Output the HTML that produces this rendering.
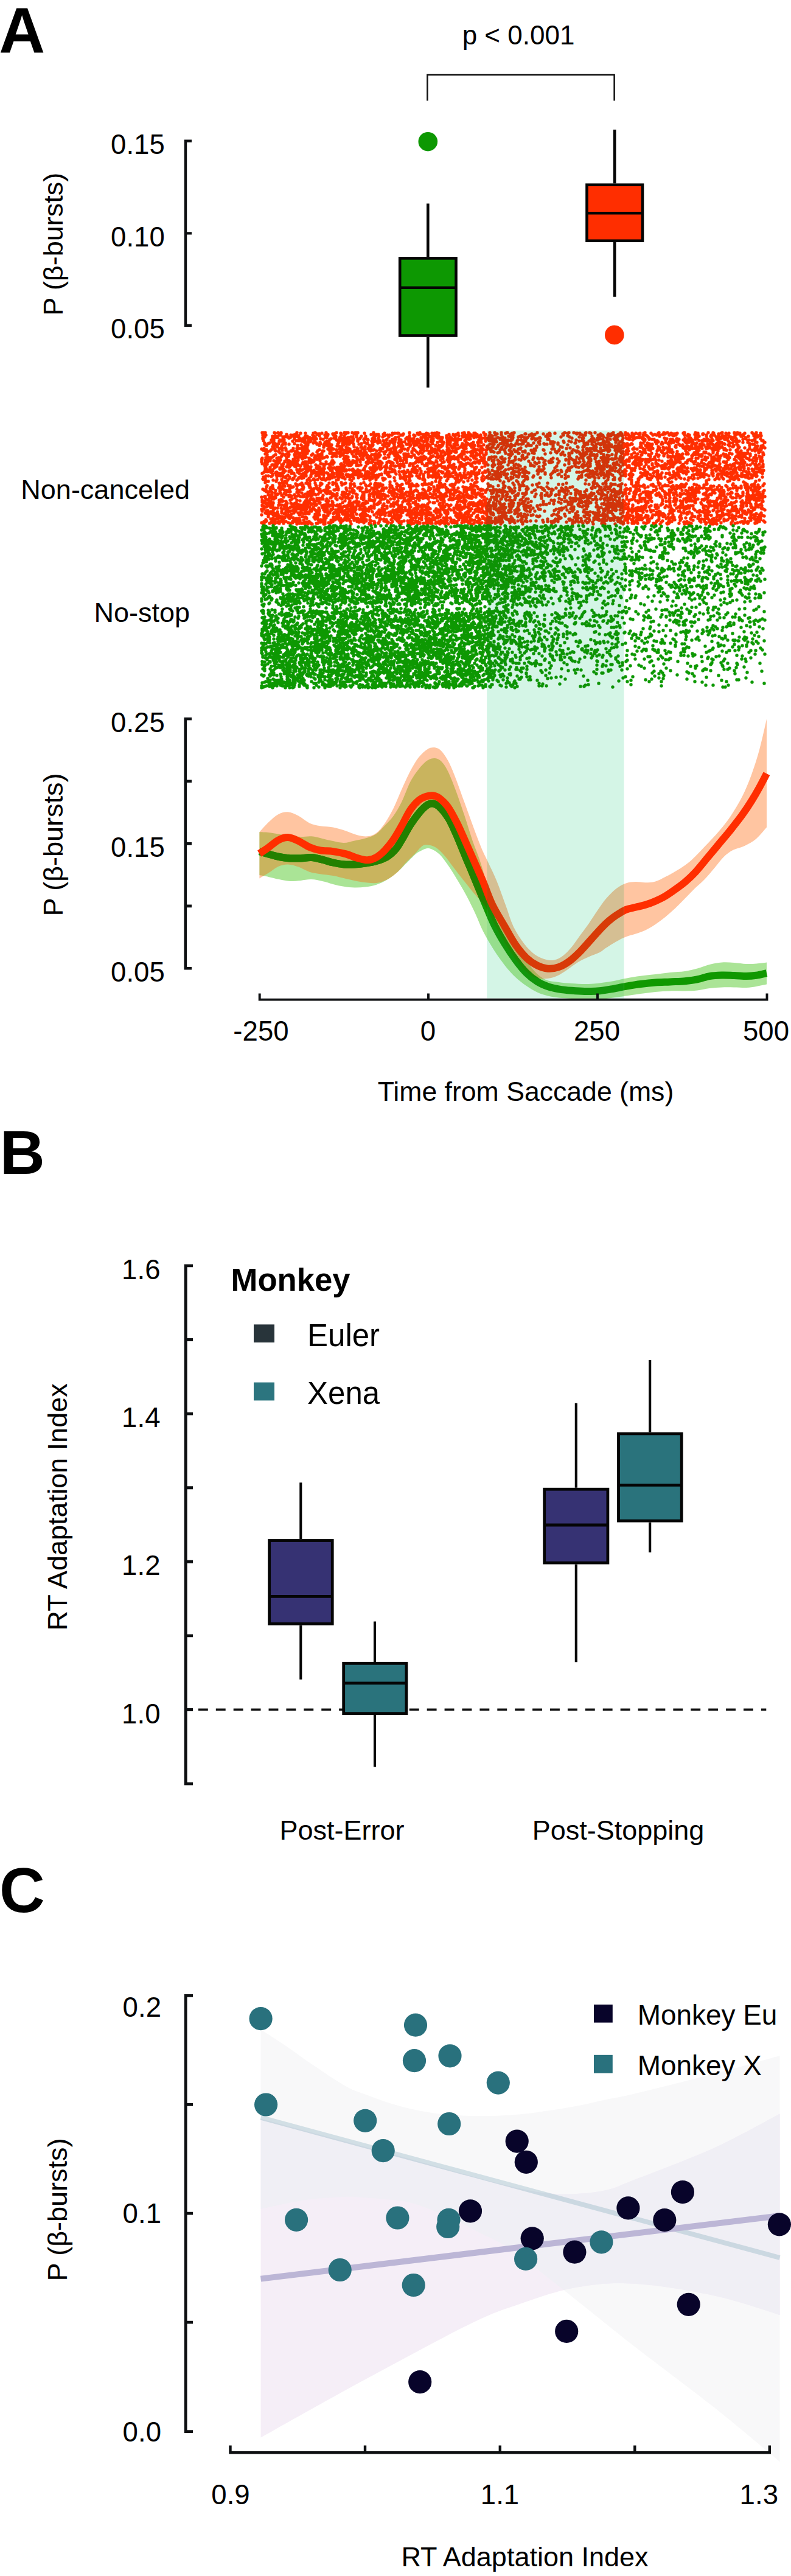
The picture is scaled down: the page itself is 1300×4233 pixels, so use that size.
<!DOCTYPE html>
<html><head><meta charset="utf-8"><title>Figure</title>
<style>html,body{margin:0;padding:0;background:#fff}svg{display:block}text{font-family:"Liberation Sans",sans-serif;fill:#000}.b{font-weight:bold}.ax{stroke:#0d0f11;fill:none}</style></head>
<body>
<svg width="1300" height="4233" viewBox="0 0 1300 4233">
<rect width="1300" height="4233" fill="#fff"/>
<g id="panelA">
<text class="b" x="-1.8" y="86.6" font-size="105">A</text>
<text x="852" y="72.8" font-size="44" text-anchor="middle">p &lt; 0.001</text>
<path d="M702.4 165.6V123H1009.6V165.6" fill="none" stroke="#111" stroke-width="2.5"/>
<path class="ax" stroke-width="4.4" d="M315 231.8H305V534.7H315M305 383.4H315"/>
<text x="270.8" y="253.4" font-size="45.6" text-anchor="end">0.15</text>
<text x="270.8" y="405.0" font-size="45.6" text-anchor="end">0.10</text>
<text x="270.8" y="556.3" font-size="45.6" text-anchor="end">0.05</text>
<text transform="translate(102.6 401.2) rotate(-90)" font-size="45" text-anchor="middle">P (β-bursts)</text>
<path d="M703.3 334.4V422.1M703.3 553.8V636.8" stroke="#050505" stroke-width="4.6" fill="none"/>
<rect x="657.2" y="424.4" width="92.3" height="127.1" fill="#0d9802" stroke="#050505" stroke-width="4.6"/>
<path d="M657.2 472.8H749.5" stroke="#050505" stroke-width="4.6"/>
<path d="M1010.2 212.9V301.4M1010.2 398.0V487.8" stroke="#050505" stroke-width="4.6" fill="none"/>
<rect x="964.5" y="303.7" width="91.5" height="92.0" fill="#ff2e00" stroke="#050505" stroke-width="4.6"/>
<path d="M964.5 350.2H1056.0" stroke="#050505" stroke-width="4.6"/>
<circle cx="703.3" cy="232.7" r="15.8" fill="#0d9802"/>
<circle cx="1009.8" cy="550.4" r="15.8" fill="#ff2e00"/>
<text x="312" y="820" font-size="45" text-anchor="end">Non-canceled</text>
<text x="312" y="1022.2" font-size="45" text-anchor="end">No-stop</text>
<rect x="800.2" y="707.5" width="225.3" height="933.0" fill="#d4f5e6"/>
<path stroke-width="5.4" stroke-linecap="round" fill="none" stroke="#ff2e00" d="M431 711h0m2 0h0m3 0h0m15 0h0m6 0h0m5 0h0m26 0h0m30 0h0m18 0h0m17 0h0m13 0h0m1 0h0m3 0h0m2 0h0m7 0h0m5 0h0m2 0h0m2 0h0m26 0h0m59 0h0m17 0h0m28 0h0m45 0h0m7 0h0m25 0h0M452 712h0m10 0h0m32 0h0m8 0h0m13 0h0m14 0h0m31 0h0m23 0h0m16 0h0m33 0h0m13 0h0m4 0h0m4 0h0m2 0h0m31 0h0m15 0h0m9 0h0m4 0h0m7 0h0m32 0h0m7 0h0m11 0h0m8 0h0m2 0h0M459 713h0m28 0h0m34 0h0m3 0h0m1 0h0m22 0h0m2 0h0m1 0h0m18 0h0m14 0h0m63 0h0m1 0h0m17 0h0m24 0h0m3 0h0m1 0h0m13 0h0m8 0h0m4 0h0m3 0h0m63 0h0M471 714h0m14 0h0m36 0h0m18 0h0m22 0h0m25 0h0m24 0h0m9 0h0m2 0h0m1 0h0m8 0h0m58 0h0m7 0h0m3 0h0m40 0h0m7 0h0m5 0h0m13 0h0m1 0h0m9 0h0m9 0h0m2 0h0m13 0h0m1 0h0M432 715h0m5 0h0m24 0h0m17 0h0m4 0h0m4 0h0m28 0h0m20 0h0m14 0h0m67 0h0m1 0h0m3 0h0m14 0h0m4 0h0m3 0h0m4 0h0m15 0h0m3 0h0m18 0h0m16 0h0m5 0h0m10 0h0m34 0h0m24 0h0m5 0h0m6 0h0m10 0h0m7 0h0M471 716h0m1 0h0m10 0h0m6 0h0m3 0h0m34 0h0m13 0h0m28 0h0m20 0h0m31 0h0m15 0h0m41 0h0m9 0h0m32 0h0m1 0h0m19 0h0m20 0h0m22 0h0m3 0h0m1 0h0m5 0h0m5 0h0M434 717h0m14 0h0m4 0h0m1 0h0m2 0h0m2 0h0m22 0h0m8 0h0m15 0h0m3 0h0m11 0h0m34 0h0m2 0h0m42 0h0m7 0h0m22 0h0m83 0h0m11 0h0m2 0h0m2 0h0m27 0h0m12 0h0m9 0h0m4 0h0m15 0h0M435 718h0m30 0h0m2 0h0m1 0h0m4 0h0m1 0h0m17 0h0m25 0h0m1 0h0m2 0h0m41 0h0m18 0h0m3 0h0m6 0h0m43 0h0m10 0h0m16 0h0m52 0h0m1 0h0m32 0h0m21 0h0m4 0h0m18 0h0m4 0h0m1 0h0M432 719h0m16 0h0m8 0h0m21 0h0m26 0h0m3 0h0m3 0h0m26 0h0m2 0h0m35 0h0m2 0h0m40 0h0m36 0h0m19 0h0m23 0h0m2 0h0m5 0h0m19 0h0m7 0h0m1 0h0m1 0h0m7 0h0m1 0h0m44 0h0m10 0h0M451 720h0m24 0h0m9 0h0m8 0h0m7 0h0m3 0h0m16 0h0m31 0h0m9 0h0m4 0h0m3 0h0m2 0h0m3 0h0m3 0h0m7 0h0m12 0h0m21 0h0m9 0h0m52 0h0m6 0h0m22 0h0m8 0h0m10 0h0m3 0h0m2 0h0m17 0h0m6 0h0m44 0h0m4 0h0m3 0h0M432 721h0m18 0h0m15 0h0m19 0h0m10 0h0m14 0h0m4 0h0m4 0h0m3 0h0m1 0h0m7 0h0m17 0h0m8 0h0m39 0h0m8 0h0m13 0h0m4 0h0m32 0h0m19 0h0m2 0h0m23 0h0m19 0h0m1 0h0m29 0h0m11 0h0m17 0h0m4 0h0M494 722h0m4 0h0m18 0h0m15 0h0m11 0h0m19 0h0m10 0h0m10 0h0m17 0h0m5 0h0m1 0h0m32 0h0m9 0h0m5 0h0m6 0h0m15 0h0m7 0h0m1 0h0m7 0h0m6 0h0m10 0h0m1 0h0m34 0h0m17 0h0m3 0h0m9 0h0m5 0h0m20 0h0m9 0h0M446 723h0m1 0h0m13 0h0m7 0h0m40 0h0m10 0h0m36 0h0m4 0h0m3 0h0m8 0h0m20 0h0m17 0h0m11 0h0m19 0h0m24 0h0m50 0h0m17 0h0m9 0h0m7 0h0m3 0h0m1 0h0m2 0h0m5 0h0m34 0h0M433 724h0m17 0h0m37 0h0m2 0h0m1 0h0m2 0h0m9 0h0m40 0h0m17 0h0m5 0h0m13 0h0m3 0h0m1 0h0m44 0h0m6 0h0m16 0h0m43 0h0m10 0h0m10 0h0m3 0h0m28 0h0m24 0h0m24 0h0M447 725h0m12 0h0m3 0h0m3 0h0m16 0h0m15 0h0m1 0h0m14 0h0m6 0h0m20 0h0m3 0h0m27 0h0m21 0h0m23 0h0m6 0h0m3 0h0m21 0h0m2 0h0m1 0h0m2 0h0m10 0h0m16 0h0m3 0h0m3 0h0m5 0h0m11 0h0m1 0h0m28 0h0m14 0h0m61 0h0M448 726h0m52 0h0m6 0h0m3 0h0m47 0h0m8 0h0m8 0h0m8 0h0m34 0h0m17 0h0m12 0h0m6 0h0m10 0h0m6 0h0m8 0h0m13 0h0m11 0h0m5 0h0m6 0h0m18 0h0m12 0h0m28 0h0m20 0h0M526 727h0m8 0h0m5 0h0m18 0h0m9 0h0m11 0h0m22 0h0m26 0h0m35 0h0m21 0h0m2 0h0m5 0h0m31 0h0m10 0h0m6 0h0m5 0h0m9 0h0m2 0h0m27 0h0m7 0h0m6 0h0M435 728h0m8 0h0m8 0h0m18 0h0m32 0h0m14 0h0m5 0h0m21 0h0m22 0h0m38 0h0m3 0h0m17 0h0m15 0h0m10 0h0m2 0h0m7 0h0m5 0h0m13 0h0m6 0h0m3 0h0m6 0h0m1 0h0m46 0h0M441 729h0m8 0h0m9 0h0m26 0h0m22 0h0m20 0h0m1 0h0m11 0h0m1 0h0m24 0h0m6 0h0m2 0h0m23 0h0m9 0h0m9 0h0m23 0h0m5 0h0m62 0h0m9 0h0m49 0h0m9 0h0m6 0h0m11 0h0M435 730h0m19 0h0m2 0h0m9 0h0m4 0h0m6 0h0m46 0h0m12 0h0m22 0h0m15 0h0m2 0h0m2 0h0m7 0h0m9 0h0m58 0h0m20 0h0m2 0h0m58 0h0m8 0h0m10 0h0m24 0h0M437 731h0m27 0h0m31 0h0m11 0h0m39 0h0m20 0h0m48 0h0m16 0h0m1 0h0m3 0h0m15 0h0m8 0h0m2 0h0m2 0h0m15 0h0m10 0h0m7 0h0m3 0h0m10 0h0m21 0h0m9 0h0m5 0h0m11 0h0m1 0h0m12 0h0m31 0h0M437 732h0m1 0h0m14 0h0m37 0h0m14 0h0m22 0h0m7 0h0m5 0h0m2 0h0m2 0h0m66 0h0m24 0h0m8 0h0m9 0h0m13 0h0m20 0h0m19 0h0m4 0h0m3 0h0m9 0h0m6 0h0m5 0h0m21 0h0m11 0h0m14 0h0m3 0h0m1 0h0m1 0h0m2 0h0M463 733h0m91 0h0m3 0h0m5 0h0m47 0h0m3 0h0m20 0h0m23 0h0m3 0h0m4 0h0m12 0h0m24 0h0m6 0h0m14 0h0m23 0h0m5 0h0m13 0h0m3 0h0m4 0h0m9 0h0m2 0h0m9 0h0m2 0h0m2 0h0M448 734h0m8 0h0m41 0h0m3 0h0m5 0h0m77 0h0m12 0h0m6 0h0m59 0h0m30 0h0m6 0h0m25 0h0m4 0h0m1 0h0m10 0h0m12 0h0m44 0h0M532 735h0m9 0h0m28 0h0m24 0h0m14 0h0m2 0h0m27 0h0m60 0h0m7 0h0m53 0h0m9 0h0m10 0h0m1 0h0m15 0h0m9 0h0M469 736h0m73 0h0m1 0h0m2 0h0m26 0h0m1 0h0m15 0h0m59 0h0m5 0h0m10 0h0m30 0h0m1 0h0m17 0h0m13 0h0m21 0h0m1 0h0m17 0h0M434 737h0m17 0h0m9 0h0m4 0h0m18 0h0m6 0h0m2 0h0m2 0h0m4 0h0m3 0h0m61 0h0m2 0h0m34 0h0m9 0h0m20 0h0m4 0h0m42 0h0m8 0h0m17 0h0m6 0h0m8 0h0m27 0h0m12 0h0m4 0h0m13 0h0m13 0h0M430 738h0m22 0h0m7 0h0m11 0h0m33 0h0m2 0h0m34 0h0m9 0h0m10 0h0m12 0h0m3 0h0m2 0h0m13 0h0m22 0h0m32 0h0m8 0h0m15 0h0m14 0h0m1 0h0m13 0h0m16 0h0m6 0h0m5 0h0m16 0h0m15 0h0m12 0h0m17 0h0m14 0h0M438 739h0m8 0h0m51 0h0m28 0h0m28 0h0m47 0h0m9 0h0m6 0h0m9 0h0m13 0h0m1 0h0m4 0h0m17 0h0m1 0h0m10 0h0m25 0h0m17 0h0m1 0h0m1 0h0m5 0h0m16 0h0m3 0h0m11 0h0m31 0h0m4 0h0m1 0h0m3 0h0m5 0h0m1 0h0m6 0h0M433 740h0m1 0h0m3 0h0m15 0h0m12 0h0m6 0h0m11 0h0m18 0h0m1 0h0m66 0h0m17 0h0m2 0h0m14 0h0m8 0h0m6 0h0m35 0h0m22 0h0m12 0h0m20 0h0m7 0h0m26 0h0m57 0h0m7 0h0M444 741h0m9 0h0m25 0h0m2 0h0m8 0h0m12 0h0m7 0h0m15 0h0m8 0h0m2 0h0m10 0h0m2 0h0m17 0h0m6 0h0m16 0h0m5 0h0m5 0h0m16 0h0m10 0h0m7 0h0m31 0h0m3 0h0m31 0h0m6 0h0m19 0h0m1 0h0m6 0h0m5 0h0m12 0h0m5 0h0m31 0h0m1 0h0m4 0h0m8 0h0m2 0h0M437 742h0m3 0h0m18 0h0m27 0h0m20 0h0m39 0h0m10 0h0m14 0h0m1 0h0m4 0h0m4 0h0m4 0h0m12 0h0m7 0h0m34 0h0m16 0h0m1 0h0m26 0h0m29 0h0m7 0h0m14 0h0m9 0h0m4 0h0m20 0h0m3 0h0m14 0h0m12 0h0M474 743h0m23 0h0m24 0h0m38 0h0m12 0h0m6 0h0m54 0h0m13 0h0m4 0h0m10 0h0m27 0h0m30 0h0m12 0h0m21 0h0m2 0h0m18 0h0m5 0h0m4 0h0m1 0h0M460 744h0m30 0h0m7 0h0m5 0h0m55 0h0m3 0h0m6 0h0m5 0h0m8 0h0m14 0h0m5 0h0m4 0h0m39 0h0m11 0h0m25 0h0m13 0h0m19 0h0m6 0h0m3 0h0m13 0h0m6 0h0m4 0h0m19 0h0m17 0h0m15 0h0m7 0h0M487 745h0m6 0h0m12 0h0m24 0h0m13 0h0m1 0h0m5 0h0m2 0h0m2 0h0m4 0h0m31 0h0m14 0h0m22 0h0m30 0h0m35 0h0m6 0h0m11 0h0m1 0h0m33 0h0m36 0h0m8 0h0M436 746h0m28 0h0m1 0h0m6 0h0m1 0h0m14 0h0m5 0h0m23 0h0m14 0h0m1 0h0m34 0h0m16 0h0m6 0h0m5 0h0m27 0h0m15 0h0m9 0h0m6 0h0m3 0h0m2 0h0m12 0h0m3 0h0m4 0h0m17 0h0m31 0h0m6 0h0m11 0h0m22 0h0m5 0h0m36 0h0M439 747h0m14 0h0m12 0h0m10 0h0m9 0h0m7 0h0m7 0h0m4 0h0m23 0h0m22 0h0m48 0h0m1 0h0m15 0h0m4 0h0m6 0h0m32 0h0m11 0h0m55 0h0m12 0h0m56 0h0m1 0h0M468 748h0m44 0h0m11 0h0m6 0h0m31 0h0m1 0h0m3 0h0m32 0h0m2 0h0m1 0h0m5 0h0m15 0h0m6 0h0m13 0h0m16 0h0m26 0h0m1 0h0m57 0h0m18 0h0m28 0h0m11 0h0m2 0h0M450 749h0m13 0h0m30 0h0m25 0h0m2 0h0m7 0h0m23 0h0m42 0h0m57 0h0m3 0h0m2 0h0m58 0h0m42 0h0m1 0h0m4 0h0m15 0h0m5 0h0m2 0h0M474 750h0m11 0h0m12 0h0m4 0h0m36 0h0m16 0h0m6 0h0m10 0h0m12 0h0m16 0h0m12 0h0m14 0h0m47 0h0m2 0h0m3 0h0m22 0h0m11 0h0m3 0h0m9 0h0m3 0h0m5 0h0m9 0h0m9 0h0m9 0h0M440 751h0m8 0h0m14 0h0m26 0h0m3 0h0m2 0h0m5 0h0m5 0h0m35 0h0m8 0h0m26 0h0m13 0h0m1 0h0m30 0h0m7 0h0m16 0h0m18 0h0m11 0h0m8 0h0m16 0h0m2 0h0m15 0h0m8 0h0m4 0h0m4 0h0m17 0h0m24 0h0m12 0h0m12 0h0M437 752h0m5 0h0m2 0h0m14 0h0m13 0h0m15 0h0m11 0h0m2 0h0m2 0h0m16 0h0m16 0h0m35 0h0m35 0h0m7 0h0m6 0h0m3 0h0m1 0h0m13 0h0m20 0h0m11 0h0m2 0h0m1 0h0m16 0h0m8 0h0m1 0h0m8 0h0m8 0h0m12 0h0m6 0h0m11 0h0m1 0h0m13 0h0M431 753h0m7 0h0m7 0h0m10 0h0m1 0h0m29 0h0m23 0h0m11 0h0m5 0h0m6 0h0m36 0h0m3 0h0m18 0h0m9 0h0m10 0h0m4 0h0m21 0h0m2 0h0m1 0h0m18 0h0m1 0h0m4 0h0m1 0h0m29 0h0m49 0h0m23 0h0m10 0h0m10 0h0m15 0h0m2 0h0M444 754h0m13 0h0m40 0h0m12 0h0m17 0h0m39 0h0m29 0h0m96 0h0m8 0h0m7 0h0m23 0h0m10 0h0m4 0h0m5 0h0m4 0h0m2 0h0m15 0h0m15 0h0M430 755h0m52 0h0m39 0h0m76 0h0m9 0h0m5 0h0m5 0h0m33 0h0m17 0h0m2 0h0m26 0h0m1 0h0m58 0h0m9 0h0m31 0h0m1 0h0M436 756h0m5 0h0m3 0h0m17 0h0m10 0h0m1 0h0m11 0h0m7 0h0m22 0h0m56 0h0m3 0h0m2 0h0m14 0h0m4 0h0m21 0h0m39 0h0m1 0h0m52 0h0m2 0h0m18 0h0m11 0h0m5 0h0m24 0h0m9 0h0m18 0h0M444 757h0m6 0h0m6 0h0m3 0h0m16 0h0m10 0h0m23 0h0m7 0h0m1 0h0m10 0h0m20 0h0m1 0h0m20 0h0m2 0h0m11 0h0m25 0h0m8 0h0m8 0h0m37 0h0m4 0h0m23 0h0m32 0h0m71 0h0m5 0h0m3 0h0M430 758h0m22 0h0m16 0h0m21 0h0m24 0h0m3 0h0m66 0h0m42 0h0m15 0h0m48 0h0m1 0h0m5 0h0m14 0h0M430 759h0m10 0h0m15 0h0m13 0h0m10 0h0m4 0h0m6 0h0m13 0h0m2 0h0m12 0h0m21 0h0m9 0h0m21 0h0m9 0h0m6 0h0m11 0h0m20 0h0m14 0h0m16 0h0m26 0h0m20 0h0m4 0h0m25 0h0m1 0h0m12 0h0m7 0h0m17 0h0m26 0h0m5 0h0m3 0h0M436 760h0m18 0h0m5 0h0m39 0h0m1 0h0m3 0h0m6 0h0m41 0h0m20 0h0m3 0h0m9 0h0m5 0h0m16 0h0m5 0h0m4 0h0m10 0h0m15 0h0m5 0h0m3 0h0m9 0h0m15 0h0m15 0h0m22 0h0m1 0h0m4 0h0m17 0h0m12 0h0m18 0h0m42 0h0M473 761h0m3 0h0m10 0h0m2 0h0m23 0h0m33 0h0m29 0h0m4 0h0m40 0h0m11 0h0m18 0h0m36 0h0m22 0h0m2 0h0m3 0h0m4 0h0m45 0h0m11 0h0m8 0h0m4 0h0m6 0h0m1 0h0m7 0h0M431 762h0m8 0h0m17 0h0m10 0h0m7 0h0m5 0h0m2 0h0m4 0h0m13 0h0m30 0h0m1 0h0m8 0h0m25 0h0m25 0h0m18 0h0m18 0h0m1 0h0m40 0h0m11 0h0m1 0h0m4 0h0m15 0h0m7 0h0m58 0h0m7 0h0m6 0h0m27 0h0M439 763h0m36 0h0m1 0h0m7 0h0m6 0h0m42 0h0m10 0h0m1 0h0m5 0h0m13 0h0m11 0h0m6 0h0m1 0h0m80 0h0m88 0h0m15 0h0M447 764h0m1 0h0m2 0h0m1 0h0m12 0h0m10 0h0m6 0h0m9 0h0m13 0h0m4 0h0m14 0h0m46 0h0m23 0h0m5 0h0m42 0h0m65 0h0m20 0h0m4 0h0m21 0h0m20 0h0M435 765h0m42 0h0m15 0h0m9 0h0m32 0h0m28 0h0m1 0h0m11 0h0m3 0h0m10 0h0m3 0h0m25 0h0m2 0h0m1 0h0m7 0h0m2 0h0m17 0h0m12 0h0m1 0h0m4 0h0m4 0h0m9 0h0m25 0h0m4 0h0m11 0h0m8 0h0m3 0h0m14 0h0m4 0h0m14 0h0m7 0h0m11 0h0M455 766h0m10 0h0m19 0h0m3 0h0m7 0h0m7 0h0m3 0h0m2 0h0m17 0h0m44 0h0m34 0h0m22 0h0m11 0h0m1 0h0m7 0h0m6 0h0m2 0h0m29 0h0m7 0h0m30 0h0m4 0h0m17 0h0m4 0h0m1 0h0m17 0h0m2 0h0m15 0h0m21 0h0M454 767h0m17 0h0m5 0h0m10 0h0m18 0h0m7 0h0m32 0h0m89 0h0m1 0h0m31 0h0m64 0h0m3 0h0m6 0h0m1 0h0m1 0h0m4 0h0m3 0h0M437 768h0m7 0h0m31 0h0m51 0h0m6 0h0m22 0h0m2 0h0m4 0h0m63 0h0m11 0h0m2 0h0m45 0h0m46 0h0m22 0h0m6 0h0m28 0h0m9 0h0M436 769h0m15 0h0m9 0h0m1 0h0m49 0h0m10 0h0m20 0h0m7 0h0m2 0h0m1 0h0m15 0h0m34 0h0m9 0h0m1 0h0m2 0h0m3 0h0m3 0h0m2 0h0m8 0h0m30 0h0m25 0h0m27 0h0m2 0h0m6 0h0m19 0h0m7 0h0m2 0h0m10 0h0m25 0h0M461 770h0m40 0h0m3 0h0m2 0h0m4 0h0m11 0h0m12 0h0m19 0h0m74 0h0m15 0h0m49 0h0m15 0h0m10 0h0m16 0h0m15 0h0m18 0h0m17 0h0M460 771h0m4 0h0m2 0h0m27 0h0m10 0h0m1 0h0m24 0h0m14 0h0m20 0h0m2 0h0m16 0h0m19 0h0m10 0h0m10 0h0m6 0h0m19 0h0m34 0h0m25 0h0m29 0h0m13 0h0m9 0h0m26 0h0m1 0h0M436 772h0m4 0h0m4 0h0m4 0h0m40 0h0m1 0h0m8 0h0m12 0h0m16 0h0m4 0h0m24 0h0m5 0h0m11 0h0m5 0h0m4 0h0m10 0h0m9 0h0m13 0h0m4 0h0m20 0h0m14 0h0m31 0h0m5 0h0m28 0h0M478 773h0m15 0h0m2 0h0m16 0h0m5 0h0m27 0h0m14 0h0m5 0h0m108 0h0m7 0h0m3 0h0m5 0h0m30 0h0m32 0h0m17 0h0m24 0h0M448 774h0m21 0h0m6 0h0m4 0h0m27 0h0m40 0h0m20 0h0m3 0h0m11 0h0m3 0h0m4 0h0m4 0h0m1 0h0m24 0h0m29 0h0m4 0h0m15 0h0m22 0h0m6 0h0m15 0h0m3 0h0m11 0h0m15 0h0m61 0h0M435 775h0m4 0h0m1 0h0m35 0h0m1 0h0m52 0h0m1 0h0m3 0h0m14 0h0m58 0h0m10 0h0m19 0h0m1 0h0m10 0h0m12 0h0m5 0h0m10 0h0m6 0h0m38 0h0m10 0h0m13 0h0m37 0h0m4 0h0m20 0h0M434 776h0m11 0h0m9 0h0m1 0h0m10 0h0m24 0h0m13 0h0m2 0h0m10 0h0m2 0h0m3 0h0m3 0h0m1 0h0m6 0h0m25 0h0m5 0h0m2 0h0m29 0h0m11 0h0m4 0h0m1 0h0m33 0h0m1 0h0m9 0h0m27 0h0m5 0h0m4 0h0m14 0h0m5 0h0m1 0h0m7 0h0m16 0h0m7 0h0m62 0h0m1 0h0M453 777h0m1 0h0m12 0h0m15 0h0m31 0h0m4 0h0m8 0h0m8 0h0m5 0h0m19 0h0m34 0h0m17 0h0m5 0h0m21 0h0m34 0h0m17 0h0m1 0h0m7 0h0m25 0h0m10 0h0m1 0h0m16 0h0m5 0h0m14 0h0m6 0h0m1 0h0m14 0h0m9 0h0M431 778h0m26 0h0m2 0h0m3 0h0m17 0h0m4 0h0m9 0h0m7 0h0m14 0h0m9 0h0m17 0h0m10 0h0m6 0h0m26 0h0m4 0h0m3 0h0m3 0h0m46 0h0m76 0h0m21 0h0m1 0h0m21 0h0m19 0h0m3 0h0m5 0h0m4 0h0M448 779h0m49 0h0m23 0h0m1 0h0m2 0h0m2 0h0m3 0h0m20 0h0m15 0h0m31 0h0m13 0h0m5 0h0m15 0h0m11 0h0m13 0h0m13 0h0m9 0h0m47 0h0m13 0h0m7 0h0m10 0h0m6 0h0m13 0h0m3 0h0M454 780h0m78 0h0m12 0h0m1 0h0m9 0h0m5 0h0m2 0h0m8 0h0m1 0h0m2 0h0m7 0h0m2 0h0m4 0h0m6 0h0m1 0h0m2 0h0m6 0h0m3 0h0m11 0h0m9 0h0m1 0h0m3 0h0m10 0h0m20 0h0m18 0h0m15 0h0m6 0h0m8 0h0m17 0h0m12 0h0m3 0h0m13 0h0m24 0h0m8 0h0m3 0h0M448 781h0m16 0h0m9 0h0m26 0h0m4 0h0m8 0h0m29 0h0m3 0h0m3 0h0m26 0h0m1 0h0m2 0h0m4 0h0m40 0h0m4 0h0m73 0h0m19 0h0m17 0h0m1 0h0m1 0h0m6 0h0m14 0h0m3 0h0m6 0h0m2 0h0M437 782h0m4 0h0m15 0h0m5 0h0m24 0h0m18 0h0m16 0h0m5 0h0m31 0h0m34 0h0m5 0h0m5 0h0m19 0h0m2 0h0m20 0h0m25 0h0m12 0h0m8 0h0m23 0h0m2 0h0m24 0h0m26 0h0m14 0h0m8 0h0m12 0h0M446 783h0m9 0h0m10 0h0m5 0h0m25 0h0m16 0h0m30 0h0m14 0h0m16 0h0m9 0h0m14 0h0m7 0h0m1 0h0m1 0h0m2 0h0m2 0h0m32 0h0m2 0h0m17 0h0m6 0h0m4 0h0m4 0h0m17 0h0m20 0h0m6 0h0m1 0h0m15 0h0m6 0h0m2 0h0m5 0h0M433 784h0m34 0h0m9 0h0m17 0h0m32 0h0m17 0h0m1 0h0m7 0h0m8 0h0m6 0h0m1 0h0m10 0h0m1 0h0m31 0h0m2 0h0m1 0h0m1 0h0m5 0h0m5 0h0m75 0h0m8 0h0m7 0h0m5 0h0m3 0h0m2 0h0m1 0h0m30 0h0m30 0h0M470 785h0m21 0h0m2 0h0m6 0h0m33 0h0m14 0h0m17 0h0m26 0h0m17 0h0m42 0h0m12 0h0m13 0h0m15 0h0m37 0h0m26 0h0m7 0h0m1 0h0m5 0h0m2 0h0m5 0h0m11 0h0m10 0h0m6 0h0M436 786h0m40 0h0m6 0h0m1 0h0m13 0h0m12 0h0m30 0h0m2 0h0m41 0h0m21 0h0m10 0h0m17 0h0m1 0h0m28 0h0m5 0h0m27 0h0m27 0h0m31 0h0m1 0h0m35 0h0M432 787h0m58 0h0m26 0h0m12 0h0m2 0h0m9 0h0m3 0h0m25 0h0m31 0h0m35 0h0m64 0h0m39 0h0m46 0h0M433 788h0m3 0h0m19 0h0m8 0h0m18 0h0m34 0h0m7 0h0m8 0h0m26 0h0m19 0h0m43 0h0m49 0h0m6 0h0m22 0h0m57 0h0m6 0h0m34 0h0m3 0h0M449 789h0m24 0h0m15 0h0m17 0h0m12 0h0m18 0h0m18 0h0m55 0h0m22 0h0m36 0h0m32 0h0m25 0h0m29 0h0m5 0h0m19 0h0M510 790h0m68 0h0m71 0h0m25 0h0m60 0h0m35 0h0m24 0h0M440 791h0m1 0h0m13 0h0m14 0h0m204 0h0m44 0h0m34 0h0M641 792h0m110 0h0m3 0h0m8 0h0m22 0h0M436 793h0m28 0h0m83 0h0m14 0h0m37 0h0m100 0h0m12 0h0m12 0h0m59 0h0M459 794h0m12 0h0m25 0h0m7 0h0m3 0h0m12 0h0m9 0h0m14 0h0m10 0h0m17 0h0m49 0h0m51 0h0m1 0h0m55 0h0m56 0h0M486 795h0m20 0h0m3 0h0m20 0h0m24 0h0m13 0h0m10 0h0m6 0h0m11 0h0m16 0h0m11 0h0m2 0h0m3 0h0m27 0h0m25 0h0m28 0h0m43 0h0M460 796h0m6 0h0m27 0h0m35 0h0m19 0h0m30 0h0m5 0h0m34 0h0m25 0h0m20 0h0m12 0h0m12 0h0m9 0h0m5 0h0m3 0h0m7 0h0m22 0h0m12 0h0m31 0h0M487 797h0m2 0h0m9 0h0m11 0h0m10 0h0m43 0h0m39 0h0m15 0h0m13 0h0m25 0h0m5 0h0m14 0h0m22 0h0m32 0h0m13 0h0m2 0h0m5 0h0M439 798h0m9 0h0m17 0h0m9 0h0m3 0h0m20 0h0m11 0h0m18 0h0m12 0h0m15 0h0m1 0h0m22 0h0m31 0h0m12 0h0m8 0h0m27 0h0m23 0h0m3 0h0m7 0h0m32 0h0m4 0h0m55 0h0M448 799h0m20 0h0m20 0h0m32 0h0m19 0h0m44 0h0m19 0h0m17 0h0m2 0h0m20 0h0m3 0h0m40 0h0m59 0h0m32 0h0m4 0h0m4 0h0M438 800h0m21 0h0m23 0h0m55 0h0m18 0h0m61 0h0m7 0h0m29 0h0m6 0h0m15 0h0m40 0h0m13 0h0m2 0h0m33 0h0m15 0h0M445 801h0m3 0h0m12 0h0m2 0h0m17 0h0m19 0h0m1 0h0m10 0h0m1 0h0m10 0h0m17 0h0m4 0h0m13 0h0m37 0h0m29 0h0m21 0h0m3 0h0m31 0h0m30 0h0m28 0h0m32 0h0m8 0h0m1 0h0m11 0h0M458 802h0m97 0h0m14 0h0m6 0h0m13 0h0m7 0h0m16 0h0m18 0h0m3 0h0m3 0h0m70 0h0m17 0h0m11 0h0m13 0h0m7 0h0m15 0h0m5 0h0m3 0h0M444 803h0m5 0h0m15 0h0m12 0h0m40 0h0m5 0h0m1 0h0m1 0h0m1 0h0m32 0h0m13 0h0m10 0h0m35 0h0m17 0h0m15 0h0m15 0h0m2 0h0m42 0h0m3 0h0m10 0h0m46 0h0m22 0h0M432 804h0m5 0h0m39 0h0m12 0h0m8 0h0m2 0h0m15 0h0m13 0h0m27 0h0m49 0h0m17 0h0m9 0h0m24 0h0m43 0h0m23 0h0m18 0h0m10 0h0m25 0h0m3 0h0m17 0h0M461 805h0m6 0h0m56 0h0m3 0h0m9 0h0m14 0h0m2 0h0m5 0h0m92 0h0m8 0h0m4 0h0m15 0h0m9 0h0m13 0h0m9 0h0m8 0h0m20 0h0m8 0h0m21 0h0m13 0h0m4 0h0m9 0h0m5 0h0M435 806h0m18 0h0m18 0h0m21 0h0m40 0h0m7 0h0m31 0h0m11 0h0m11 0h0m16 0h0m22 0h0m10 0h0m15 0h0m5 0h0m44 0h0m12 0h0m21 0h0m13 0h0m17 0h0m11 0h0m13 0h0m8 0h0M445 807h0m15 0h0m9 0h0m41 0h0m5 0h0m12 0h0m7 0h0m5 0h0m40 0h0m2 0h0m1 0h0m20 0h0m4 0h0m8 0h0m7 0h0m5 0h0m18 0h0m2 0h0m10 0h0m19 0h0m6 0h0m5 0h0m35 0h0m55 0h0M438 808h0m2 0h0m2 0h0m30 0h0m4 0h0m1 0h0m14 0h0m34 0h0m18 0h0m32 0h0m6 0h0m22 0h0m36 0h0m22 0h0m38 0h0m14 0h0m7 0h0m16 0h0m11 0h0m7 0h0m9 0h0m15 0h0m2 0h0M447 809h0m41 0h0m18 0h0m8 0h0m13 0h0m8 0h0m28 0h0m2 0h0m31 0h0m3 0h0m17 0h0m6 0h0m18 0h0m1 0h0m4 0h0m23 0h0m3 0h0m2 0h0m1 0h0m5 0h0m61 0h0m9 0h0m49 0h0M452 810h0m9 0h0m35 0h0m42 0h0m42 0h0m18 0h0m19 0h0m1 0h0m26 0h0m5 0h0m25 0h0m20 0h0m29 0h0m10 0h0m24 0h0m19 0h0m1 0h0m9 0h0M467 811h0m43 0h0m27 0h0m5 0h0m4 0h0m8 0h0m14 0h0m44 0h0m4 0h0m32 0h0m11 0h0m1 0h0m6 0h0m8 0h0m4 0h0m11 0h0m11 0h0m7 0h0m17 0h0m9 0h0m7 0h0m27 0h0m20 0h0m1 0h0M456 812h0m1 0h0m45 0h0m2 0h0m8 0h0m5 0h0m6 0h0m25 0h0m19 0h0m6 0h0m1 0h0m11 0h0m23 0h0m7 0h0m3 0h0m8 0h0m4 0h0m17 0h0m6 0h0m12 0h0m8 0h0m23 0h0m20 0h0m16 0h0m12 0h0m2 0h0m15 0h0m7 0h0m12 0h0m3 0h0m7 0h0m3 0h0M441 813h0m4 0h0m2 0h0m6 0h0m2 0h0m15 0h0m14 0h0m7 0h0m28 0h0m29 0h0m5 0h0m9 0h0m10 0h0m15 0h0m11 0h0m9 0h0m15 0h0m10 0h0m12 0h0m3 0h0m45 0h0m19 0h0m5 0h0m12 0h0m54 0h0m1 0h0M463 814h0m12 0h0m1 0h0m23 0h0m6 0h0m2 0h0m2 0h0m3 0h0m1 0h0m18 0h0m15 0h0m4 0h0m4 0h0m42 0h0m18 0h0m12 0h0m19 0h0m13 0h0m21 0h0m7 0h0m1 0h0m3 0h0m9 0h0m3 0h0m24 0h0m4 0h0m16 0h0m8 0h0m12 0h0m23 0h0m2 0h0M479 815h0m6 0h0m4 0h0m58 0h0m17 0h0m1 0h0m1 0h0m32 0h0m9 0h0m1 0h0m16 0h0m3 0h0m1 0h0m5 0h0m2 0h0m3 0h0m25 0h0m6 0h0m3 0h0m50 0h0m3 0h0m9 0h0m18 0h0m10 0h0m7 0h0m3 0h0m3 0h0M435 816h0m1 0h0m39 0h0m4 0h0m15 0h0m3 0h0m2 0h0m80 0h0m16 0h0m1 0h0m18 0h0m12 0h0m26 0h0m22 0h0m14 0h0m32 0h0m20 0h0m12 0h0m5 0h0m11 0h0m2 0h0m4 0h0m18 0h0M430 817h0m17 0h0m4 0h0m15 0h0m38 0h0m1 0h0m25 0h0m36 0h0m2 0h0m4 0h0m14 0h0m9 0h0m1 0h0m1 0h0m23 0h0m29 0h0m25 0h0m2 0h0m19 0h0m2 0h0m5 0h0m3 0h0m4 0h0m1 0h0m19 0h0m1 0h0m31 0h0m7 0h0m8 0h0m1 0h0m5 0h0m10 0h0m4 0h0M436 818h0m7 0h0m1 0h0m9 0h0m32 0h0m19 0h0m7 0h0m32 0h0m1 0h0m8 0h0m7 0h0m10 0h0m9 0h0m9 0h0m11 0h0m26 0h0m31 0h0m4 0h0m26 0h0m1 0h0m4 0h0m8 0h0m4 0h0m11 0h0m4 0h0m6 0h0m1 0h0m33 0h0m14 0h0m2 0h0M521 819h0m2 0h0m2 0h0m27 0h0m21 0h0m21 0h0m13 0h0m26 0h0m14 0h0m17 0h0m1 0h0m15 0h0m6 0h0m9 0h0m34 0h0m12 0h0m3 0h0m5 0h0m14 0h0m12 0h0M437 820h0m10 0h0m3 0h0m30 0h0m35 0h0m13 0h0m3 0h0m6 0h0m25 0h0m36 0h0m30 0h0m3 0h0m11 0h0m6 0h0m26 0h0m2 0h0m28 0h0m20 0h0m22 0h0m7 0h0m2 0h0m45 0h0M441 821h0m21 0h0m48 0h0m44 0h0m43 0h0m10 0h0m9 0h0m10 0h0m45 0h0m1 0h0m1 0h0m1 0h0m51 0h0m13 0h0m4 0h0m2 0h0M431 822h0m28 0h0m18 0h0m11 0h0m27 0h0m1 0h0m8 0h0m84 0h0m2 0h0m1 0h0m53 0h0m8 0h0m3 0h0m14 0h0m106 0h0M436 823h0m29 0h0m28 0h0m9 0h0m4 0h0m15 0h0m1 0h0m14 0h0m4 0h0m27 0h0m8 0h0m11 0h0m27 0h0m24 0h0m17 0h0m13 0h0m52 0h0m11 0h0m25 0h0m6 0h0m3 0h0m2 0h0m23 0h0M443 824h0m2 0h0m15 0h0m4 0h0m6 0h0m76 0h0m56 0h0m13 0h0m68 0h0m45 0h0m30 0h0m1 0h0m6 0h0m25 0h0M431 825h0m12 0h0m64 0h0m10 0h0m65 0h0m2 0h0m6 0h0m33 0h0m14 0h0m1 0h0m1 0h0m13 0h0m10 0h0m10 0h0m11 0h0m23 0h0m22 0h0m2 0h0m22 0h0m11 0h0m26 0h0m2 0h0m7 0h0M433 826h0m8 0h0m8 0h0m10 0h0m12 0h0m16 0h0m13 0h0m2 0h0m7 0h0m17 0h0m21 0h0m16 0h0m11 0h0m15 0h0m11 0h0m4 0h0m21 0h0m22 0h0m5 0h0m1 0h0m26 0h0m2 0h0m31 0h0m2 0h0m48 0h0m10 0h0m3 0h0m3 0h0m8 0h0M439 827h0m7 0h0m3 0h0m22 0h0m1 0h0m6 0h0m7 0h0m23 0h0m2 0h0m6 0h0m9 0h0m14 0h0m40 0h0m10 0h0m8 0h0m4 0h0m82 0h0m40 0h0m69 0h0M437 828h0m3 0h0m5 0h0m35 0h0m3 0h0m3 0h0m19 0h0m9 0h0m2 0h0m21 0h0m58 0h0m3 0h0m2 0h0m20 0h0m2 0h0m9 0h0m18 0h0m3 0h0m18 0h0m33 0h0m67 0h0m10 0h0m2 0h0m13 0h0m5 0h0M471 829h0m12 0h0m5 0h0m2 0h0m16 0h0m6 0h0m8 0h0m39 0h0m18 0h0m10 0h0m28 0h0m5 0h0m23 0h0m1 0h0m30 0h0m9 0h0m2 0h0m2 0h0m35 0h0m6 0h0m6 0h0m17 0h0m13 0h0m13 0h0m9 0h0m4 0h0M431 830h0m10 0h0m6 0h0m1 0h0m10 0h0m1 0h0m4 0h0m5 0h0m2 0h0m19 0h0m4 0h0m4 0h0m5 0h0m16 0h0m2 0h0m13 0h0m7 0h0m4 0h0m4 0h0m6 0h0m1 0h0m17 0h0m8 0h0m74 0h0m6 0h0m13 0h0m14 0h0m7 0h0m3 0h0m39 0h0m5 0h0m15 0h0m16 0h0m8 0h0m2 0h0m16 0h0M431 831h0m11 0h0m6 0h0m19 0h0m21 0h0m3 0h0m38 0h0m1 0h0m23 0h0m18 0h0m4 0h0m15 0h0m3 0h0m4 0h0m32 0h0m2 0h0m28 0h0m34 0h0m6 0h0m29 0h0m22 0h0m1 0h0m20 0h0m7 0h0m4 0h0m3 0h0m9 0h0M433 832h0m6 0h0m7 0h0m44 0h0m1 0h0m2 0h0m6 0h0m2 0h0m2 0h0m31 0h0m7 0h0m6 0h0m19 0h0m1 0h0m43 0h0m5 0h0m21 0h0m6 0h0m5 0h0m38 0h0m2 0h0m2 0h0m9 0h0m26 0h0m5 0h0m1 0h0m8 0h0m16 0h0m2 0h0m37 0h0M438 833h0m32 0h0m1 0h0m7 0h0m4 0h0m5 0h0m15 0h0m5 0h0m1 0h0m1 0h0m21 0h0m7 0h0m24 0h0m3 0h0m13 0h0m8 0h0m13 0h0m11 0h0m49 0h0m3 0h0m12 0h0m2 0h0m11 0h0m17 0h0m1 0h0m23 0h0m1 0h0m3 0h0m26 0h0m5 0h0m2 0h0m4 0h0M445 834h0m2 0h0m30 0h0m38 0h0m15 0h0m27 0h0m3 0h0m21 0h0m11 0h0m8 0h0m7 0h0m29 0h0m21 0h0m3 0h0m6 0h0m27 0h0m7 0h0m25 0h0m34 0h0m10 0h0m17 0h0m13 0h0M449 835h0m3 0h0m4 0h0m6 0h0m10 0h0m11 0h0m7 0h0m6 0h0m28 0h0m10 0h0m37 0h0m28 0h0m11 0h0m5 0h0m13 0h0m8 0h0m19 0h0m2 0h0m26 0h0m3 0h0m8 0h0m52 0h0m4 0h0m13 0h0M434 836h0m17 0h0m12 0h0m3 0h0m5 0h0m15 0h0m5 0h0m10 0h0m3 0h0m12 0h0m31 0h0m15 0h0m8 0h0m29 0h0m11 0h0m56 0h0m15 0h0m4 0h0m2 0h0m20 0h0m10 0h0m9 0h0m12 0h0m33 0h0m3 0h0m1 0h0m13 0h0m4 0h0M430 837h0m43 0h0m14 0h0m26 0h0m25 0h0m6 0h0m1 0h0m30 0h0m3 0h0m5 0h0m2 0h0m6 0h0m4 0h0m2 0h0m7 0h0m27 0h0m23 0h0m5 0h0m1 0h0m20 0h0m13 0h0m24 0h0m11 0h0m24 0h0m2 0h0m5 0h0m24 0h0m5 0h0M486 838h0m13 0h0m11 0h0m8 0h0m7 0h0m7 0h0m2 0h0m1 0h0m10 0h0m7 0h0m2 0h0m2 0h0m4 0h0m24 0h0m22 0h0m17 0h0m4 0h0m4 0h0m1 0h0m14 0h0m5 0h0m14 0h0m6 0h0m3 0h0m11 0h0m14 0h0m3 0h0m19 0h0m8 0h0m12 0h0m30 0h0m10 0h0m7 0h0m12 0h0M439 839h0m1 0h0m9 0h0m32 0h0m14 0h0m7 0h0m18 0h0m5 0h0m13 0h0m16 0h0m5 0h0m3 0h0m5 0h0m30 0h0m2 0h0m5 0h0m46 0h0m8 0h0m9 0h0m28 0h0m8 0h0m17 0h0m12 0h0m3 0h0m11 0h0m27 0h0m9 0h0m4 0h0M431 840h0m6 0h0m26 0h0m7 0h0m7 0h0m8 0h0m1 0h0m17 0h0m9 0h0m13 0h0m13 0h0m16 0h0m10 0h0m9 0h0m33 0h0m19 0h0m4 0h0m48 0h0m14 0h0m11 0h0m12 0h0m9 0h0m60 0h0m11 0h0m6 0h0M441 841h0m4 0h0m11 0h0m18 0h0m29 0h0m5 0h0m13 0h0m13 0h0m8 0h0m18 0h0m2 0h0m18 0h0m3 0h0m14 0h0m3 0h0m12 0h0m9 0h0m21 0h0m3 0h0m12 0h0m19 0h0m16 0h0m11 0h0m14 0h0m39 0h0m12 0h0m3 0h0m16 0h0m12 0h0M456 842h0m82 0h0m12 0h0m4 0h0m2 0h0m1 0h0m12 0h0m8 0h0m3 0h0m59 0h0m1 0h0m13 0h0m9 0h0m9 0h0m11 0h0m21 0h0m2 0h0m14 0h0m3 0h0m9 0h0m5 0h0m11 0h0m44 0h0M436 843h0m14 0h0m13 0h0m20 0h0m7 0h0m2 0h0m4 0h0m5 0h0m1 0h0m40 0h0m7 0h0m50 0h0m20 0h0m12 0h0m3 0h0m26 0h0m14 0h0m9 0h0m4 0h0m9 0h0m9 0h0m3 0h0m9 0h0m6 0h0m9 0h0m18 0h0m15 0h0m13 0h0m1 0h0m17 0h0M439 844h0m8 0h0m6 0h0m1 0h0m13 0h0m32 0h0m3 0h0m5 0h0m1 0h0m12 0h0m2 0h0m2 0h0m24 0h0m15 0h0m5 0h0m27 0h0m30 0h0m5 0h0m1 0h0m17 0h0m30 0h0m4 0h0m17 0h0m5 0h0m32 0h0m22 0h0m8 0h0m2 0h0m2 0h0m30 0h0M442 845h0m15 0h0m13 0h0m9 0h0m39 0h0m2 0h0m2 0h0m32 0h0m1 0h0m9 0h0m8 0h0m7 0h0m7 0h0m8 0h0m4 0h0m3 0h0m20 0h0m7 0h0m3 0h0m11 0h0m36 0h0m3 0h0m6 0h0m2 0h0m2 0h0m43 0h0m19 0h0m4 0h0M430 846h0m19 0h0m6 0h0m18 0h0m1 0h0m18 0h0m1 0h0m30 0h0m2 0h0m54 0h0m1 0h0m12 0h0m6 0h0m1 0h0m1 0h0m15 0h0m10 0h0m1 0h0m27 0h0m16 0h0m3 0h0m4 0h0m7 0h0m8 0h0m3 0h0m9 0h0m4 0h0m1 0h0m17 0h0m38 0h0m37 0h0M452 847h0m80 0h0m7 0h0m18 0h0m18 0h0m29 0h0m29 0h0m6 0h0m2 0h0m8 0h0m4 0h0m1 0h0m3 0h0m43 0h0m11 0h0m1 0h0m11 0h0m26 0h0m14 0h0m12 0h0m10 0h0M454 848h0m5 0h0m11 0h0m49 0h0m17 0h0m18 0h0m14 0h0m9 0h0m16 0h0m8 0h0m58 0h0m26 0h0m15 0h0m1 0h0m18 0h0m33 0h0m17 0h0m15 0h0M441 849h0m14 0h0m7 0h0m2 0h0m14 0h0m19 0h0m20 0h0m3 0h0m12 0h0m1 0h0m20 0h0m15 0h0m4 0h0m9 0h0m16 0h0m11 0h0m38 0h0m1 0h0m1 0h0m26 0h0m9 0h0m1 0h0m28 0h0m11 0h0m11 0h0m20 0h0m2 0h0m1 0h0m3 0h0m4 0h0m9 0h0m20 0h0m1 0h0M461 850h0m2 0h0m3 0h0m8 0h0m27 0h0m2 0h0m13 0h0m32 0h0m9 0h0m21 0h0m17 0h0m24 0h0m26 0h0m13 0h0m35 0h0m58 0h0m1 0h0m3 0h0m12 0h0m5 0h0m11 0h0M449 851h0m10 0h0m4 0h0m1 0h0m4 0h0m9 0h0m5 0h0m40 0h0m12 0h0m2 0h0m19 0h0m1 0h0m11 0h0m13 0h0m44 0h0m23 0h0m31 0h0m5 0h0m10 0h0m23 0h0m1 0h0m3 0h0m9 0h0m4 0h0m2 0h0m5 0h0m15 0h0m4 0h0m41 0h0M449 852h0m14 0h0m3 0h0m10 0h0m11 0h0m3 0h0m2 0h0m12 0h0m54 0h0m2 0h0m11 0h0m1 0h0m11 0h0m2 0h0m3 0h0m6 0h0m58 0h0m1 0h0m3 0h0m33 0h0m4 0h0m7 0h0m5 0h0m26 0h0m34 0h0m2 0h0m20 0h0m7 0h0m1 0h0M445 853h0m9 0h0m3 0h0m61 0h0m14 0h0m16 0h0m8 0h0m13 0h0m5 0h0m8 0h0m17 0h0m26 0h0m1 0h0m5 0h0m19 0h0m26 0h0m33 0h0m32 0h0m21 0h0M437 854h0m14 0h0m32 0h0m40 0h0m4 0h0m7 0h0m17 0h0m8 0h0m6 0h0m1 0h0m24 0h0m4 0h0m8 0h0m6 0h0m27 0h0m8 0h0m35 0h0m15 0h0m21 0h0m17 0h0m23 0h0m11 0h0m8 0h0m2 0h0m14 0h0m9 0h0M447 855h0m40 0h0m6 0h0m6 0h0m27 0h0m18 0h0m4 0h0m10 0h0m12 0h0m12 0h0m26 0h0m16 0h0m29 0h0m1 0h0m21 0h0m26 0h0m5 0h0m4 0h0m15 0h0m10 0h0m11 0h0m28 0h0m2 0h0m4 0h0M438 856h0m14 0h0m10 0h0m20 0h0m47 0h0m5 0h0m26 0h0m3 0h0m12 0h0m15 0h0m11 0h0m1 0h0m8 0h0m21 0h0m22 0h0m2 0h0m9 0h0m6 0h0m3 0h0m2 0h0m8 0h0m19 0h0m4 0h0m20 0h0m21 0h0m13 0h0m11 0h0m15 0h0M434 857h0m2 0h0m1 0h0m11 0h0m13 0h0m4 0h0m2 0h0m3 0h0m11 0h0m5 0h0m3 0h0m19 0h0m21 0h0m3 0h0m15 0h0m13 0h0m16 0h0m11 0h0m1 0h0m6 0h0m4 0h0m17 0h0m19 0h0m2 0h0m9 0h0m15 0h0m27 0h0m16 0h0m3 0h0m15 0h0m8 0h0m3 0h0m9 0h0m10 0h0m17 0h0m16 0h0m1 0h0M446 858h0m3 0h0m2 0h0m6 0h0m8 0h0m27 0h0m11 0h0m2 0h0m22 0h0m5 0h0m58 0h0m33 0h0m15 0h0m21 0h0m12 0h0m13 0h0m2 0h0m31 0h0m3 0h0m12 0h0m2 0h0m26 0h0m3 0h0m21 0h0m2 0h0m1 0h0M430 859h0m17 0h0m10 0h0m17 0h0m7 0h0m13 0h0m8 0h0m1 0h0m1 0h0m6 0h0m13 0h0m11 0h0m6 0h0m2 0h0m2 0h0m16 0h0m38 0h0m18 0h0m40 0h0m22 0h0m12 0h0m10 0h0m6 0h0m3 0h0m11 0h0m6 0h0m7 0h0m10 0h0m4 0h0m12 0h0m11 0h0m17 0h0m5 0h0m6 0h0M433 860h0m10 0h0m9 0h0m7 0h0m7 0h0m12 0h0m14 0h0m4 0h0m4 0h0m20 0h0m2 0h0m12 0h0m73 0h0m15 0h0m15 0h0m6 0h0m28 0h0m6 0h0m2 0h0m1 0h0m7 0h0m1 0h0m2 0h0m6 0h0m12 0h0m2 0h0m6 0h0m35 0h0m21 0h0m7 0h0m11 0h0M434 861h0m16 0h0m38 0h0m13 0h0m5 0h0m6 0h0m1 0h0m19 0h0m2 0h0m43 0h0m30 0h0m2 0h0m6 0h0m44 0h0m13 0h0m1 0h0m3 0h0m26 0h0m21 0h0m8 0h0m6 0h0m38 0h0m2 0h0m12 0h0"/>
<path stroke-width="5.4" stroke-linecap="round" fill="none" stroke="#d1340a" d="M805 711h0m8 0h0m11 0h0m9 0h0m1 0h0m11 0h0m38 0h0m45 0h0m7 0h0m8 0h0m20 0h0m6 0h0m9 0h0m30 0h0m12 0h0M831 712h0m11 0h0m61 0h0m9 0h0m21 0h0m14 0h0m2 0h0m4 0h0m9 0h0m9 0h0M817 713h0m23 0h0m23 0h0m1 0h0m10 0h0m19 0h0m11 0h0m21 0h0m23 0h0m39 0h0m13 0h0m5 0h0m13 0h0m4 0h0M824 714h0m15 0h0m34 0h0m6 0h0m21 0h0m54 0h0m52 0h0m2 0h0m8 0h0m2 0h0M806 715h0m8 0h0m29 0h0m27 0h0m56 0h0m31 0h0m5 0h0m21 0h0m7 0h0m9 0h0m5 0h0m11 0h0m5 0h0M804 716h0m4 0h0m49 0h0m1 0h0m12 0h0m34 0h0m29 0h0m54 0h0m4 0h0m13 0h0m7 0h0m2 0h0m10 0h0M804 717h0m5 0h0m27 0h0m19 0h0m21 0h0m21 0h0m76 0h0m27 0h0m16 0h0M826 718h0m13 0h0m13 0h0m5 0h0m65 0h0m14 0h0m16 0h0m6 0h0m26 0h0m8 0h0m22 0h0M805 719h0m13 0h0m25 0h0m19 0h0m5 0h0m8 0h0m12 0h0m13 0h0M802 720h0m20 0h0m8 0h0m33 0h0m25 0h0m52 0h0m17 0h0m2 0h0m23 0h0m15 0h0m1 0h0m15 0h0m11 0h0M804 721h0m6 0h0m4 0h0m51 0h0m9 0h0m5 0h0m4 0h0m93 0h0m11 0h0m22 0h0m5 0h0M804 722h0m4 0h0m2 0h0m12 0h0m3 0h0m5 0h0m12 0h0m58 0h0m2 0h0m70 0h0m19 0h0m12 0h0M810 723h0m21 0h0m4 0h0m5 0h0m11 0h0m5 0h0m24 0h0m67 0h0m24 0h0m10 0h0m2 0h0m28 0h0m4 0h0m8 0h0M804 724h0m11 0h0m11 0h0m14 0h0m19 0h0m98 0h0m41 0h0M808 725h0m1 0h0m26 0h0m15 0h0m12 0h0m2 0h0m23 0h0m39 0h0m9 0h0m17 0h0m7 0h0m9 0h0m7 0h0m17 0h0M812 726h0m4 0h0m89 0h0m2 0h0m2 0h0m30 0h0m38 0h0m19 0h0m23 0h0m2 0h0M826 727h0m2 0h0m1 0h0m56 0h0m26 0h0m16 0h0m46 0h0m18 0h0m9 0h0m12 0h0M832 728h0m45 0h0m40 0h0m28 0h0m1 0h0m14 0h0m4 0h0m37 0h0m23 0h0M810 729h0m12 0h0m1 0h0m5 0h0m20 0h0m10 0h0m2 0h0m8 0h0m26 0h0m11 0h0m78 0h0m1 0h0m3 0h0m5 0h0m25 0h0m8 0h0M805 730h0m7 0h0m22 0h0m6 0h0m12 0h0m5 0h0m30 0h0m8 0h0m4 0h0m18 0h0m49 0h0m7 0h0m7 0h0m6 0h0m1 0h0m2 0h0m5 0h0M828 731h0m81 0h0m24 0h0m29 0h0m25 0h0m8 0h0m10 0h0m12 0h0M810 732h0m9 0h0m19 0h0m2 0h0m2 0h0m4 0h0m24 0h0m3 0h0m87 0h0m37 0h0m4 0h0m21 0h0M801 733h0m31 0h0m2 0h0m31 0h0m17 0h0m27 0h0m50 0h0m1 0h0m16 0h0m3 0h0m19 0h0m1 0h0m5 0h0m7 0h0m3 0h0M802 734h0m8 0h0m8 0h0m21 0h0m82 0h0m28 0h0m11 0h0m33 0h0m4 0h0m9 0h0M810 735h0m15 0h0m15 0h0m42 0h0m42 0h0m26 0h0m8 0h0m21 0h0m1 0h0m18 0h0m11 0h0m9 0h0m1 0h0M807 736h0m17 0h0m7 0h0m25 0h0m81 0h0m40 0h0m47 0h0M803 737h0m12 0h0m39 0h0m77 0h0m34 0h0m5 0h0m2 0h0m15 0h0m14 0h0M825 738h0m27 0h0m3 0h0m23 0h0m29 0h0m4 0h0m53 0h0m11 0h0m38 0h0m3 0h0m4 0h0M806 739h0m16 0h0m7 0h0m9 0h0m7 0h0m48 0h0m26 0h0m23 0h0m27 0h0m26 0h0m5 0h0m16 0h0M837 740h0m36 0h0m6 0h0m1 0h0m14 0h0m64 0h0m12 0h0m7 0h0m3 0h0m12 0h0m1 0h0m6 0h0m3 0h0m9 0h0m7 0h0M809 741h0m41 0h0m13 0h0m13 0h0m42 0h0m28 0h0m3 0h0m16 0h0m1 0h0m2 0h0m21 0h0m10 0h0m17 0h0m2 0h0m1 0h0M807 742h0m3 0h0m20 0h0m10 0h0m7 0h0m1 0h0m1 0h0m10 0h0m54 0h0m27 0h0m44 0h0m16 0h0m24 0h0M812 743h0m9 0h0m20 0h0m22 0h0m62 0h0m23 0h0m4 0h0m20 0h0M818 744h0m57 0h0m30 0h0m10 0h0m25 0h0m19 0h0m3 0h0m59 0h0m2 0h0M831 745h0m21 0h0m1 0h0m25 0h0m57 0h0m24 0h0m1 0h0m1 0h0m27 0h0m25 0h0m9 0h0m2 0h0M838 746h0m4 0h0m26 0h0m1 0h0m27 0h0m26 0h0m2 0h0m11 0h0m18 0h0m2 0h0m9 0h0M836 747h0m86 0h0m39 0h0m9 0h0m6 0h0m5 0h0m11 0h0m14 0h0M859 748h0m69 0h0m8 0h0m19 0h0m19 0h0m18 0h0m6 0h0m14 0h0M839 749h0m121 0h0m21 0h0m20 0h0M858 750h0m77 0h0m35 0h0m8 0h0m42 0h0M808 751h0m4 0h0m1 0h0m2 0h0m10 0h0m22 0h0m19 0h0m82 0h0m7 0h0m13 0h0m23 0h0m21 0h0M804 752h0m1 0h0m18 0h0m36 0h0m18 0h0m80 0h0m9 0h0m22 0h0m6 0h0m25 0h0m5 0h0M807 753h0m30 0h0m26 0h0m21 0h0m6 0h0m19 0h0m27 0h0m2 0h0m41 0h0m12 0h0m6 0h0m2 0h0m14 0h0m6 0h0m2 0h0M825 754h0m5 0h0m32 0h0m23 0h0m1 0h0m6 0h0m24 0h0m23 0h0m13 0h0m6 0h0m20 0h0m27 0h0m2 0h0m3 0h0M803 755h0m44 0h0m6 0h0m23 0h0m30 0h0m24 0h0m5 0h0m33 0h0m3 0h0m19 0h0m6 0h0m4 0h0m7 0h0m11 0h0m5 0h0M812 756h0m6 0h0m28 0h0m10 0h0m74 0h0m12 0h0m4 0h0m45 0h0M809 757h0m87 0h0m50 0h0m13 0h0m12 0h0m22 0h0M811 758h0m9 0h0m8 0h0m9 0h0m5 0h0m27 0h0m33 0h0m17 0h0m66 0h0m11 0h0m27 0h0M829 759h0m11 0h0m1 0h0m67 0h0m27 0h0m12 0h0m6 0h0m7 0h0m7 0h0m13 0h0m1 0h0m10 0h0m8 0h0m15 0h0m6 0h0M822 760h0m1 0h0m2 0h0m12 0h0m6 0h0m36 0h0m7 0h0m8 0h0m9 0h0m2 0h0m90 0h0M811 761h0m106 0h0m27 0h0m3 0h0m4 0h0m31 0h0m12 0h0m1 0h0m14 0h0M819 762h0m4 0h0m49 0h0m10 0h0m53 0h0m30 0h0m5 0h0m38 0h0m4 0h0m12 0h0M811 763h0m37 0h0m48 0h0m63 0h0m22 0h0m4 0h0m28 0h0m1 0h0m10 0h0M802 764h0m11 0h0m22 0h0m17 0h0m76 0h0m29 0h0m35 0h0m6 0h0m13 0h0m6 0h0m7 0h0M809 765h0m36 0h0m27 0h0m3 0h0m70 0h0m16 0h0m1 0h0m8 0h0m12 0h0M855 766h0m23 0h0m15 0h0m22 0h0m41 0h0m14 0h0m12 0h0m5 0h0m6 0h0m10 0h0m6 0h0M810 767h0m10 0h0m3 0h0m3 0h0m60 0h0m54 0h0m7 0h0m20 0h0m31 0h0m22 0h0M823 768h0m40 0h0m75 0h0m13 0h0m7 0h0M818 769h0m6 0h0m16 0h0m8 0h0m3 0h0m61 0h0m22 0h0m50 0h0m2 0h0m4 0h0m15 0h0m7 0h0M822 770h0m19 0h0m2 0h0m51 0h0m85 0h0m14 0h0m10 0h0M821 771h0m15 0h0m22 0h0m108 0h0m27 0h0m10 0h0m4 0h0m12 0h0M802 772h0m29 0h0m23 0h0m7 0h0m23 0h0m2 0h0m3 0h0m92 0h0m6 0h0m1 0h0M809 773h0m9 0h0m74 0h0m24 0h0m6 0h0m10 0h0m4 0h0m28 0h0m4 0h0m20 0h0m2 0h0m12 0h0m4 0h0M829 774h0m15 0h0m20 0h0m19 0h0m7 0h0m20 0h0m50 0h0m6 0h0m4 0h0m4 0h0m7 0h0m8 0h0m22 0h0m5 0h0M813 775h0m4 0h0m30 0h0m4 0h0m61 0h0m11 0h0m8 0h0m44 0h0m23 0h0m1 0h0m17 0h0m1 0h0m6 0h0m1 0h0M804 776h0m14 0h0m6 0h0m35 0h0m7 0h0m19 0h0m63 0h0m4 0h0m5 0h0m23 0h0m44 0h0m1 0h0M828 777h0m13 0h0m12 0h0m10 0h0m6 0h0m27 0h0m12 0h0m72 0h0m6 0h0m4 0h0m2 0h0m9 0h0M805 778h0m9 0h0m7 0h0m20 0h0m2 0h0m11 0h0m8 0h0m108 0h0m2 0h0m14 0h0m12 0h0m21 0h0M815 779h0m13 0h0m3 0h0m3 0h0m50 0h0m12 0h0m10 0h0m13 0h0m50 0h0m8 0h0m1 0h0m26 0h0M804 780h0m6 0h0m2 0h0m8 0h0m9 0h0m16 0h0m60 0h0m12 0h0m12 0h0m36 0h0m17 0h0m11 0h0m7 0h0M818 781h0m1 0h0m4 0h0m30 0h0m103 0h0m7 0h0m5 0h0m7 0h0m13 0h0m19 0h0m18 0h0M849 782h0m2 0h0m12 0h0m14 0h0m78 0h0m19 0h0m23 0h0m24 0h0M801 783h0m14 0h0m4 0h0m4 0h0m9 0h0m17 0h0m10 0h0m7 0h0m57 0h0m11 0h0m18 0h0m3 0h0M808 784h0m32 0h0m12 0h0m11 0h0m13 0h0m79 0h0m1 0h0m11 0h0m2 0h0m1 0h0m6 0h0m24 0h0M820 785h0m12 0h0m8 0h0m3 0h0m24 0h0m21 0h0m18 0h0m24 0h0m21 0h0m27 0h0m6 0h0m9 0h0m17 0h0M803 786h0m31 0h0m95 0h0m90 0h0M807 787h0m3 0h0m1 0h0m5 0h0m4 0h0m20 0h0m24 0h0m3 0h0m83 0h0m68 0h0M999 788h0m9 0h0m2 0h0M963 789h0m56 0h0M822 790h0m14 0h0m13 0h0m12 0h0m116 0h0M996 791h0M828 792h0m23 0h0M859 793h0m116 0h0m20 0h0M827 794h0m16 0h0m43 0h0m14 0h0m31 0h0m46 0h0M802 795h0m160 0h0m14 0h0m5 0h0m10 0h0m5 0h0m8 0h0m18 0h0M853 796h0m29 0h0m36 0h0m7 0h0m43 0h0m37 0h0m2 0h0m4 0h0M845 797h0m30 0h0m107 0h0m36 0h0M806 798h0m13 0h0m9 0h0m29 0h0m4 0h0m114 0h0m7 0h0m22 0h0m12 0h0M803 799h0m2 0h0m25 0h0m154 0h0M810 800h0m56 0h0m18 0h0m15 0h0m42 0h0m53 0h0m4 0h0m4 0h0m1 0h0m17 0h0M829 801h0m7 0h0m18 0h0m35 0h0m41 0h0m7 0h0m41 0h0m10 0h0M827 802h0m11 0h0m8 0h0m45 0h0m23 0h0m9 0h0m49 0h0m22 0h0m8 0h0M868 803h0m25 0h0m9 0h0m30 0h0m41 0h0m13 0h0m14 0h0M801 804h0m37 0h0m27 0h0m27 0h0m15 0h0m17 0h0m1 0h0m68 0h0m16 0h0m11 0h0M811 805h0m1 0h0m1 0h0m1 0h0m2 0h0m5 0h0m20 0h0m13 0h0m12 0h0m14 0h0m29 0h0m36 0h0m2 0h0m17 0h0m21 0h0m3 0h0m7 0h0M806 806h0m14 0h0m4 0h0m54 0h0m17 0h0m34 0h0m35 0h0m40 0h0m6 0h0m9 0h0M828 807h0m1 0h0m9 0h0m8 0h0m73 0h0m2 0h0m4 0h0m1 0h0m2 0h0m6 0h0m16 0h0m70 0h0M818 808h0m2 0h0m9 0h0m1 0h0m13 0h0m63 0h0m22 0h0m26 0h0m7 0h0m21 0h0m7 0h0m17 0h0m8 0h0m3 0h0M811 809h0m6 0h0m7 0h0m1 0h0m8 0h0m11 0h0m21 0h0m9 0h0m45 0h0m9 0h0m25 0h0m37 0h0m9 0h0m13 0h0M808 810h0m2 0h0m32 0h0m57 0h0m20 0h0m27 0h0m1 0h0m25 0h0m39 0h0m8 0h0m5 0h0M808 811h0m18 0h0m26 0h0m7 0h0m4 0h0m2 0h0m25 0h0m16 0h0m32 0h0m38 0h0m8 0h0m6 0h0m25 0h0M834 812h0m47 0h0m18 0h0m33 0h0m20 0h0m2 0h0m33 0h0m30 0h0m8 0h0M816 813h0m34 0h0m13 0h0m42 0h0m9 0h0m5 0h0m11 0h0m16 0h0m17 0h0m6 0h0m2 0h0m22 0h0m11 0h0M832 814h0m16 0h0m3 0h0m38 0h0m7 0h0m17 0h0m43 0h0m4 0h0m12 0h0m1 0h0m24 0h0m13 0h0M820 815h0m6 0h0m20 0h0m55 0h0m2 0h0m56 0h0m30 0h0m15 0h0m1 0h0m18 0h0M816 816h0m11 0h0m6 0h0m46 0h0m11 0h0m38 0h0m26 0h0m11 0h0m14 0h0m25 0h0m7 0h0m1 0h0m1 0h0M808 817h0m3 0h0m27 0h0m22 0h0m30 0h0m74 0h0m4 0h0m37 0h0M847 818h0m81 0h0m9 0h0m9 0h0m9 0h0m4 0h0m11 0h0m18 0h0m9 0h0m5 0h0m3 0h0m13 0h0M890 819h0m29 0h0m18 0h0m4 0h0m14 0h0m39 0h0M816 820h0m7 0h0m1 0h0m7 0h0m34 0h0m3 0h0m80 0h0m2 0h0m16 0h0m12 0h0m9 0h0m6 0h0m7 0h0M806 821h0m7 0h0m33 0h0m11 0h0m66 0h0m20 0h0m31 0h0m7 0h0m22 0h0m5 0h0m3 0h0m7 0h0M805 822h0m27 0h0m5 0h0m2 0h0m16 0h0m51 0h0m5 0h0m35 0h0m48 0h0m30 0h0M817 823h0m25 0h0m21 0h0m48 0h0m20 0h0m15 0h0m7 0h0m11 0h0m35 0h0M860 824h0m2 0h0m11 0h0m20 0h0m17 0h0m18 0h0m10 0h0m4 0h0m11 0h0m3 0h0m6 0h0m6 0h0m46 0h0m4 0h0M804 825h0m17 0h0m97 0h0m15 0h0m28 0h0m38 0h0M811 826h0m31 0h0m26 0h0m84 0h0m4 0h0m15 0h0m9 0h0m27 0h0m17 0h0M803 827h0m18 0h0m1 0h0m18 0h0m3 0h0m1 0h0m8 0h0m6 0h0m35 0h0m10 0h0m19 0h0m46 0h0m25 0h0m10 0h0m3 0h0m13 0h0m1 0h0M803 828h0m12 0h0m7 0h0m7 0h0m8 0h0m3 0h0m12 0h0m3 0h0m55 0h0m30 0h0m24 0h0m25 0h0m3 0h0m13 0h0m5 0h0M827 829h0m34 0h0m32 0h0m5 0h0m36 0h0m3 0h0m13 0h0m1 0h0m42 0h0m3 0h0m3 0h0m8 0h0m7 0h0m2 0h0m4 0h0m2 0h0m1 0h0M813 830h0m10 0h0m30 0h0m11 0h0m24 0h0m93 0h0m26 0h0m3 0h0m8 0h0m2 0h0M806 831h0m3 0h0m1 0h0m5 0h0m10 0h0m18 0h0m29 0h0m11 0h0m68 0h0m8 0h0m3 0h0m47 0h0m6 0h0m7 0h0M801 832h0m36 0h0m5 0h0m10 0h0m9 0h0m6 0h0m16 0h0m70 0h0m13 0h0m31 0h0m5 0h0m3 0h0m5 0h0m7 0h0M812 833h0m17 0h0m12 0h0m27 0h0m62 0h0m10 0h0m3 0h0m14 0h0m23 0h0m1 0h0m2 0h0m22 0h0M824 834h0m7 0h0m20 0h0m14 0h0m5 0h0m118 0h0m13 0h0m24 0h0M806 835h0m8 0h0m6 0h0m1 0h0m41 0h0m14 0h0m47 0h0m3 0h0m74 0h0m12 0h0m9 0h0M806 836h0m6 0h0m13 0h0m3 0h0m12 0h0m22 0h0m23 0h0m34 0h0m19 0h0m26 0h0m20 0h0m11 0h0m12 0h0m18 0h0M803 837h0m3 0h0m11 0h0m12 0h0m9 0h0m11 0h0m2 0h0m1 0h0m12 0h0m22 0h0m2 0h0m26 0h0m27 0h0m2 0h0m49 0h0m6 0h0m2 0h0M801 838h0m2 0h0m13 0h0m35 0h0m2 0h0m10 0h0m9 0h0m48 0h0m3 0h0m9 0h0m28 0h0m23 0h0m9 0h0m18 0h0m3 0h0m6 0h0M802 839h0m20 0h0m14 0h0m10 0h0m2 0h0m63 0h0m83 0h0m6 0h0m12 0h0M806 840h0m14 0h0m8 0h0m38 0h0m13 0h0m16 0h0m46 0h0m64 0h0m19 0h0M805 841h0m35 0h0m31 0h0m78 0h0m10 0h0m11 0h0m15 0h0M806 842h0m13 0h0m7 0h0m10 0h0m1 0h0m10 0h0m3 0h0m68 0h0m18 0h0m26 0h0m4 0h0m9 0h0m17 0h0m7 0h0m3 0h0m2 0h0m20 0h0M810 843h0m10 0h0m5 0h0m6 0h0m19 0h0m125 0h0m4 0h0m3 0h0M846 844h0m10 0h0m90 0h0m45 0h0m2 0h0m27 0h0M807 845h0m4 0h0m16 0h0m25 0h0m10 0h0m48 0h0m18 0h0m36 0h0m43 0h0M811 846h0m43 0h0m13 0h0m9 0h0m39 0h0m52 0h0m11 0h0m3 0h0m4 0h0m10 0h0M826 847h0m2 0h0m45 0h0m34 0h0m39 0h0m4 0h0m19 0h0m12 0h0m5 0h0m3 0h0m2 0h0m6 0h0m1 0h0M824 848h0m8 0h0m25 0h0m25 0h0m5 0h0m31 0h0m11 0h0m31 0h0m31 0h0m5 0h0m2 0h0m11 0h0m15 0h0M820 849h0m5 0h0m1 0h0m14 0h0m11 0h0m8 0h0m26 0h0m76 0h0m18 0h0m1 0h0m2 0h0m1 0h0m10 0h0M803 850h0m20 0h0m4 0h0m31 0h0m6 0h0m55 0h0m25 0h0m2 0h0m65 0h0M806 851h0m1 0h0m8 0h0m16 0h0m34 0h0m53 0h0m4 0h0m28 0h0m26 0h0m7 0h0m17 0h0m10 0h0m5 0h0m1 0h0m5 0h0M814 852h0m8 0h0m9 0h0m9 0h0m2 0h0m78 0h0m35 0h0m10 0h0m3 0h0m26 0h0m11 0h0M832 853h0m2 0h0m5 0h0m19 0h0m42 0h0m13 0h0m5 0h0m17 0h0m2 0h0m43 0h0m4 0h0m7 0h0m26 0h0M801 854h0m2 0h0m11 0h0m5 0h0m17 0h0m6 0h0m1 0h0m13 0h0m91 0h0m29 0h0m7 0h0m2 0h0m5 0h0M801 855h0m14 0h0m10 0h0m20 0h0m47 0h0m8 0h0m36 0h0m5 0h0m8 0h0m20 0h0m16 0h0m3 0h0m8 0h0m1 0h0m6 0h0m1 0h0m5 0h0m6 0h0M803 856h0m5 0h0m29 0h0m14 0h0m12 0h0m2 0h0m7 0h0m9 0h0m29 0h0m2 0h0m35 0h0m9 0h0m6 0h0m58 0h0M805 857h0m3 0h0m4 0h0m4 0h0m5 0h0m18 0h0m5 0h0m13 0h0m9 0h0m34 0h0m6 0h0m11 0h0m38 0h0m38 0h0m23 0h0M818 858h0m8 0h0m67 0h0m18 0h0m20 0h0m14 0h0m6 0h0m16 0h0m7 0h0m50 0h0M808 859h0m30 0h0m8 0h0m13 0h0m82 0h0m24 0h0m25 0h0m1 0h0m29 0h0m1 0h0M801 860h0m3 0h0m10 0h0m93 0h0m51 0h0m31 0h0m35 0h0m1 0h0M823 861h0m36 0h0m82 0h0m34 0h0m17 0h0m2 0h0m17 0h0m13 0h0"/>
<path stroke-width="5.4" stroke-linecap="round" fill="none" stroke="#ff2e00" d="M1028 711h0m32 0h0m23 0h0m8 0h0m6 0h0m27 0h0m1 0h0m18 0h0m21 0h0m8 0h0m15 0h0m20 0h0m5 0h0m24 0h0m7 0h0M1039 712h0m6 0h0m7 0h0m6 0h0m12 0h0m12 0h0m10 0h0m2 0h0m9 0h0m10 0h0m10 0h0m21 0h0m3 0h0m26 0h0m12 0h0m8 0h0m5 0h0m9 0h0m9 0h0m8 0h0m26 0h0M1032 713h0m7 0h0m10 0h0m34 0h0m9 0h0m1 0h0m8 0h0m5 0h0m3 0h0m1 0h0m45 0h0m1 0h0m25 0h0m31 0h0m1 0h0m25 0h0M1028 714h0m14 0h0m9 0h0m25 0h0m13 0h0m11 0h0m31 0h0m11 0h0m13 0h0m39 0h0m15 0h0m13 0h0m21 0h0M1028 715h0m5 0h0m24 0h0m4 0h0m12 0h0m6 0h0m3 0h0m2 0h0m16 0h0m5 0h0m6 0h0m14 0h0m8 0h0m11 0h0m17 0h0m8 0h0m4 0h0m1 0h0m43 0h0M1039 716h0m24 0h0m44 0h0m23 0h0m18 0h0m33 0h0m7 0h0m20 0h0m13 0h0m18 0h0m4 0h0m4 0h0m4 0h0M1034 717h0m1 0h0m4 0h0m25 0h0m20 0h0m65 0h0m12 0h0m7 0h0m22 0h0m8 0h0m20 0h0m1 0h0m11 0h0M1037 718h0m5 0h0m9 0h0m118 0h0m8 0h0m8 0h0m16 0h0m7 0h0m37 0h0M1047 719h0m4 0h0m4 0h0m2 0h0m9 0h0m77 0h0m50 0h0m11 0h0m4 0h0m17 0h0M1029 720h0m15 0h0m48 0h0m34 0h0m6 0h0m3 0h0m43 0h0m11 0h0m7 0h0m30 0h0m15 0h0M1031 721h0m10 0h0m15 0h0m11 0h0m1 0h0m28 0h0m16 0h0m1 0h0m32 0h0m1 0h0m16 0h0m8 0h0m10 0h0m1 0h0m1 0h0m2 0h0m18 0h0m8 0h0m16 0h0m15 0h0m9 0h0M1034 722h0m1 0h0m22 0h0m3 0h0m7 0h0m5 0h0m3 0h0m27 0h0m3 0h0m11 0h0m27 0h0m14 0h0m21 0h0m13 0h0m2 0h0m17 0h0m11 0h0M1040 723h0m20 0h0m34 0h0m12 0h0m7 0h0m10 0h0m7 0h0m4 0h0m3 0h0m1 0h0m21 0h0m1 0h0m5 0h0m39 0h0m6 0h0m21 0h0m8 0h0M1080 724h0m47 0h0m22 0h0m5 0h0m6 0h0m2 0h0m3 0h0m7 0h0m57 0h0m7 0h0m16 0h0m2 0h0M1059 725h0m43 0h0m6 0h0m6 0h0m16 0h0m1 0h0m25 0h0m6 0h0m8 0h0m27 0h0m11 0h0m5 0h0m2 0h0M1077 726h0m5 0h0m18 0h0m3 0h0m3 0h0m7 0h0m13 0h0m11 0h0m44 0h0m61 0h0M1088 727h0m6 0h0m13 0h0m21 0h0m3 0h0m1 0h0m7 0h0m28 0h0m17 0h0m2 0h0m35 0h0m8 0h0m15 0h0m12 0h0m1 0h0M1053 728h0m4 0h0m7 0h0m36 0h0m3 0h0m25 0h0m17 0h0m34 0h0m6 0h0m15 0h0m4 0h0m7 0h0M1031 729h0m7 0h0m28 0h0m13 0h0m10 0h0m9 0h0m43 0h0m12 0h0m35 0h0m2 0h0m42 0h0M1028 730h0m3 0h0m8 0h0m27 0h0m3 0h0m3 0h0m15 0h0m29 0h0m21 0h0m14 0h0m12 0h0m3 0h0m4 0h0m1 0h0m6 0h0m5 0h0m9 0h0m20 0h0m26 0h0m2 0h0M1026 731h0m9 0h0m18 0h0m64 0h0m5 0h0m15 0h0m13 0h0m6 0h0m1 0h0m40 0h0M1028 732h0m33 0h0m4 0h0m5 0h0m1 0h0m40 0h0m7 0h0m2 0h0m23 0h0m1 0h0m9 0h0m20 0h0m33 0h0m7 0h0m19 0h0m22 0h0M1054 733h0m16 0h0m30 0h0m30 0h0m45 0h0m3 0h0m1 0h0m2 0h0m18 0h0m14 0h0m29 0h0m3 0h0m6 0h0M1026 734h0m5 0h0m51 0h0m28 0h0m12 0h0m5 0h0m4 0h0m4 0h0m2 0h0m14 0h0m2 0h0m10 0h0m23 0h0m18 0h0m1 0h0M1052 735h0m1 0h0m1 0h0m9 0h0m5 0h0m22 0h0m21 0h0m22 0h0m1 0h0m14 0h0m12 0h0m7 0h0m19 0h0m1 0h0m28 0h0m28 0h0m1 0h0M1042 736h0m42 0h0m11 0h0m5 0h0m23 0h0m20 0h0m6 0h0m16 0h0m7 0h0m42 0h0m10 0h0m17 0h0m3 0h0m8 0h0m5 0h0M1032 737h0m25 0h0m11 0h0m2 0h0m3 0h0m9 0h0m2 0h0m7 0h0m34 0h0m5 0h0m7 0h0m1 0h0m4 0h0m12 0h0m7 0h0m1 0h0m15 0h0m5 0h0m9 0h0m22 0h0m19 0h0m18 0h0M1040 738h0m2 0h0m5 0h0m35 0h0m9 0h0m79 0h0m2 0h0m20 0h0m49 0h0M1060 739h0m6 0h0m15 0h0m2 0h0m8 0h0m13 0h0m29 0h0m14 0h0m28 0h0m15 0h0m10 0h0m39 0h0m6 0h0m6 0h0M1030 740h0m28 0h0m2 0h0m9 0h0m29 0h0m1 0h0m4 0h0m46 0h0m45 0h0m16 0h0m2 0h0m17 0h0m7 0h0m10 0h0m1 0h0M1033 741h0m47 0h0m7 0h0m40 0h0m18 0h0m35 0h0m38 0h0m23 0h0M1029 742h0m23 0h0m35 0h0m26 0h0m59 0h0m77 0h0M1058 743h0m43 0h0m5 0h0m51 0h0m3 0h0m51 0h0m6 0h0M1042 744h0m1 0h0m12 0h0m6 0h0m28 0h0m7 0h0m9 0h0m25 0h0m11 0h0m1 0h0m16 0h0m2 0h0m12 0h0m75 0h0m7 0h0M1071 745h0m76 0h0m32 0h0m20 0h0m15 0h0m8 0h0m2 0h0m3 0h0m2 0h0M1029 746h0m1 0h0m2 0h0m16 0h0m31 0h0m13 0h0m20 0h0m1 0h0m9 0h0m6 0h0m3 0h0m34 0h0m24 0h0m14 0h0m15 0h0m8 0h0m7 0h0m21 0h0M1038 747h0m17 0h0m11 0h0m13 0h0m37 0h0m5 0h0m18 0h0m4 0h0m5 0h0m5 0h0m40 0h0m29 0h0m33 0h0M1026 748h0m28 0h0m12 0h0m17 0h0m71 0h0m14 0h0m9 0h0m65 0h0M1046 749h0m45 0h0m7 0h0m8 0h0m31 0h0m1 0h0m12 0h0m35 0h0m12 0h0m14 0h0m3 0h0m19 0h0M1069 750h0m13 0h0m19 0h0m5 0h0m5 0h0m2 0h0m8 0h0m32 0h0m28 0h0m10 0h0m6 0h0m20 0h0m5 0h0m26 0h0M1043 751h0m33 0h0m22 0h0m5 0h0m12 0h0m4 0h0m40 0h0m14 0h0m36 0h0m9 0h0m7 0h0m27 0h0M1035 752h0m3 0h0m1 0h0m11 0h0m59 0h0m54 0h0m7 0h0m11 0h0m14 0h0m4 0h0m15 0h0m5 0h0m20 0h0m13 0h0M1048 753h0m4 0h0m71 0h0m14 0h0m7 0h0m3 0h0m23 0h0m4 0h0m9 0h0m44 0h0m16 0h0m7 0h0M1045 754h0m23 0h0m8 0h0m27 0h0m12 0h0m1 0h0m3 0h0m58 0h0m39 0h0m4 0h0m10 0h0m1 0h0m11 0h0m2 0h0M1034 755h0m12 0h0m3 0h0m6 0h0m1 0h0m5 0h0m4 0h0m8 0h0m37 0h0m6 0h0m18 0h0m24 0h0m12 0h0m27 0h0m10 0h0m43 0h0M1030 756h0m2 0h0m2 0h0m13 0h0m22 0h0m1 0h0m8 0h0m5 0h0m29 0h0m1 0h0m2 0h0m16 0h0m23 0h0m6 0h0m13 0h0m2 0h0m3 0h0m40 0h0m14 0h0m4 0h0m6 0h0M1033 757h0m11 0h0m10 0h0m1 0h0m47 0h0m2 0h0m10 0h0m16 0h0m6 0h0m36 0h0m8 0h0m2 0h0m28 0h0m12 0h0m30 0h0m1 0h0M1026 758h0m3 0h0m1 0h0m4 0h0m19 0h0m1 0h0m34 0h0m10 0h0m45 0h0m95 0h0m5 0h0m7 0h0m2 0h0m1 0h0M1042 759h0m19 0h0m5 0h0m33 0h0m1 0h0m13 0h0m3 0h0m23 0h0m3 0h0m26 0h0m21 0h0m2 0h0m3 0h0m25 0h0M1051 760h0m27 0h0m29 0h0m3 0h0m8 0h0m9 0h0m26 0h0m13 0h0m6 0h0m20 0h0m18 0h0m8 0h0m6 0h0M1041 761h0m5 0h0m4 0h0m50 0h0m4 0h0m6 0h0m19 0h0m36 0h0m1 0h0m46 0h0m2 0h0m23 0h0M1040 762h0m32 0h0m6 0h0m15 0h0m48 0h0m6 0h0m10 0h0m13 0h0m13 0h0m24 0h0m10 0h0M1028 763h0m21 0h0m5 0h0m8 0h0m19 0h0m15 0h0m6 0h0m3 0h0m3 0h0m15 0h0m26 0h0m8 0h0m1 0h0m6 0h0m8 0h0m33 0h0m16 0h0m21 0h0m6 0h0m6 0h0M1044 764h0m7 0h0m21 0h0m10 0h0m22 0h0m42 0h0m16 0h0m8 0h0m25 0h0m5 0h0m22 0h0m6 0h0m5 0h0m8 0h0m13 0h0M1034 765h0m11 0h0m5 0h0m39 0h0m4 0h0m28 0h0m26 0h0m26 0h0m2 0h0m7 0h0m25 0h0m9 0h0m28 0h0M1031 766h0m3 0h0m46 0h0m6 0h0m34 0h0m30 0h0m3 0h0m2 0h0m10 0h0m7 0h0m6 0h0m14 0h0m4 0h0m7 0h0m1 0h0m40 0h0M1059 767h0m7 0h0m40 0h0m13 0h0m5 0h0m1 0h0m42 0h0m3 0h0m9 0h0m43 0h0m1 0h0m29 0h0m2 0h0M1031 768h0m3 0h0m41 0h0m16 0h0m9 0h0m1 0h0m19 0h0m5 0h0m38 0h0m5 0h0m1 0h0m15 0h0m30 0h0m4 0h0m24 0h0M1044 769h0m8 0h0m15 0h0m29 0h0m18 0h0m1 0h0m15 0h0m11 0h0m3 0h0m14 0h0m51 0h0m39 0h0m1 0h0M1037 770h0m2 0h0m13 0h0m20 0h0m16 0h0m4 0h0m25 0h0m2 0h0m10 0h0m7 0h0m3 0h0m5 0h0m14 0h0m1 0h0m19 0h0m11 0h0m1 0h0m3 0h0m5 0h0m3 0h0m7 0h0m8 0h0m7 0h0m7 0h0m14 0h0M1057 771h0m11 0h0m4 0h0m27 0h0m14 0h0m48 0h0m14 0h0m6 0h0m11 0h0m6 0h0m17 0h0m15 0h0m6 0h0m12 0h0M1027 772h0m94 0h0m17 0h0m3 0h0m3 0h0m3 0h0m4 0h0m54 0h0m4 0h0m8 0h0m22 0h0M1043 773h0m17 0h0m85 0h0m4 0h0m2 0h0m19 0h0m1 0h0m12 0h0m7 0h0m63 0h0m2 0h0M1029 774h0m9 0h0m42 0h0m1 0h0m34 0h0m6 0h0m4 0h0m14 0h0m7 0h0m12 0h0m19 0h0m8 0h0m1 0h0m36 0h0m15 0h0m17 0h0M1076 775h0m2 0h0m29 0h0m7 0h0m6 0h0m10 0h0m1 0h0m78 0h0m17 0h0m21 0h0M1027 776h0m34 0h0m1 0h0m2 0h0m61 0h0m3 0h0m62 0h0m5 0h0m6 0h0m3 0h0m4 0h0m23 0h0m12 0h0m7 0h0M1027 777h0m10 0h0m16 0h0m6 0h0m15 0h0m14 0h0m12 0h0m8 0h0m15 0h0m27 0h0m7 0h0m13 0h0m33 0h0m8 0h0m29 0h0m13 0h0M1057 778h0m8 0h0m16 0h0m14 0h0m15 0h0m5 0h0m31 0h0m6 0h0m20 0h0m14 0h0m13 0h0m6 0h0m14 0h0m12 0h0m22 0h0M1028 779h0m28 0h0m6 0h0m38 0h0m28 0h0m16 0h0m5 0h0m21 0h0m10 0h0m2 0h0m6 0h0m8 0h0m33 0h0m2 0h0m9 0h0m3 0h0M1034 780h0m6 0h0m29 0h0m11 0h0m6 0h0m15 0h0m39 0h0m6 0h0m4 0h0m3 0h0m3 0h0m5 0h0m31 0h0m36 0h0m7 0h0M1060 781h0m3 0h0m18 0h0m1 0h0m24 0h0m7 0h0m3 0h0m22 0h0m2 0h0m39 0h0m23 0h0m10 0h0m10 0h0m4 0h0m13 0h0M1028 782h0m8 0h0m27 0h0m11 0h0m12 0h0m79 0h0m7 0h0m8 0h0m15 0h0m8 0h0m6 0h0m8 0h0m5 0h0m22 0h0M1053 783h0m2 0h0m54 0h0m7 0h0m39 0h0m31 0h0m15 0h0m18 0h0m1 0h0m9 0h0m14 0h0M1038 784h0m14 0h0m1 0h0m26 0h0m14 0h0m12 0h0m11 0h0m35 0h0m6 0h0m42 0h0m9 0h0m4 0h0m13 0h0m28 0h0M1071 785h0m11 0h0m3 0h0m2 0h0m18 0h0m27 0h0m3 0h0m43 0h0m32 0h0m2 0h0m17 0h0m5 0h0m2 0h0M1064 786h0m3 0h0m20 0h0m14 0h0m18 0h0m22 0h0m6 0h0m31 0h0m10 0h0m43 0h0M1034 787h0m15 0h0m17 0h0m45 0h0m14 0h0m14 0h0m43 0h0m7 0h0m12 0h0m4 0h0m3 0h0M1050 788h0m19 0h0m12 0h0m17 0h0m67 0h0m10 0h0m31 0h0m8 0h0M1038 789h0m93 0h0m117 0h0M1049 790h0m112 0h0m38 0h0M1196 791h0m46 0h0M1038 792h0m62 0h0m4 0h0m57 0h0m61 0h0M1046 793h0m3 0h0m33 0h0m19 0h0m60 0h0M1225 794h0M1038 795h0m45 0h0m2 0h0m43 0h0m34 0h0m43 0h0m35 0h0m16 0h0M1073 796h0m47 0h0m21 0h0m20 0h0m67 0h0M1028 797h0m17 0h0m13 0h0m12 0h0m13 0h0m10 0h0m26 0h0m5 0h0m21 0h0m12 0h0m47 0h0m20 0h0m11 0h0m1 0h0m1 0h0m9 0h0M1049 798h0m1 0h0m9 0h0m15 0h0m19 0h0m3 0h0m2 0h0m8 0h0m6 0h0m6 0h0m8 0h0m31 0h0m25 0h0m11 0h0m43 0h0m1 0h0m3 0h0m14 0h0M1041 799h0m11 0h0m4 0h0m18 0h0m15 0h0m28 0h0m32 0h0m19 0h0m1 0h0m4 0h0m36 0h0m9 0h0m7 0h0M1065 800h0m13 0h0m25 0h0m4 0h0m12 0h0m4 0h0m2 0h0m70 0h0m35 0h0M1045 801h0m74 0h0m19 0h0m19 0h0m12 0h0m10 0h0m7 0h0m32 0h0m7 0h0m15 0h0m4 0h0m1 0h0m4 0h0M1046 802h0m14 0h0m25 0h0m28 0h0m4 0h0m16 0h0m11 0h0m7 0h0m4 0h0m12 0h0m38 0h0m5 0h0m3 0h0m5 0h0m16 0h0M1029 803h0m1 0h0m6 0h0m71 0h0m2 0h0m3 0h0m34 0h0m2 0h0m13 0h0m3 0h0m36 0h0m47 0h0M1031 804h0m14 0h0m5 0h0m29 0h0m9 0h0m77 0h0m13 0h0m51 0h0M1027 805h0m18 0h0m6 0h0m49 0h0m4 0h0m6 0h0m26 0h0m3 0h0m1 0h0m30 0h0m4 0h0m9 0h0m14 0h0m30 0h0m1 0h0m1 0h0m6 0h0M1036 806h0m15 0h0m23 0h0m2 0h0m1 0h0m12 0h0m32 0h0m6 0h0m15 0h0m1 0h0m1 0h0m45 0h0m22 0h0m28 0h0m3 0h0m14 0h0M1044 807h0m87 0h0m12 0h0m5 0h0m14 0h0m20 0h0m2 0h0m2 0h0m59 0h0M1028 808h0m18 0h0m14 0h0m2 0h0m3 0h0m27 0h0m93 0h0m5 0h0m39 0h0m25 0h0M1042 809h0m15 0h0m11 0h0m4 0h0m28 0h0m2 0h0m9 0h0m27 0h0m11 0h0m23 0h0m17 0h0m13 0h0m19 0h0m17 0h0m6 0h0m4 0h0m6 0h0M1026 810h0m42 0h0m1 0h0m14 0h0m11 0h0m13 0h0m4 0h0m19 0h0m10 0h0m4 0h0m16 0h0m11 0h0m4 0h0m28 0h0M1028 811h0m6 0h0m8 0h0m38 0h0m14 0h0m16 0h0m8 0h0m6 0h0m10 0h0m2 0h0m1 0h0m21 0h0m26 0h0m16 0h0m21 0h0m7 0h0m1 0h0m16 0h0m9 0h0M1045 812h0m8 0h0m9 0h0m31 0h0m3 0h0m25 0h0m7 0h0m2 0h0m26 0h0m11 0h0m23 0h0m6 0h0m14 0h0m2 0h0m37 0h0M1062 813h0m4 0h0m1 0h0m2 0h0m9 0h0m3 0h0m4 0h0m15 0h0m7 0h0m24 0h0m34 0h0m4 0h0m69 0h0m5 0h0m7 0h0M1051 814h0m28 0h0m21 0h0m13 0h0m19 0h0m4 0h0m5 0h0m19 0h0m23 0h0m4 0h0m26 0h0m8 0h0m10 0h0m6 0h0m2 0h0m12 0h0m1 0h0M1063 815h0m70 0h0m10 0h0m47 0h0m21 0h0m4 0h0m20 0h0m16 0h0M1030 816h0m11 0h0m25 0h0m3 0h0m16 0h0m2 0h0m6 0h0m25 0h0m65 0h0m18 0h0m17 0h0m9 0h0m2 0h0m1 0h0m3 0h0m14 0h0m8 0h0m2 0h0M1043 817h0m26 0h0m18 0h0m53 0h0m1 0h0m23 0h0m29 0h0m38 0h0m2 0h0m5 0h0m2 0h0M1052 818h0m14 0h0m4 0h0m24 0h0m7 0h0m8 0h0m20 0h0m5 0h0m29 0h0m18 0h0m22 0h0m2 0h0m5 0h0m6 0h0m12 0h0M1052 819h0m3 0h0m3 0h0m1 0h0m1 0h0m48 0h0m1 0h0m26 0h0m7 0h0m37 0h0m1 0h0m5 0h0m46 0h0m9 0h0m3 0h0m5 0h0m5 0h0M1030 820h0m12 0h0m16 0h0m51 0h0m3 0h0m12 0h0m2 0h0m6 0h0m15 0h0m11 0h0m1 0h0m1 0h0m31 0h0m43 0h0m7 0h0m6 0h0M1038 821h0m31 0h0m20 0h0m11 0h0m12 0h0m42 0h0m73 0h0m6 0h0m6 0h0m2 0h0M1035 822h0m25 0h0m68 0h0m2 0h0m4 0h0m23 0h0m21 0h0m15 0h0m3 0h0m31 0h0m3 0h0m1 0h0m16 0h0m1 0h0M1034 823h0m11 0h0m3 0h0m3 0h0m38 0h0m12 0h0m9 0h0m8 0h0m12 0h0m3 0h0m3 0h0m2 0h0m5 0h0m21 0h0m3 0h0m22 0h0m31 0h0M1026 824h0m28 0h0m6 0h0m5 0h0m6 0h0m24 0h0m5 0h0m7 0h0m4 0h0m11 0h0m48 0h0m2 0h0m4 0h0m34 0h0m33 0h0m10 0h0m1 0h0M1049 825h0m71 0h0m8 0h0m35 0h0m22 0h0m33 0h0m1 0h0m7 0h0M1049 826h0m13 0h0m3 0h0m36 0h0m41 0h0m1 0h0m9 0h0m15 0h0m8 0h0m18 0h0m9 0h0m5 0h0m25 0h0M1088 827h0m86 0h0m4 0h0m6 0h0m4 0h0m31 0h0m3 0h0m5 0h0M1029 828h0m4 0h0m56 0h0m31 0h0m33 0h0m89 0h0m9 0h0M1101 829h0m9 0h0m9 0h0m3 0h0m43 0h0m12 0h0m7 0h0m15 0h0m35 0h0M1027 830h0m1 0h0m12 0h0m21 0h0m1 0h0m15 0h0m3 0h0m6 0h0m23 0h0m65 0h0m5 0h0m2 0h0m22 0h0m17 0h0m1 0h0m24 0h0m3 0h0M1040 831h0m30 0h0m7 0h0m18 0h0m36 0h0m4 0h0m3 0h0m1 0h0m17 0h0m10 0h0m1 0h0m2 0h0m19 0h0m6 0h0m24 0h0m9 0h0m25 0h0M1059 832h0m43 0h0m16 0h0m12 0h0m30 0h0m14 0h0m5 0h0m12 0h0m1 0h0m17 0h0m25 0h0m8 0h0m3 0h0M1032 833h0m22 0h0m1 0h0m3 0h0m9 0h0m10 0h0m22 0h0m16 0h0m11 0h0m1 0h0m77 0h0m17 0h0m15 0h0m10 0h0M1049 834h0m12 0h0m17 0h0m4 0h0m11 0h0m30 0h0m10 0h0m23 0h0m8 0h0m12 0h0m9 0h0m24 0h0m26 0h0m1 0h0M1027 835h0m12 0h0m7 0h0m7 0h0m50 0h0m9 0h0m6 0h0m12 0h0m3 0h0m46 0h0m40 0h0m22 0h0m10 0h0M1027 836h0m4 0h0m2 0h0m11 0h0m11 0h0m3 0h0m21 0h0m48 0h0m13 0h0m45 0h0m32 0h0m35 0h0m2 0h0M1033 837h0m9 0h0m9 0h0m8 0h0m44 0h0m54 0h0m32 0h0m1 0h0m13 0h0m8 0h0m6 0h0m23 0h0M1037 838h0m4 0h0m10 0h0m4 0h0m14 0h0m36 0h0m1 0h0m36 0h0m18 0h0m3 0h0m10 0h0m14 0h0m19 0h0m3 0h0m21 0h0m8 0h0m19 0h0M1033 839h0m5 0h0m4 0h0m2 0h0m4 0h0m4 0h0m1 0h0m21 0h0m27 0h0m7 0h0m16 0h0m26 0h0m22 0h0m14 0h0m10 0h0m10 0h0m4 0h0m10 0h0M1033 840h0m30 0h0m20 0h0m18 0h0m4 0h0m10 0h0m2 0h0m64 0h0m17 0h0m1 0h0m3 0h0m10 0h0m1 0h0m11 0h0m8 0h0M1070 841h0m13 0h0m2 0h0m48 0h0m13 0h0m1 0h0m7 0h0m1 0h0m8 0h0m1 0h0m2 0h0m12 0h0m9 0h0m11 0h0m33 0h0m4 0h0M1039 842h0m18 0h0m22 0h0m51 0h0m19 0h0m29 0h0m21 0h0m15 0h0m11 0h0M1031 843h0m70 0h0m4 0h0m15 0h0m4 0h0m5 0h0m29 0h0m6 0h0m24 0h0m23 0h0m10 0h0m7 0h0m23 0h0M1032 844h0m14 0h0m36 0h0m7 0h0m1 0h0m41 0h0m6 0h0m23 0h0m65 0h0m18 0h0m8 0h0M1031 845h0m17 0h0m32 0h0m10 0h0m1 0h0m8 0h0m30 0h0m58 0h0m7 0h0m2 0h0m31 0h0m7 0h0m8 0h0M1049 846h0m24 0h0m4 0h0m8 0h0m21 0h0m58 0h0m15 0h0m11 0h0m7 0h0m6 0h0m35 0h0m10 0h0M1030 847h0m6 0h0m18 0h0m8 0h0m27 0h0m4 0h0m26 0h0m32 0h0m8 0h0m10 0h0m11 0h0m3 0h0m15 0h0m19 0h0m2 0h0m15 0h0m19 0h0M1040 848h0m25 0h0m27 0h0m26 0h0m21 0h0m9 0h0m11 0h0m28 0h0m18 0h0m4 0h0m9 0h0m23 0h0m15 0h0M1027 849h0m4 0h0m15 0h0m7 0h0m11 0h0m8 0h0m11 0h0m7 0h0m47 0h0m5 0h0m19 0h0m24 0h0m23 0h0m6 0h0m26 0h0M1049 850h0m4 0h0m7 0h0m38 0h0m6 0h0m1 0h0m3 0h0m9 0h0m61 0h0m25 0h0m16 0h0m27 0h0m4 0h0M1034 851h0m7 0h0m30 0h0m31 0h0m2 0h0m23 0h0m21 0h0m15 0h0m21 0h0m15 0h0m3 0h0m4 0h0m26 0h0m2 0h0m1 0h0M1028 852h0m19 0h0m8 0h0m1 0h0m39 0h0m25 0h0m15 0h0m12 0h0m15 0h0m11 0h0m10 0h0m41 0h0m26 0h0M1027 853h0m1 0h0m2 0h0m1 0h0m1 0h0m8 0h0m11 0h0m16 0h0m16 0h0m52 0h0m18 0h0m5 0h0m13 0h0m12 0h0m7 0h0m19 0h0m31 0h0m2 0h0m2 0h0M1038 854h0m8 0h0m5 0h0m4 0h0m9 0h0m43 0h0m2 0h0m48 0h0m8 0h0m7 0h0m24 0h0m54 0h0M1027 855h0m4 0h0m15 0h0m35 0h0m1 0h0m18 0h0m18 0h0m21 0h0m31 0h0m5 0h0m2 0h0m4 0h0m13 0h0m40 0h0m9 0h0m5 0h0M1047 856h0m20 0h0m22 0h0m61 0h0m40 0h0m14 0h0m41 0h0m10 0h0M1041 857h0m38 0h0m20 0h0m5 0h0m25 0h0m29 0h0m19 0h0m43 0h0m4 0h0m5 0h0m15 0h0m4 0h0M1044 858h0m22 0h0m21 0h0m37 0h0m1 0h0m27 0h0m14 0h0m3 0h0m48 0h0m8 0h0m5 0h0m27 0h0M1032 859h0m7 0h0m19 0h0m5 0h0m35 0h0m2 0h0m33 0h0m28 0h0m13 0h0m11 0h0m17 0h0m10 0h0m29 0h0m3 0h0M1039 860h0m3 0h0m6 0h0m14 0h0m12 0h0m3 0h0m19 0h0m3 0h0m17 0h0m11 0h0m9 0h0m39 0h0m2 0h0m31 0h0m14 0h0m7 0h0m12 0h0M1075 861h0m10 0h0m12 0h0m28 0h0m6 0h0m29 0h0m8 0h0m4 0h0m6 0h0m24 0h0"/>
<path stroke-width="5.4" stroke-linecap="round" fill="none" stroke="#0d9802" d="M433 864h0m16 0h0m28 0h0m65 0h0m6 0h0m3 0h0m9 0h0m9 0h0m41 0h0m7 0h0m9 0h0m9 0h0m8 0h0m4 0h0m10 0h0m13 0h0m1 0h0m1 0h0m13 0h0m18 0h0m49 0h0m4 0h0m2 0h0m6 0h0m4 0h0m20 0h0m8 0h0M433 865h0m1 0h0m3 0h0m65 0h0m39 0h0m19 0h0m5 0h0m10 0h0m42 0h0m56 0h0m23 0h0m7 0h0m9 0h0m21 0h0m14 0h0m2 0h0m11 0h0m14 0h0m1 0h0m7 0h0m7 0h0m11 0h0M432 866h0m2 0h0m47 0h0m24 0h0m11 0h0m3 0h0m21 0h0m2 0h0m12 0h0m15 0h0m20 0h0m11 0h0m51 0h0m7 0h0m15 0h0m10 0h0m9 0h0m4 0h0m3 0h0m10 0h0m8 0h0m24 0h0m16 0h0m8 0h0m21 0h0m14 0h0M437 867h0m2 0h0m10 0h0m1 0h0m4 0h0m25 0h0m2 0h0m1 0h0m1 0h0m1 0h0m1 0h0m9 0h0m3 0h0m9 0h0m6 0h0m11 0h0m2 0h0m1 0h0m9 0h0m2 0h0m8 0h0m10 0h0m5 0h0m15 0h0m29 0h0m54 0h0m1 0h0m4 0h0m45 0h0m5 0h0m5 0h0m41 0h0m5 0h0m27 0h0m1 0h0M435 868h0m8 0h0m5 0h0m6 0h0m9 0h0m23 0h0m22 0h0m26 0h0m1 0h0m5 0h0m8 0h0m8 0h0m39 0h0m16 0h0m29 0h0m10 0h0m25 0h0m10 0h0m12 0h0m5 0h0m8 0h0m1 0h0m58 0h0m9 0h0m5 0h0m5 0h0m4 0h0M434 869h0m47 0h0m16 0h0m3 0h0m11 0h0m2 0h0m9 0h0m12 0h0m14 0h0m6 0h0m11 0h0m32 0h0m34 0h0m12 0h0m41 0h0m2 0h0m2 0h0m2 0h0m8 0h0m20 0h0m4 0h0m39 0h0m12 0h0m4 0h0m5 0h0m12 0h0M474 870h0m9 0h0m13 0h0m5 0h0m8 0h0m15 0h0m2 0h0m43 0h0m2 0h0m5 0h0m54 0h0m41 0h0m7 0h0m1 0h0m2 0h0m19 0h0m19 0h0m8 0h0m31 0h0m39 0h0M430 871h0m1 0h0m32 0h0m14 0h0m8 0h0m23 0h0m14 0h0m1 0h0m5 0h0m39 0h0m6 0h0m8 0h0m16 0h0m11 0h0m1 0h0m33 0h0m5 0h0m7 0h0m29 0h0m5 0h0m5 0h0m10 0h0m17 0h0m14 0h0m45 0h0M451 872h0m9 0h0m14 0h0m14 0h0m40 0h0m6 0h0m8 0h0m6 0h0m8 0h0m13 0h0m16 0h0m18 0h0m32 0h0m2 0h0m30 0h0m21 0h0m18 0h0m14 0h0m3 0h0m53 0h0m10 0h0M445 873h0m2 0h0m13 0h0m18 0h0m8 0h0m1 0h0m4 0h0m18 0h0m7 0h0m11 0h0m21 0h0m4 0h0m18 0h0m16 0h0m10 0h0m9 0h0m9 0h0m25 0h0m11 0h0m33 0h0m8 0h0m18 0h0m1 0h0m26 0h0m26 0h0m28 0h0M435 874h0m18 0h0m9 0h0m1 0h0m2 0h0m6 0h0m1 0h0m24 0h0m11 0h0m5 0h0m32 0h0m5 0h0m17 0h0m73 0h0m9 0h0m12 0h0m5 0h0m2 0h0m2 0h0m8 0h0m1 0h0m23 0h0m6 0h0m2 0h0m12 0h0m2 0h0m3 0h0m2 0h0m1 0h0m22 0h0m7 0h0m25 0h0M447 875h0m16 0h0m2 0h0m9 0h0m1 0h0m20 0h0m24 0h0m19 0h0m30 0h0m20 0h0m15 0h0m18 0h0m2 0h0m7 0h0m2 0h0m4 0h0m4 0h0m2 0h0m5 0h0m1 0h0m27 0h0m3 0h0m4 0h0m20 0h0m21 0h0m8 0h0m4 0h0m28 0h0M436 876h0m6 0h0m9 0h0m12 0h0m8 0h0m67 0h0m1 0h0m5 0h0m4 0h0m28 0h0m26 0h0m8 0h0m10 0h0m30 0h0m1 0h0m7 0h0m12 0h0m20 0h0m20 0h0m1 0h0m19 0h0m26 0h0m3 0h0m6 0h0m7 0h0m28 0h0M432 877h0m6 0h0m62 0h0m1 0h0m17 0h0m19 0h0m9 0h0m18 0h0m1 0h0m12 0h0m4 0h0m26 0h0m1 0h0m4 0h0m5 0h0m1 0h0m37 0h0m5 0h0m13 0h0m15 0h0m10 0h0m1 0h0m31 0h0m1 0h0m6 0h0m10 0h0m4 0h0m6 0h0m3 0h0m1 0h0M430 878h0m21 0h0m5 0h0m3 0h0m21 0h0m6 0h0m7 0h0m2 0h0m5 0h0m19 0h0m2 0h0m19 0h0m20 0h0m26 0h0m9 0h0m29 0h0m7 0h0m2 0h0m44 0h0m49 0h0m19 0h0m8 0h0m20 0h0m20 0h0m1 0h0m1 0h0m3 0h0M470 879h0m14 0h0m3 0h0m15 0h0m32 0h0m7 0h0m7 0h0m24 0h0m9 0h0m6 0h0m6 0h0m14 0h0m19 0h0m24 0h0m3 0h0m43 0h0m12 0h0m10 0h0m4 0h0m20 0h0m7 0h0m12 0h0m16 0h0m19 0h0M448 880h0m8 0h0m5 0h0m1 0h0m39 0h0m33 0h0m25 0h0m6 0h0m28 0h0m1 0h0m14 0h0m7 0h0m12 0h0m11 0h0m1 0h0m19 0h0m7 0h0m20 0h0m13 0h0m1 0h0m2 0h0m10 0h0m24 0h0m20 0h0m16 0h0m2 0h0m6 0h0m2 0h0m4 0h0m6 0h0m1 0h0m8 0h0M435 881h0m16 0h0m14 0h0m17 0h0m3 0h0m4 0h0m60 0h0m2 0h0m48 0h0m26 0h0m21 0h0m9 0h0m20 0h0m37 0h0m30 0h0m16 0h0m4 0h0m4 0h0m20 0h0m1 0h0M431 882h0m1 0h0m27 0h0m1 0h0m16 0h0m5 0h0m21 0h0m1 0h0m13 0h0m10 0h0m6 0h0m17 0h0m19 0h0m10 0h0m8 0h0m6 0h0m3 0h0m7 0h0m2 0h0m7 0h0m18 0h0m6 0h0m3 0h0m17 0h0m20 0h0m10 0h0m46 0h0m24 0h0m27 0h0m2 0h0m11 0h0M437 883h0m55 0h0m9 0h0m7 0h0m1 0h0m11 0h0m10 0h0m4 0h0m8 0h0m1 0h0m19 0h0m6 0h0m18 0h0m16 0h0m7 0h0m18 0h0m2 0h0m1 0h0m1 0h0m7 0h0m4 0h0m40 0h0m5 0h0m19 0h0m94 0h0M436 884h0m19 0h0m8 0h0m7 0h0m30 0h0m3 0h0m4 0h0m10 0h0m16 0h0m17 0h0m9 0h0m7 0h0m1 0h0m14 0h0m1 0h0m2 0h0m7 0h0m28 0h0m4 0h0m23 0h0m6 0h0m5 0h0m12 0h0m3 0h0m7 0h0m46 0h0m14 0h0m25 0h0m10 0h0m20 0h0M434 885h0m1 0h0m34 0h0m8 0h0m7 0h0m16 0h0m3 0h0m2 0h0m15 0h0m20 0h0m8 0h0m2 0h0m1 0h0m6 0h0m16 0h0m3 0h0m30 0h0m27 0h0m7 0h0m10 0h0m10 0h0m27 0h0m5 0h0m3 0h0m12 0h0m7 0h0m32 0h0m22 0h0m3 0h0m3 0h0m5 0h0m3 0h0M443 886h0m9 0h0m38 0h0m25 0h0m8 0h0m7 0h0m3 0h0m3 0h0m25 0h0m4 0h0m5 0h0m23 0h0m1 0h0m4 0h0m24 0h0m10 0h0m40 0h0m6 0h0m16 0h0m13 0h0m53 0h0m1 0h0m37 0h0M469 887h0m13 0h0m3 0h0m12 0h0m8 0h0m14 0h0m17 0h0m11 0h0m13 0h0m10 0h0m9 0h0m28 0h0m14 0h0m1 0h0m41 0h0m3 0h0m3 0h0m7 0h0m10 0h0m3 0h0m39 0h0m15 0h0m3 0h0m17 0h0m15 0h0m5 0h0m15 0h0M430 888h0m9 0h0m18 0h0m34 0h0m20 0h0m18 0h0m64 0h0m13 0h0m24 0h0m8 0h0m3 0h0m26 0h0m4 0h0m4 0h0m50 0h0m29 0h0m28 0h0m5 0h0M431 889h0m3 0h0m7 0h0m13 0h0m1 0h0m7 0h0m6 0h0m5 0h0m9 0h0m51 0h0m25 0h0m10 0h0m45 0h0m6 0h0m3 0h0m21 0h0m14 0h0m17 0h0m45 0h0m21 0h0m9 0h0m2 0h0m1 0h0m23 0h0m12 0h0M442 890h0m1 0h0m3 0h0m8 0h0m13 0h0m22 0h0m2 0h0m8 0h0m10 0h0m41 0h0m32 0h0m28 0h0m5 0h0m4 0h0m5 0h0m24 0h0m44 0h0m24 0h0m7 0h0m32 0h0m9 0h0m6 0h0m15 0h0M432 891h0m4 0h0m14 0h0m41 0h0m8 0h0m10 0h0m19 0h0m11 0h0m8 0h0m1 0h0m8 0h0m5 0h0m2 0h0m1 0h0m11 0h0m4 0h0m1 0h0m26 0h0m12 0h0m9 0h0m4 0h0m8 0h0m1 0h0m3 0h0m12 0h0m15 0h0m43 0h0m3 0h0m2 0h0m9 0h0m49 0h0m6 0h0m16 0h0M448 892h0m2 0h0m1 0h0m6 0h0m13 0h0m9 0h0m6 0h0m58 0h0m19 0h0m12 0h0m9 0h0m18 0h0m2 0h0m5 0h0m5 0h0m20 0h0m20 0h0m12 0h0m17 0h0m6 0h0m13 0h0m24 0h0m45 0h0m5 0h0m15 0h0M431 893h0m7 0h0m5 0h0m16 0h0m4 0h0m1 0h0m21 0h0m39 0h0m38 0h0m2 0h0m5 0h0m12 0h0m7 0h0m2 0h0m5 0h0m1 0h0m3 0h0m36 0h0m24 0h0m4 0h0m4 0h0m5 0h0m9 0h0m8 0h0m22 0h0m2 0h0m2 0h0m36 0h0m13 0h0m17 0h0m7 0h0M436 894h0m3 0h0m7 0h0m8 0h0m54 0h0m13 0h0m9 0h0m13 0h0m1 0h0m43 0h0m9 0h0m9 0h0m1 0h0m5 0h0m3 0h0m1 0h0m11 0h0m18 0h0m9 0h0m15 0h0m5 0h0m33 0h0m47 0h0m2 0h0m10 0h0m10 0h0M464 895h0m23 0h0m18 0h0m8 0h0m3 0h0m1 0h0m13 0h0m7 0h0m28 0h0m2 0h0m18 0h0m28 0h0m12 0h0m3 0h0m18 0h0m6 0h0m4 0h0m17 0h0m10 0h0m18 0h0m22 0h0m1 0h0m25 0h0m15 0h0m11 0h0M436 896h0m39 0h0m10 0h0m4 0h0m9 0h0m10 0h0m6 0h0m14 0h0m23 0h0m13 0h0m40 0h0m2 0h0m8 0h0m17 0h0m42 0h0m13 0h0m19 0h0m4 0h0m2 0h0m14 0h0m5 0h0m14 0h0m1 0h0m9 0h0m35 0h0M450 897h0m10 0h0m5 0h0m7 0h0m64 0h0m6 0h0m11 0h0m13 0h0m6 0h0m16 0h0m2 0h0m1 0h0m17 0h0m15 0h0m2 0h0m12 0h0m1 0h0m4 0h0m26 0h0m10 0h0m10 0h0m10 0h0m12 0h0m23 0h0m7 0h0m4 0h0m18 0h0m3 0h0m3 0h0m7 0h0m6 0h0m6 0h0m11 0h0m2 0h0M434 898h0m7 0h0m11 0h0m15 0h0m2 0h0m1 0h0m7 0h0m1 0h0m4 0h0m8 0h0m16 0h0m11 0h0m2 0h0m12 0h0m28 0h0m1 0h0m2 0h0m41 0h0m6 0h0m6 0h0m6 0h0m7 0h0m10 0h0m29 0h0m32 0h0m3 0h0m3 0h0m1 0h0m2 0h0m36 0h0m39 0h0m1 0h0m3 0h0M506 899h0m11 0h0m14 0h0m1 0h0m5 0h0m25 0h0m21 0h0m3 0h0m21 0h0m5 0h0m10 0h0m7 0h0m6 0h0m23 0h0m21 0h0m17 0h0m2 0h0m2 0h0m3 0h0m18 0h0m30 0h0m9 0h0m13 0h0m18 0h0m3 0h0M438 900h0m5 0h0m6 0h0m11 0h0m3 0h0m11 0h0m17 0h0m17 0h0m1 0h0m14 0h0m39 0h0m1 0h0m12 0h0m24 0h0m5 0h0m14 0h0m1 0h0m2 0h0m1 0h0m7 0h0m31 0h0m6 0h0m16 0h0m8 0h0m3 0h0m13 0h0m15 0h0m2 0h0m11 0h0m3 0h0m3 0h0m1 0h0m19 0h0m4 0h0m5 0h0m9 0h0m2 0h0M471 901h0m10 0h0m4 0h0m3 0h0m3 0h0m11 0h0m28 0h0m8 0h0m22 0h0m12 0h0m6 0h0m28 0h0m1 0h0m28 0h0m3 0h0m2 0h0m7 0h0m1 0h0m5 0h0m16 0h0m67 0h0m1 0h0m1 0h0m2 0h0m6 0h0m1 0h0m5 0h0m1 0h0m18 0h0m20 0h0M430 902h0m11 0h0m19 0h0m29 0h0m30 0h0m6 0h0m20 0h0m16 0h0m72 0h0m7 0h0m19 0h0m8 0h0m43 0h0m14 0h0m15 0h0m21 0h0m7 0h0m9 0h0m2 0h0m6 0h0m11 0h0m5 0h0M436 903h0m3 0h0m6 0h0m5 0h0m2 0h0m15 0h0m10 0h0m36 0h0m1 0h0m79 0h0m24 0h0m4 0h0m2 0h0m68 0h0m1 0h0m7 0h0m7 0h0m64 0h0m8 0h0m6 0h0m15 0h0M456 904h0m3 0h0m23 0h0m6 0h0m9 0h0m3 0h0m16 0h0m4 0h0m63 0h0m17 0h0m23 0h0m32 0h0m11 0h0m2 0h0m9 0h0m34 0h0m20 0h0m5 0h0m52 0h0m6 0h0M455 905h0m39 0h0m9 0h0m25 0h0m9 0h0m8 0h0m2 0h0m26 0h0m1 0h0m10 0h0m32 0h0m31 0h0m5 0h0m2 0h0m12 0h0m15 0h0m33 0h0m8 0h0m72 0h0m2 0h0m4 0h0M437 906h0m4 0h0m26 0h0m9 0h0m15 0h0m22 0h0m34 0h0m5 0h0m4 0h0m50 0h0m13 0h0m3 0h0m26 0h0m16 0h0m24 0h0m6 0h0m20 0h0m2 0h0m6 0h0m7 0h0m5 0h0m14 0h0m4 0h0m10 0h0m23 0h0M440 907h0m8 0h0m25 0h0m2 0h0m16 0h0m6 0h0m6 0h0m1 0h0m6 0h0m15 0h0m27 0h0m1 0h0m12 0h0m3 0h0m7 0h0m57 0h0m9 0h0m15 0h0m3 0h0m9 0h0m3 0h0m3 0h0m20 0h0m2 0h0m38 0h0m17 0h0m4 0h0m1 0h0m6 0h0m19 0h0m7 0h0m5 0h0M465 908h0m27 0h0m21 0h0m2 0h0m16 0h0m2 0h0m7 0h0m42 0h0m11 0h0m21 0h0m1 0h0m1 0h0m7 0h0m1 0h0m36 0h0m7 0h0m11 0h0m35 0h0m16 0h0m30 0h0M435 909h0m60 0h0m9 0h0m19 0h0m3 0h0m1 0h0m14 0h0m61 0h0m14 0h0m21 0h0m1 0h0m5 0h0m53 0h0m51 0h0m21 0h0m20 0h0m7 0h0m2 0h0M431 910h0m10 0h0m2 0h0m38 0h0m35 0h0m3 0h0m2 0h0m5 0h0m16 0h0m4 0h0m4 0h0m11 0h0m3 0h0m26 0h0m1 0h0m12 0h0m1 0h0m23 0h0m9 0h0m18 0h0m16 0h0m26 0h0m2 0h0m12 0h0m5 0h0m17 0h0m4 0h0m11 0h0m18 0h0m3 0h0m4 0h0m1 0h0m12 0h0m2 0h0M449 911h0m18 0h0m6 0h0m7 0h0m2 0h0m6 0h0m23 0h0m15 0h0m18 0h0m20 0h0m17 0h0m68 0h0m22 0h0m3 0h0m1 0h0m37 0h0m8 0h0m15 0h0m5 0h0m51 0h0M441 912h0m26 0h0m21 0h0m1 0h0m14 0h0m24 0h0m6 0h0m12 0h0m18 0h0m10 0h0m15 0h0m22 0h0m1 0h0m18 0h0m3 0h0m3 0h0m64 0h0m4 0h0m8 0h0m40 0h0m6 0h0m20 0h0m21 0h0M447 913h0m25 0h0m1 0h0m10 0h0m2 0h0m45 0h0m67 0h0m20 0h0m2 0h0m11 0h0m15 0h0m3 0h0m13 0h0m35 0h0m3 0h0m11 0h0m2 0h0m19 0h0m4 0h0m2 0h0m19 0h0m10 0h0m9 0h0m7 0h0m6 0h0m11 0h0M436 914h0m4 0h0m2 0h0m4 0h0m11 0h0m1 0h0m9 0h0m1 0h0m16 0h0m27 0h0m2 0h0m9 0h0m1 0h0m30 0h0m12 0h0m3 0h0m2 0h0m9 0h0m8 0h0m10 0h0m7 0h0m15 0h0m8 0h0m4 0h0m3 0h0m16 0h0m17 0h0m12 0h0m16 0h0m32 0h0m9 0h0m9 0h0M461 915h0m3 0h0m38 0h0m6 0h0m41 0h0m40 0h0m18 0h0m64 0h0m6 0h0m34 0h0m18 0h0m32 0h0m5 0h0m7 0h0m1 0h0m2 0h0m10 0h0m3 0h0m4 0h0M439 916h0m17 0h0m3 0h0m2 0h0m13 0h0m21 0h0m23 0h0m24 0h0m9 0h0m5 0h0m5 0h0m11 0h0m7 0h0m4 0h0m5 0h0m2 0h0m39 0h0m18 0h0m10 0h0m3 0h0m4 0h0m1 0h0m30 0h0m1 0h0m8 0h0m15 0h0m9 0h0m9 0h0m25 0h0m3 0h0m17 0h0M435 917h0m17 0h0m22 0h0m6 0h0m7 0h0m8 0h0m13 0h0m6 0h0m13 0h0m19 0h0m7 0h0m30 0h0m1 0h0m33 0h0m20 0h0m19 0h0m52 0h0m16 0h0m6 0h0m14 0h0m36 0h0m10 0h0M447 918h0m6 0h0m15 0h0m15 0h0m13 0h0m29 0h0m4 0h0m6 0h0m25 0h0m23 0h0m11 0h0m1 0h0m22 0h0m15 0h0m3 0h0m29 0h0m17 0h0m11 0h0m7 0h0m6 0h0m11 0h0m17 0h0m6 0h0m13 0h0m21 0h0m25 0h0M438 919h0m4 0h0m22 0h0m1 0h0m13 0h0m5 0h0m1 0h0m5 0h0m19 0h0m17 0h0m21 0h0m15 0h0m29 0h0m2 0h0m28 0h0m1 0h0m1 0h0m17 0h0m27 0h0m1 0h0m10 0h0m10 0h0m4 0h0m12 0h0m2 0h0m21 0h0m7 0h0m8 0h0m3 0h0m11 0h0m21 0h0m20 0h0M435 920h0m48 0h0m7 0h0m8 0h0m6 0h0m10 0h0m2 0h0m4 0h0m2 0h0m6 0h0m10 0h0m4 0h0m25 0h0m7 0h0m31 0h0m1 0h0m19 0h0m1 0h0m37 0h0m20 0h0m2 0h0m20 0h0m18 0h0m7 0h0m26 0h0M433 921h0m32 0h0m4 0h0m2 0h0m1 0h0m21 0h0m1 0h0m2 0h0m20 0h0m37 0h0m50 0h0m36 0h0m9 0h0m27 0h0m8 0h0m19 0h0m9 0h0m13 0h0m2 0h0m9 0h0m37 0h0m17 0h0M453 922h0m24 0h0m17 0h0m14 0h0m6 0h0m11 0h0m31 0h0m11 0h0m68 0h0m24 0h0m5 0h0m3 0h0m6 0h0m16 0h0m27 0h0m2 0h0m8 0h0m1 0h0m16 0h0m34 0h0m9 0h0m6 0h0m5 0h0M438 923h0m65 0h0m13 0h0m8 0h0m6 0h0m10 0h0m15 0h0m16 0h0m14 0h0m3 0h0m25 0h0m5 0h0m15 0h0m15 0h0m15 0h0m11 0h0m15 0h0m7 0h0m15 0h0m34 0h0m21 0h0m18 0h0m2 0h0m5 0h0m1 0h0m4 0h0M433 924h0m1 0h0m25 0h0m36 0h0m41 0h0m43 0h0m17 0h0m43 0h0m21 0h0m5 0h0m10 0h0m10 0h0m23 0h0m9 0h0m27 0h0m6 0h0m18 0h0m11 0h0M432 925h0m46 0h0m8 0h0m18 0h0m30 0h0m6 0h0m25 0h0m4 0h0m41 0h0m23 0h0m9 0h0m14 0h0m32 0h0m10 0h0m14 0h0m20 0h0m38 0h0m4 0h0m2 0h0m14 0h0M493 926h0m13 0h0m26 0h0m1 0h0m3 0h0m51 0h0m34 0h0m24 0h0m2 0h0m8 0h0m21 0h0m39 0h0m4 0h0m4 0h0m25 0h0m1 0h0m29 0h0m1 0h0m4 0h0M444 927h0m2 0h0m32 0h0m29 0h0m68 0h0m1 0h0m31 0h0m35 0h0m5 0h0m7 0h0m9 0h0m44 0h0m7 0h0m5 0h0m5 0h0m38 0h0m26 0h0m2 0h0m10 0h0M473 928h0m24 0h0m14 0h0m1 0h0m20 0h0m9 0h0m2 0h0m3 0h0m12 0h0m24 0h0m16 0h0m45 0h0m14 0h0m30 0h0m31 0h0m9 0h0m7 0h0m28 0h0m8 0h0m16 0h0M447 929h0m32 0h0m43 0h0m20 0h0m19 0h0m7 0h0m35 0h0m3 0h0m5 0h0m6 0h0m61 0h0m3 0h0m1 0h0m18 0h0m72 0h0M430 930h0m7 0h0m2 0h0m3 0h0m17 0h0m17 0h0m5 0h0m65 0h0m3 0h0m24 0h0m10 0h0m55 0h0m5 0h0m3 0h0m11 0h0m4 0h0m27 0h0m39 0h0m5 0h0M458 931h0m28 0h0m2 0h0m33 0h0m7 0h0m13 0h0m42 0h0m9 0h0m16 0h0m2 0h0m36 0h0m11 0h0m1 0h0m18 0h0m10 0h0m25 0h0m31 0h0m6 0h0m8 0h0m9 0h0m12 0h0m9 0h0m13 0h0M439 932h0m8 0h0m7 0h0m17 0h0m4 0h0m5 0h0m1 0h0m3 0h0m2 0h0m13 0h0m6 0h0m43 0h0m17 0h0m3 0h0m20 0h0m9 0h0m26 0h0m40 0h0m17 0h0m3 0h0m10 0h0m1 0h0m13 0h0m5 0h0m8 0h0m24 0h0m43 0h0m7 0h0m1 0h0m1 0h0m3 0h0M482 933h0m3 0h0m12 0h0m1 0h0m4 0h0m26 0h0m4 0h0m8 0h0m26 0h0m5 0h0m3 0h0m2 0h0m6 0h0m7 0h0m44 0h0m15 0h0m7 0h0m27 0h0m2 0h0m6 0h0m7 0h0m6 0h0m32 0h0m13 0h0m17 0h0m19 0h0M454 934h0m3 0h0m12 0h0m2 0h0m8 0h0m11 0h0m19 0h0m11 0h0m15 0h0m10 0h0m12 0h0m3 0h0m8 0h0m10 0h0m25 0h0m8 0h0m26 0h0m21 0h0m20 0h0m25 0h0m5 0h0m12 0h0m2 0h0m23 0h0m20 0h0m11 0h0m14 0h0m7 0h0M449 935h0m51 0h0m6 0h0m1 0h0m9 0h0m1 0h0m2 0h0m7 0h0m7 0h0m18 0h0m11 0h0m6 0h0m45 0h0m1 0h0m7 0h0m7 0h0m17 0h0m9 0h0m8 0h0m61 0h0m3 0h0m10 0h0m3 0h0m4 0h0m33 0h0m10 0h0M456 936h0m3 0h0m6 0h0m21 0h0m4 0h0m38 0h0m7 0h0m8 0h0m6 0h0m3 0h0m1 0h0m13 0h0m2 0h0m2 0h0m17 0h0m3 0h0m4 0h0m10 0h0m1 0h0m4 0h0m2 0h0m4 0h0m20 0h0m6 0h0m5 0h0m12 0h0m3 0h0m15 0h0m8 0h0m36 0h0m12 0h0m17 0h0m10 0h0m13 0h0m22 0h0m1 0h0M449 937h0m7 0h0m14 0h0m6 0h0m11 0h0m17 0h0m4 0h0m3 0h0m13 0h0m2 0h0m17 0h0m11 0h0m23 0h0m16 0h0m9 0h0m45 0h0m9 0h0m26 0h0m8 0h0m54 0h0m6 0h0m4 0h0m14 0h0M439 938h0m17 0h0m5 0h0m1 0h0m12 0h0m8 0h0m6 0h0m11 0h0m1 0h0m20 0h0m27 0h0m2 0h0m15 0h0m47 0h0m4 0h0m8 0h0m2 0h0m11 0h0m4 0h0m5 0h0m29 0h0m20 0h0m12 0h0m6 0h0m18 0h0m16 0h0m28 0h0m9 0h0M456 939h0m23 0h0m5 0h0m5 0h0m7 0h0m12 0h0m18 0h0m16 0h0m3 0h0m7 0h0m6 0h0m14 0h0m10 0h0m13 0h0m10 0h0m3 0h0m5 0h0m50 0h0m10 0h0m18 0h0m2 0h0m1 0h0m28 0h0m30 0h0m18 0h0m11 0h0M437 940h0m9 0h0m6 0h0m12 0h0m4 0h0m3 0h0m86 0h0m15 0h0m11 0h0m40 0h0m31 0h0m4 0h0m43 0h0m8 0h0m4 0h0m2 0h0m5 0h0m3 0h0m11 0h0m4 0h0m6 0h0m7 0h0m29 0h0m14 0h0M462 941h0m1 0h0m8 0h0m8 0h0m34 0h0m120 0h0m11 0h0m6 0h0m14 0h0m4 0h0m31 0h0m6 0h0m7 0h0m4 0h0m35 0h0m2 0h0m21 0h0m10 0h0m16 0h0M444 942h0m37 0h0m12 0h0m52 0h0m9 0h0m4 0h0m9 0h0m20 0h0m3 0h0m10 0h0m13 0h0m31 0h0m3 0h0m9 0h0m5 0h0m22 0h0m11 0h0m5 0h0m19 0h0m6 0h0m3 0h0m3 0h0m2 0h0m2 0h0m18 0h0m12 0h0m1 0h0m7 0h0m26 0h0M431 943h0m1 0h0m3 0h0m12 0h0m6 0h0m12 0h0m14 0h0m3 0h0m26 0h0m12 0h0m8 0h0m8 0h0m18 0h0m33 0h0m4 0h0m4 0h0m5 0h0m2 0h0m24 0h0m17 0h0m31 0h0m2 0h0m27 0h0m11 0h0m21 0h0m60 0h0M452 944h0m4 0h0m6 0h0m3 0h0m45 0h0m12 0h0m1 0h0m14 0h0m12 0h0m2 0h0m21 0h0m11 0h0m1 0h0m1 0h0m1 0h0m20 0h0m14 0h0m4 0h0m11 0h0m14 0h0m5 0h0m46 0h0m14 0h0m37 0h0m4 0h0m7 0h0m2 0h0m18 0h0m1 0h0M449 945h0m31 0h0m5 0h0m5 0h0m6 0h0m6 0h0m1 0h0m5 0h0m13 0h0m15 0h0m6 0h0m3 0h0m9 0h0m4 0h0m24 0h0m4 0h0m26 0h0m7 0h0m18 0h0m7 0h0m22 0h0m11 0h0m66 0h0m19 0h0m36 0h0M441 946h0m2 0h0m42 0h0m10 0h0m1 0h0m5 0h0m28 0h0m10 0h0m1 0h0m5 0h0m2 0h0m4 0h0m1 0h0m2 0h0m17 0h0m18 0h0m1 0h0m5 0h0m13 0h0m13 0h0m3 0h0m8 0h0m7 0h0m75 0h0m12 0h0m1 0h0m38 0h0m26 0h0m5 0h0M456 947h0m1 0h0m26 0h0m11 0h0m3 0h0m14 0h0m4 0h0m3 0h0m9 0h0m23 0h0m15 0h0m44 0h0m10 0h0m9 0h0m7 0h0m1 0h0m13 0h0m16 0h0m19 0h0m21 0h0m13 0h0m3 0h0m3 0h0m14 0h0m15 0h0m28 0h0m16 0h0M430 948h0m12 0h0m35 0h0m7 0h0m8 0h0m4 0h0m2 0h0m7 0h0m14 0h0m10 0h0m12 0h0m18 0h0m13 0h0m3 0h0m27 0h0m8 0h0m30 0h0m6 0h0m12 0h0m34 0h0m19 0h0m53 0h0M430 949h0m3 0h0m1 0h0m21 0h0m1 0h0m11 0h0m4 0h0m1 0h0m17 0h0m16 0h0m4 0h0m13 0h0m16 0h0m44 0h0m5 0h0m7 0h0m13 0h0m1 0h0m4 0h0m30 0h0m4 0h0m1 0h0m8 0h0m6 0h0m2 0h0m5 0h0m24 0h0m22 0h0m44 0h0m14 0h0m2 0h0m7 0h0m14 0h0M438 950h0m8 0h0m7 0h0m33 0h0m29 0h0m5 0h0m10 0h0m6 0h0m10 0h0m2 0h0m14 0h0m2 0h0m30 0h0m8 0h0m10 0h0m18 0h0m14 0h0m3 0h0m23 0h0m7 0h0m8 0h0m2 0h0m10 0h0m27 0h0m14 0h0m2 0h0m47 0h0M440 951h0m13 0h0m15 0h0m7 0h0m18 0h0m9 0h0m12 0h0m2 0h0m18 0h0m26 0h0m17 0h0m1 0h0m2 0h0m4 0h0m3 0h0m1 0h0m9 0h0m13 0h0m2 0h0m17 0h0m4 0h0m4 0h0m5 0h0m4 0h0m48 0h0m28 0h0m8 0h0m16 0h0m2 0h0m5 0h0m25 0h0M444 952h0m17 0h0m17 0h0m24 0h0m12 0h0m2 0h0m12 0h0m14 0h0m38 0h0m3 0h0m28 0h0m18 0h0m2 0h0m19 0h0m8 0h0m14 0h0m4 0h0m44 0h0m1 0h0m5 0h0m43 0h0m11 0h0m5 0h0M430 953h0m8 0h0m3 0h0m3 0h0m65 0h0m5 0h0m6 0h0m22 0h0m10 0h0m5 0h0m7 0h0m10 0h0m1 0h0m8 0h0m1 0h0m6 0h0m7 0h0m4 0h0m21 0h0m3 0h0m1 0h0m2 0h0m2 0h0m32 0h0m2 0h0m10 0h0m4 0h0m1 0h0m5 0h0m5 0h0m19 0h0m14 0h0m14 0h0m12 0h0m1 0h0m10 0h0m1 0h0m1 0h0m24 0h0m3 0h0m5 0h0M462 954h0m8 0h0m43 0h0m19 0h0m8 0h0m15 0h0m14 0h0m4 0h0m9 0h0m3 0h0m23 0h0m18 0h0m7 0h0m4 0h0m2 0h0m10 0h0m3 0h0m2 0h0m5 0h0m22 0h0m7 0h0m2 0h0m8 0h0m16 0h0m1 0h0m4 0h0m18 0h0m1 0h0m41 0h0M447 955h0m5 0h0m47 0h0m9 0h0m14 0h0m17 0h0m14 0h0m16 0h0m6 0h0m1 0h0m3 0h0m11 0h0m8 0h0m41 0h0m1 0h0m6 0h0m26 0h0m3 0h0m18 0h0m11 0h0m3 0h0m34 0h0m47 0h0m2 0h0m8 0h0M442 956h0m1 0h0m11 0h0m16 0h0m30 0h0m17 0h0m9 0h0m2 0h0m7 0h0m12 0h0m19 0h0m12 0h0m2 0h0m8 0h0m1 0h0m3 0h0m2 0h0m65 0h0m14 0h0m4 0h0m6 0h0m45 0h0m10 0h0m28 0h0m2 0h0m29 0h0M439 957h0m2 0h0m1 0h0m18 0h0m2 0h0m20 0h0m29 0h0m5 0h0m1 0h0m20 0h0m15 0h0m38 0h0m21 0h0m3 0h0m21 0h0m28 0h0m16 0h0m6 0h0m9 0h0m17 0h0m4 0h0m8 0h0m2 0h0m47 0h0M443 958h0m9 0h0m6 0h0m4 0h0m29 0h0m6 0h0m29 0h0m5 0h0m4 0h0m13 0h0m10 0h0m21 0h0m2 0h0m9 0h0m32 0h0m11 0h0m15 0h0m4 0h0m7 0h0m1 0h0m1 0h0m11 0h0m8 0h0m12 0h0m7 0h0m4 0h0m64 0h0m16 0h0M430 959h0m15 0h0m28 0h0m4 0h0m24 0h0m3 0h0m1 0h0m9 0h0m3 0h0m4 0h0m19 0h0m15 0h0m9 0h0m17 0h0m5 0h0m15 0h0m3 0h0m23 0h0m38 0h0m2 0h0m16 0h0m1 0h0m7 0h0m5 0h0m3 0h0m8 0h0m13 0h0m51 0h0m2 0h0m11 0h0m6 0h0m4 0h0M430 960h0m7 0h0m9 0h0m34 0h0m18 0h0m1 0h0m9 0h0m16 0h0m5 0h0m2 0h0m56 0h0m8 0h0m6 0h0m7 0h0m2 0h0m2 0h0m7 0h0m1 0h0m24 0h0m1 0h0m3 0h0m3 0h0m25 0h0m3 0h0m31 0h0m1 0h0m4 0h0m16 0h0m29 0h0m6 0h0m15 0h0M447 961h0m13 0h0m2 0h0m9 0h0m10 0h0m21 0h0m5 0h0m15 0h0m10 0h0m5 0h0m63 0h0m14 0h0m7 0h0m31 0h0m25 0h0m2 0h0m26 0h0m23 0h0m13 0h0m9 0h0m19 0h0m9 0h0M466 962h0m9 0h0m4 0h0m7 0h0m32 0h0m8 0h0m10 0h0m10 0h0m12 0h0m28 0h0m18 0h0m4 0h0m11 0h0m28 0h0m2 0h0m22 0h0m5 0h0m7 0h0m17 0h0m39 0h0m7 0h0m24 0h0M456 963h0m6 0h0m16 0h0m21 0h0m4 0h0m14 0h0m13 0h0m15 0h0m2 0h0m32 0h0m6 0h0m10 0h0m4 0h0m6 0h0m22 0h0m7 0h0m10 0h0m3 0h0m11 0h0m17 0h0m4 0h0m2 0h0m1 0h0m17 0h0m24 0h0m6 0h0m57 0h0m13 0h0M430 964h0m16 0h0m57 0h0m3 0h0m18 0h0m27 0h0m22 0h0m3 0h0m3 0h0m19 0h0m28 0h0m18 0h0m7 0h0m16 0h0m5 0h0m13 0h0m1 0h0m27 0h0m22 0h0m41 0h0m16 0h0M433 965h0m6 0h0m2 0h0m11 0h0m19 0h0m39 0h0m10 0h0m12 0h0m12 0h0m12 0h0m2 0h0m1 0h0m19 0h0m9 0h0m12 0h0m11 0h0m10 0h0m14 0h0m27 0h0m4 0h0m42 0h0m6 0h0m57 0h0m23 0h0M451 966h0m20 0h0m37 0h0m36 0h0m3 0h0m4 0h0m54 0h0m8 0h0m19 0h0m3 0h0m27 0h0m36 0h0m3 0h0m4 0h0m9 0h0m12 0h0m6 0h0m3 0h0m7 0h0m42 0h0m5 0h0m11 0h0M455 967h0m5 0h0m14 0h0m28 0h0m46 0h0m3 0h0m12 0h0m25 0h0m4 0h0m9 0h0m18 0h0m8 0h0m26 0h0m8 0h0m1 0h0m1 0h0m5 0h0m3 0h0m1 0h0m5 0h0m4 0h0m62 0h0m6 0h0m41 0h0M453 968h0m5 0h0m3 0h0m10 0h0m25 0h0m22 0h0m3 0h0m6 0h0m3 0h0m9 0h0m14 0h0m30 0h0m6 0h0m64 0h0m28 0h0m3 0h0m9 0h0m11 0h0m12 0h0m47 0h0m23 0h0m6 0h0M431 969h0m4 0h0m52 0h0m3 0h0m3 0h0m44 0h0m13 0h0m10 0h0m7 0h0m23 0h0m7 0h0m3 0h0m6 0h0m28 0h0m16 0h0m30 0h0m16 0h0m9 0h0m12 0h0m27 0h0m14 0h0m4 0h0m13 0h0m7 0h0m1 0h0m14 0h0M438 970h0m1 0h0m15 0h0m3 0h0m3 0h0m13 0h0m3 0h0m14 0h0m7 0h0m16 0h0m11 0h0m1 0h0m5 0h0m20 0h0m49 0h0m27 0h0m13 0h0m12 0h0m15 0h0m4 0h0m23 0h0m15 0h0m2 0h0m10 0h0m32 0h0m7 0h0m12 0h0m16 0h0M448 971h0m1 0h0m4 0h0m7 0h0m28 0h0m27 0h0m23 0h0m7 0h0m18 0h0m1 0h0m13 0h0m1 0h0m13 0h0m22 0h0m4 0h0m16 0h0m30 0h0m10 0h0m9 0h0m3 0h0m2 0h0m11 0h0m1 0h0m10 0h0m30 0h0m4 0h0m4 0h0m4 0h0m20 0h0m11 0h0m17 0h0M440 972h0m1 0h0m7 0h0m7 0h0m6 0h0m46 0h0m19 0h0m3 0h0m6 0h0m33 0h0m6 0h0m20 0h0m2 0h0m4 0h0m16 0h0m34 0h0m4 0h0m7 0h0m15 0h0m9 0h0m1 0h0m20 0h0m1 0h0m1 0h0m18 0h0m19 0h0m17 0h0m11 0h0M458 973h0m39 0h0m18 0h0m21 0h0m23 0h0m4 0h0m6 0h0m25 0h0m3 0h0m19 0h0m81 0h0m11 0h0m2 0h0m5 0h0m4 0h0m20 0h0m10 0h0m21 0h0m18 0h0m1 0h0M430 974h0m3 0h0m9 0h0m12 0h0m37 0h0m2 0h0m1 0h0m7 0h0m10 0h0m9 0h0m29 0h0m17 0h0m2 0h0m4 0h0m9 0h0m40 0h0m33 0h0m6 0h0m13 0h0m9 0h0m17 0h0m8 0h0m27 0h0m6 0h0m1 0h0m5 0h0m4 0h0m7 0h0m38 0h0m5 0h0M495 975h0m9 0h0m11 0h0m2 0h0m5 0h0m11 0h0m3 0h0m43 0h0m2 0h0m14 0h0m1 0h0m4 0h0m24 0h0m16 0h0m20 0h0m5 0h0m4 0h0m1 0h0m19 0h0m1 0h0m6 0h0m29 0h0m57 0h0m3 0h0m15 0h0M465 976h0m9 0h0m1 0h0m2 0h0m4 0h0m25 0h0m13 0h0m1 0h0m1 0h0m6 0h0m10 0h0m16 0h0m1 0h0m4 0h0m5 0h0m56 0h0m5 0h0m32 0h0m1 0h0m10 0h0m25 0h0m1 0h0m10 0h0m7 0h0m51 0h0m13 0h0m9 0h0M434 977h0m3 0h0m48 0h0m4 0h0m1 0h0m4 0h0m41 0h0m11 0h0m41 0h0m7 0h0m2 0h0m73 0h0m4 0h0m12 0h0m2 0h0m6 0h0m6 0h0m5 0h0m20 0h0m13 0h0m29 0h0m1 0h0M471 978h0m5 0h0m6 0h0m47 0h0m11 0h0m10 0h0m14 0h0m1 0h0m1 0h0m34 0h0m3 0h0m1 0h0m2 0h0m19 0h0m2 0h0m2 0h0m1 0h0m1 0h0m5 0h0m6 0h0m39 0h0m8 0h0m24 0h0m18 0h0m16 0h0m38 0h0m8 0h0M433 979h0m42 0h0m8 0h0m15 0h0m1 0h0m28 0h0m25 0h0m8 0h0m3 0h0m17 0h0m26 0h0m29 0h0m1 0h0m5 0h0m11 0h0m21 0h0m6 0h0m8 0h0m47 0h0m9 0h0m7 0h0m12 0h0m6 0h0m7 0h0m8 0h0M434 980h0m9 0h0m23 0h0m7 0h0m16 0h0m15 0h0m11 0h0m13 0h0m12 0h0m5 0h0m4 0h0m18 0h0m40 0h0m14 0h0m1 0h0m8 0h0m3 0h0m7 0h0m14 0h0m30 0h0m21 0h0m4 0h0m7 0h0m9 0h0m27 0h0m3 0h0m30 0h0m15 0h0M474 981h0m3 0h0m5 0h0m41 0h0m1 0h0m8 0h0m36 0h0m11 0h0m2 0h0m32 0h0m14 0h0m10 0h0m3 0h0m16 0h0m15 0h0m42 0h0m6 0h0m56 0h0m18 0h0m1 0h0m3 0h0M441 982h0m20 0h0m12 0h0m24 0h0m31 0h0m5 0h0m6 0h0m5 0h0m6 0h0m13 0h0m7 0h0m2 0h0m20 0h0m13 0h0m14 0h0m22 0h0m1 0h0m35 0h0m9 0h0m25 0h0m14 0h0m4 0h0m7 0h0m12 0h0m2 0h0m16 0h0M446 983h0m15 0h0m1 0h0m12 0h0m6 0h0m12 0h0m12 0h0m3 0h0m29 0h0m2 0h0m2 0h0m17 0h0m11 0h0m11 0h0m5 0h0m18 0h0m5 0h0m3 0h0m20 0h0m4 0h0m1 0h0m7 0h0m11 0h0m28 0h0m1 0h0m6 0h0m12 0h0m1 0h0m3 0h0m8 0h0m20 0h0m27 0h0m3 0h0m22 0h0m12 0h0m4 0h0M430 984h0m9 0h0m8 0h0m16 0h0m7 0h0m3 0h0m4 0h0m10 0h0m12 0h0m6 0h0m2 0h0m5 0h0m4 0h0m17 0h0m17 0h0m14 0h0m25 0h0m8 0h0m6 0h0m1 0h0m23 0h0m4 0h0m3 0h0m2 0h0m6 0h0m2 0h0m5 0h0m26 0h0m4 0h0m4 0h0m5 0h0m11 0h0m22 0h0m11 0h0m46 0h0m2 0h0m13 0h0m5 0h0m2 0h0M436 985h0m30 0h0m7 0h0m6 0h0m3 0h0m56 0h0m17 0h0m8 0h0m12 0h0m3 0h0m12 0h0m7 0h0m1 0h0m22 0h0m3 0h0m28 0h0m15 0h0m2 0h0m20 0h0m9 0h0m8 0h0m7 0h0m40 0h0m14 0h0m1 0h0m6 0h0m1 0h0m3 0h0M446 986h0m9 0h0m10 0h0m9 0h0m30 0h0m23 0h0m11 0h0m5 0h0m2 0h0m7 0h0m9 0h0m7 0h0m26 0h0m7 0h0m19 0h0m1 0h0m1 0h0m39 0h0m12 0h0m6 0h0m10 0h0m3 0h0m8 0h0m7 0h0m5 0h0m51 0h0m2 0h0m13 0h0m1 0h0m3 0h0M476 987h0m5 0h0m6 0h0m13 0h0m42 0h0m14 0h0m19 0h0m12 0h0m27 0h0m20 0h0m18 0h0m18 0h0m2 0h0m1 0h0m15 0h0m61 0h0m29 0h0M430 988h0m36 0h0m9 0h0m3 0h0m2 0h0m4 0h0m7 0h0m20 0h0m1 0h0m24 0h0m10 0h0m16 0h0m18 0h0m14 0h0m3 0h0m20 0h0m17 0h0m36 0h0m6 0h0m73 0h0m18 0h0m21 0h0M454 989h0m14 0h0m24 0h0m22 0h0m37 0h0m17 0h0m9 0h0m6 0h0m26 0h0m7 0h0m4 0h0m2 0h0m5 0h0m19 0h0m30 0h0m6 0h0m16 0h0m1 0h0m25 0h0m5 0h0m41 0h0m1 0h0M464 990h0m6 0h0m21 0h0m39 0h0m2 0h0m3 0h0m13 0h0m15 0h0m44 0h0m3 0h0m10 0h0m6 0h0m55 0h0m6 0h0m23 0h0m39 0h0m3 0h0m8 0h0M443 991h0m14 0h0m7 0h0m29 0h0m13 0h0m61 0h0m15 0h0m6 0h0m13 0h0m2 0h0m5 0h0m4 0h0m5 0h0m23 0h0m8 0h0m56 0h0m37 0h0m49 0h0M442 992h0m42 0h0m3 0h0m25 0h0m8 0h0m7 0h0m3 0h0m8 0h0m47 0h0m49 0h0m22 0h0m12 0h0m11 0h0m3 0h0m9 0h0m25 0h0m3 0h0m24 0h0m12 0h0m18 0h0m11 0h0m5 0h0M434 993h0m24 0h0m8 0h0m8 0h0m37 0h0m11 0h0m19 0h0m71 0h0m22 0h0m8 0h0m5 0h0m7 0h0m3 0h0m8 0h0m11 0h0m29 0h0m15 0h0m55 0h0m8 0h0M431 994h0m49 0h0m35 0h0m7 0h0m38 0h0m14 0h0m69 0h0m33 0h0m24 0h0m81 0h0M462 995h0m11 0h0m38 0h0m36 0h0m86 0h0m44 0h0m22 0h0m14 0h0m4 0h0m10 0h0M433 996h0m38 0h0m7 0h0m32 0h0m13 0h0m112 0h0m33 0h0m109 0h0M499 997h0m25 0h0m29 0h0m51 0h0m9 0h0m11 0h0m18 0h0m155 0h0M489 998h0m3 0h0m91 0h0m1 0h0m35 0h0m79 0h0M485 999h0m51 0h0m11 0h0m12 0h0m18 0h0m114 0h0m36 0h0M478 1000h0m164 0h0m17 0h0m92 0h0m4 0h0m23 0h0m12 0h0M464 1001h0m12 0h0m34 0h0m44 0h0m16 0h0m1 0h0m20 0h0m27 0h0m29 0h0m19 0h0m46 0h0m40 0h0m11 0h0m14 0h0m7 0h0M447 1002h0m103 0h0m47 0h0m18 0h0m3 0h0m1 0h0m7 0h0m26 0h0m19 0h0m12 0h0m39 0h0m12 0h0M432 1003h0m9 0h0m11 0h0m26 0h0m10 0h0m1 0h0m100 0h0m32 0h0m17 0h0m7 0h0m6 0h0m18 0h0m4 0h0m41 0h0m8 0h0m15 0h0M430 1004h0m3 0h0m48 0h0m16 0h0m3 0h0m11 0h0m4 0h0m5 0h0m1 0h0m29 0h0m2 0h0m13 0h0m10 0h0m8 0h0m3 0h0m35 0h0m8 0h0m17 0h0m3 0h0m2 0h0m21 0h0m2 0h0m28 0h0m73 0h0m8 0h0M495 1005h0m21 0h0m9 0h0m3 0h0m2 0h0m37 0h0m13 0h0m30 0h0m34 0h0m9 0h0m12 0h0m9 0h0m22 0h0m19 0h0m73 0h0m2 0h0M443 1006h0m9 0h0m11 0h0m32 0h0m2 0h0m11 0h0m14 0h0m9 0h0m4 0h0m2 0h0m13 0h0m5 0h0m5 0h0m37 0h0m13 0h0m3 0h0m42 0h0m3 0h0m6 0h0m4 0h0m7 0h0m6 0h0m30 0h0m49 0h0m25 0h0M432 1007h0m58 0h0m2 0h0m20 0h0m2 0h0m4 0h0m2 0h0m1 0h0m6 0h0m19 0h0m6 0h0m17 0h0m27 0h0m11 0h0m4 0h0m30 0h0m5 0h0m10 0h0m3 0h0m34 0h0m1 0h0m40 0h0m20 0h0m31 0h0m12 0h0M433 1008h0m8 0h0m30 0h0m4 0h0m74 0h0m4 0h0m6 0h0m1 0h0m9 0h0m13 0h0m18 0h0m2 0h0m4 0h0m22 0h0m2 0h0m3 0h0m9 0h0m39 0h0m6 0h0m15 0h0m30 0h0m5 0h0m6 0h0m7 0h0m11 0h0m5 0h0m7 0h0m23 0h0M459 1009h0m10 0h0m36 0h0m14 0h0m5 0h0m4 0h0m34 0h0m5 0h0m9 0h0m7 0h0m31 0h0m5 0h0m12 0h0m48 0h0m10 0h0m24 0h0m10 0h0m31 0h0m24 0h0m2 0h0m16 0h0M442 1010h0m25 0h0m8 0h0m4 0h0m20 0h0m4 0h0m36 0h0m29 0h0m15 0h0m3 0h0m33 0h0m53 0h0m6 0h0m14 0h0m23 0h0m12 0h0m6 0h0m9 0h0m24 0h0m12 0h0m9 0h0M444 1011h0m4 0h0m15 0h0m13 0h0m3 0h0m20 0h0m5 0h0m9 0h0m14 0h0m36 0h0m15 0h0m4 0h0m21 0h0m19 0h0m10 0h0m4 0h0m32 0h0m10 0h0m11 0h0m2 0h0m7 0h0m20 0h0m5 0h0m2 0h0m23 0h0m4 0h0m2 0h0m3 0h0m2 0h0m6 0h0m12 0h0m9 0h0m5 0h0M444 1012h0m10 0h0m22 0h0m29 0h0m6 0h0m38 0h0m12 0h0m4 0h0m5 0h0m16 0h0m13 0h0m2 0h0m2 0h0m9 0h0m17 0h0m4 0h0m2 0h0m15 0h0m32 0h0m33 0h0m30 0h0m6 0h0m39 0h0M453 1013h0m19 0h0m19 0h0m13 0h0m5 0h0m7 0h0m1 0h0m12 0h0m14 0h0m3 0h0m2 0h0m47 0h0m9 0h0m25 0h0m6 0h0m4 0h0m37 0h0m12 0h0m5 0h0m2 0h0m16 0h0m2 0h0m19 0h0m2 0h0m34 0h0m4 0h0M435 1014h0m12 0h0m22 0h0m16 0h0m20 0h0m27 0h0m10 0h0m18 0h0m14 0h0m3 0h0m117 0h0m2 0h0m1 0h0m8 0h0m13 0h0m16 0h0m16 0h0m19 0h0m11 0h0m4 0h0m1 0h0m13 0h0M431 1015h0m1 0h0m14 0h0m8 0h0m47 0h0m13 0h0m23 0h0m13 0h0m18 0h0m15 0h0m16 0h0m14 0h0m38 0h0m7 0h0m25 0h0m25 0h0m9 0h0m23 0h0m10 0h0m5 0h0m23 0h0m16 0h0M434 1016h0m23 0h0m33 0h0m10 0h0m30 0h0m16 0h0m34 0h0m4 0h0m18 0h0m4 0h0m24 0h0m7 0h0m34 0h0m56 0h0m3 0h0m2 0h0m7 0h0m6 0h0m2 0h0m6 0h0m9 0h0m15 0h0m9 0h0m2 0h0m2 0h0M467 1017h0m75 0h0m7 0h0m22 0h0m15 0h0m7 0h0m44 0h0m11 0h0m18 0h0m12 0h0m5 0h0m36 0h0m9 0h0m1 0h0m15 0h0m6 0h0m11 0h0m9 0h0m19 0h0M478 1018h0m1 0h0m43 0h0m15 0h0m27 0h0m52 0h0m7 0h0m5 0h0m14 0h0m15 0h0m3 0h0m17 0h0m10 0h0m23 0h0m15 0h0m11 0h0m7 0h0m7 0h0m8 0h0m5 0h0m9 0h0m24 0h0M434 1019h0m9 0h0m3 0h0m6 0h0m3 0h0m28 0h0m26 0h0m22 0h0m10 0h0m15 0h0m3 0h0m41 0h0m6 0h0m2 0h0m9 0h0m11 0h0m9 0h0m9 0h0m2 0h0m1 0h0m6 0h0m14 0h0m1 0h0m4 0h0m3 0h0m26 0h0m8 0h0m31 0h0m8 0h0m20 0h0m19 0h0m6 0h0M436 1020h0m3 0h0m27 0h0m1 0h0m16 0h0m22 0h0m31 0h0m20 0h0m3 0h0m29 0h0m9 0h0m43 0h0m6 0h0m6 0h0m10 0h0m13 0h0m7 0h0m6 0h0m10 0h0m1 0h0m5 0h0m7 0h0m1 0h0m7 0h0m8 0h0m15 0h0m12 0h0m2 0h0m1 0h0m1 0h0M435 1021h0m15 0h0m21 0h0m6 0h0m6 0h0m20 0h0m9 0h0m17 0h0m2 0h0m1 0h0m4 0h0m20 0h0m1 0h0m5 0h0m7 0h0m29 0h0m7 0h0m34 0h0m8 0h0m7 0h0m10 0h0m4 0h0m68 0h0m5 0h0m9 0h0m10 0h0m3 0h0m3 0h0m4 0h0M433 1022h0m3 0h0m31 0h0m9 0h0m6 0h0m38 0h0m5 0h0m2 0h0m16 0h0m1 0h0m42 0h0m28 0h0m11 0h0m3 0h0m5 0h0m26 0h0m12 0h0m11 0h0m3 0h0m1 0h0m18 0h0m11 0h0m30 0h0m11 0h0m22 0h0m19 0h0m2 0h0M446 1023h0m11 0h0m9 0h0m7 0h0m50 0h0m29 0h0m12 0h0m2 0h0m2 0h0m1 0h0m9 0h0m14 0h0m39 0h0m32 0h0m5 0h0m15 0h0m19 0h0m2 0h0m2 0h0m11 0h0m2 0h0m4 0h0m11 0h0m31 0h0m24 0h0m2 0h0M431 1024h0m33 0h0m25 0h0m14 0h0m40 0h0m3 0h0m1 0h0m8 0h0m7 0h0m7 0h0m25 0h0m2 0h0m8 0h0m1 0h0m5 0h0m7 0h0m15 0h0m11 0h0m61 0h0m6 0h0m3 0h0m43 0h0M438 1025h0m35 0h0m15 0h0m10 0h0m26 0h0m5 0h0m19 0h0m12 0h0m1 0h0m15 0h0m20 0h0m3 0h0m38 0h0m24 0h0m10 0h0m2 0h0m4 0h0m1 0h0m25 0h0m9 0h0m3 0h0m27 0h0m7 0h0m14 0h0m12 0h0m5 0h0m7 0h0M444 1026h0m30 0h0m14 0h0m29 0h0m14 0h0m46 0h0m5 0h0m2 0h0m22 0h0m7 0h0m91 0h0m16 0h0m12 0h0m11 0h0m19 0h0m15 0h0m11 0h0M435 1027h0m1 0h0m9 0h0m6 0h0m35 0h0m10 0h0m27 0h0m5 0h0m37 0h0m12 0h0m10 0h0m3 0h0m9 0h0m3 0h0m10 0h0m13 0h0m1 0h0m16 0h0m2 0h0m29 0h0m10 0h0m3 0h0m2 0h0m4 0h0m14 0h0m9 0h0m3 0h0m15 0h0m2 0h0m10 0h0m5 0h0m12 0h0m3 0h0m22 0h0m3 0h0M437 1028h0m13 0h0m16 0h0m7 0h0m22 0h0m33 0h0m2 0h0m6 0h0m35 0h0m9 0h0m5 0h0m18 0h0m31 0h0m2 0h0m10 0h0m8 0h0m41 0h0m40 0h0m1 0h0m11 0h0m1 0h0m3 0h0m7 0h0m3 0h0m4 0h0m4 0h0m4 0h0m3 0h0m9 0h0m6 0h0M465 1029h0m4 0h0m11 0h0m3 0h0m22 0h0m41 0h0m8 0h0m3 0h0m10 0h0m9 0h0m6 0h0m3 0h0m1 0h0m22 0h0m6 0h0m4 0h0m34 0h0m7 0h0m8 0h0m14 0h0m21 0h0m2 0h0m2 0h0m13 0h0m18 0h0m17 0h0m2 0h0m36 0h0m6 0h0M434 1030h0m15 0h0m24 0h0m19 0h0m14 0h0m4 0h0m12 0h0m6 0h0m34 0h0m13 0h0m12 0h0m17 0h0m14 0h0m7 0h0m4 0h0m20 0h0m4 0h0m40 0h0m15 0h0m23 0h0m9 0h0m12 0h0m10 0h0m12 0h0M442 1031h0m36 0h0m17 0h0m63 0h0m15 0h0m5 0h0m12 0h0m33 0h0m21 0h0m3 0h0m4 0h0m40 0h0m17 0h0m5 0h0m18 0h0m13 0h0m5 0h0m19 0h0m9 0h0m1 0h0m1 0h0m4 0h0m1 0h0m10 0h0M434 1032h0m5 0h0m15 0h0m15 0h0m17 0h0m7 0h0m31 0h0m3 0h0m15 0h0m22 0h0m19 0h0m9 0h0m8 0h0m52 0h0m1 0h0m19 0h0m4 0h0m21 0h0m19 0h0m26 0h0m31 0h0m16 0h0M455 1033h0m30 0h0m7 0h0m10 0h0m5 0h0m1 0h0m15 0h0m14 0h0m39 0h0m10 0h0m2 0h0m16 0h0m6 0h0m8 0h0m14 0h0m24 0h0m16 0h0m2 0h0m53 0h0m1 0h0m8 0h0m14 0h0m32 0h0M431 1034h0m4 0h0m15 0h0m23 0h0m3 0h0m1 0h0m8 0h0m5 0h0m23 0h0m4 0h0m5 0h0m7 0h0m33 0h0m23 0h0m11 0h0m7 0h0m49 0h0m9 0h0m9 0h0m53 0h0m5 0h0m16 0h0m1 0h0m9 0h0m5 0h0m4 0h0m10 0h0m8 0h0m19 0h0M433 1035h0m3 0h0m1 0h0m10 0h0m1 0h0m4 0h0m8 0h0m19 0h0m38 0h0m2 0h0m12 0h0m17 0h0m16 0h0m2 0h0m23 0h0m22 0h0m1 0h0m21 0h0m1 0h0m25 0h0m5 0h0m4 0h0m30 0h0m13 0h0m19 0h0m23 0h0m10 0h0m1 0h0m2 0h0m3 0h0m2 0h0M431 1036h0m7 0h0m37 0h0m30 0h0m20 0h0m1 0h0m4 0h0m3 0h0m27 0h0m10 0h0m6 0h0m2 0h0m3 0h0m1 0h0m5 0h0m7 0h0m24 0h0m2 0h0m58 0h0m6 0h0m4 0h0m39 0h0m6 0h0m5 0h0m19 0h0m6 0h0m5 0h0m14 0h0m13 0h0M432 1037h0m14 0h0m10 0h0m21 0h0m37 0h0m13 0h0m4 0h0m6 0h0m13 0h0m7 0h0m16 0h0m4 0h0m4 0h0m24 0h0m1 0h0m3 0h0m4 0h0m9 0h0m31 0h0m6 0h0m12 0h0m41 0h0m26 0h0m5 0h0m9 0h0m36 0h0m8 0h0M440 1038h0m12 0h0m26 0h0m3 0h0m30 0h0m1 0h0m9 0h0m9 0h0m11 0h0m73 0h0m2 0h0m7 0h0m5 0h0m33 0h0m3 0h0m14 0h0m14 0h0m14 0h0m18 0h0m2 0h0m15 0h0m6 0h0m2 0h0m14 0h0m20 0h0M431 1039h0m16 0h0m14 0h0m1 0h0m16 0h0m8 0h0m5 0h0m17 0h0m15 0h0m14 0h0m2 0h0m17 0h0m6 0h0m9 0h0m52 0h0m2 0h0m2 0h0m5 0h0m37 0h0m7 0h0m16 0h0m1 0h0m7 0h0m4 0h0m2 0h0m8 0h0m11 0h0m3 0h0m9 0h0m31 0h0m21 0h0M440 1040h0m7 0h0m29 0h0m6 0h0m15 0h0m24 0h0m5 0h0m7 0h0m5 0h0m28 0h0m2 0h0m2 0h0m9 0h0m5 0h0m31 0h0m24 0h0m19 0h0m6 0h0m15 0h0m12 0h0m7 0h0m25 0h0m64 0h0M430 1041h0m16 0h0m15 0h0m14 0h0m1 0h0m1 0h0m24 0h0m4 0h0m6 0h0m16 0h0m1 0h0m2 0h0m5 0h0m24 0h0m12 0h0m11 0h0m19 0h0m40 0h0m8 0h0m3 0h0m26 0h0m23 0h0m3 0h0m18 0h0m41 0h0m6 0h0m6 0h0m10 0h0M438 1042h0m4 0h0m16 0h0m22 0h0m7 0h0m3 0h0m24 0h0m48 0h0m5 0h0m18 0h0m36 0h0m22 0h0m50 0h0m11 0h0m22 0h0m43 0h0m29 0h0M463 1043h0m4 0h0m1 0h0m19 0h0m14 0h0m17 0h0m8 0h0m6 0h0m3 0h0m3 0h0m44 0h0m39 0h0m5 0h0m11 0h0m25 0h0m20 0h0m1 0h0m9 0h0m21 0h0m5 0h0m1 0h0m10 0h0m5 0h0m10 0h0m18 0h0m9 0h0m22 0h0m3 0h0M430 1044h0m4 0h0m1 0h0m15 0h0m20 0h0m4 0h0m42 0h0m39 0h0m3 0h0m16 0h0m21 0h0m8 0h0m2 0h0m19 0h0m23 0h0m3 0h0m23 0h0m12 0h0m49 0h0m25 0h0m8 0h0m21 0h0M431 1045h0m9 0h0m2 0h0m30 0h0m13 0h0m22 0h0m3 0h0m11 0h0m8 0h0m10 0h0m5 0h0m27 0h0m23 0h0m16 0h0m7 0h0m18 0h0m62 0h0m4 0h0m47 0h0m1 0h0m25 0h0m10 0h0m3 0h0M458 1046h0m31 0h0m5 0h0m1 0h0m13 0h0m26 0h0m6 0h0m15 0h0m1 0h0m2 0h0m14 0h0m3 0h0m42 0h0m5 0h0m3 0h0m13 0h0m1 0h0m68 0h0m7 0h0m16 0h0m11 0h0m22 0h0m3 0h0m3 0h0m15 0h0m3 0h0m9 0h0M443 1047h0m14 0h0m8 0h0m2 0h0m22 0h0m16 0h0m16 0h0m15 0h0m6 0h0m14 0h0m17 0h0m35 0h0m6 0h0m2 0h0m72 0h0m52 0h0m21 0h0m11 0h0m5 0h0m4 0h0m9 0h0M461 1048h0m14 0h0m117 0h0m11 0h0m36 0h0m17 0h0m5 0h0m9 0h0m2 0h0m5 0h0m7 0h0m26 0h0m17 0h0m34 0h0m17 0h0m6 0h0M434 1049h0m24 0h0m8 0h0m6 0h0m6 0h0m11 0h0m28 0h0m4 0h0m8 0h0m1 0h0m4 0h0m14 0h0m4 0h0m10 0h0m3 0h0m3 0h0m14 0h0m19 0h0m5 0h0m1 0h0m2 0h0m21 0h0m75 0h0m5 0h0m4 0h0m3 0h0m11 0h0m2 0h0m11 0h0m11 0h0m3 0h0m3 0h0m5 0h0m13 0h0m6 0h0m6 0h0m9 0h0M438 1050h0m2 0h0m10 0h0m6 0h0m25 0h0m16 0h0m3 0h0m7 0h0m10 0h0m24 0h0m1 0h0m10 0h0m6 0h0m39 0h0m3 0h0m5 0h0m7 0h0m21 0h0m76 0h0m6 0h0m15 0h0m10 0h0m10 0h0m3 0h0m15 0h0m23 0h0m5 0h0M435 1051h0m8 0h0m14 0h0m4 0h0m13 0h0m22 0h0m7 0h0m16 0h0m10 0h0m36 0h0m40 0h0m9 0h0m16 0h0m3 0h0m11 0h0m9 0h0m27 0h0m2 0h0m12 0h0m5 0h0m6 0h0m61 0h0m31 0h0m3 0h0M441 1052h0m26 0h0m2 0h0m26 0h0m1 0h0m2 0h0m1 0h0m20 0h0m7 0h0m27 0h0m5 0h0m5 0h0m14 0h0m7 0h0m6 0h0m17 0h0m14 0h0m2 0h0m35 0h0m6 0h0m14 0h0m8 0h0m3 0h0m3 0h0m22 0h0m8 0h0m1 0h0m9 0h0m4 0h0m5 0h0m4 0h0m5 0h0M442 1053h0m23 0h0m4 0h0m12 0h0m23 0h0m1 0h0m16 0h0m1 0h0m20 0h0m11 0h0m3 0h0m17 0h0m6 0h0m12 0h0m11 0h0m4 0h0m6 0h0m16 0h0m32 0h0m3 0h0m18 0h0m15 0h0m20 0h0m7 0h0m2 0h0m44 0h0m19 0h0M457 1054h0m4 0h0m15 0h0m9 0h0m2 0h0m50 0h0m11 0h0m15 0h0m72 0h0m11 0h0m16 0h0m40 0h0m5 0h0m19 0h0m12 0h0m21 0h0m18 0h0M440 1055h0m39 0h0m3 0h0m1 0h0m8 0h0m8 0h0m20 0h0m11 0h0m3 0h0m30 0h0m15 0h0m32 0h0m13 0h0m8 0h0m61 0h0m4 0h0m9 0h0m31 0h0m37 0h0m2 0h0m2 0h0m8 0h0m3 0h0m7 0h0m1 0h0M443 1056h0m8 0h0m32 0h0m29 0h0m4 0h0m19 0h0m18 0h0m16 0h0m3 0h0m29 0h0m5 0h0m34 0h0m4 0h0m41 0h0m11 0h0m9 0h0m11 0h0m3 0h0m1 0h0m55 0h0m7 0h0m2 0h0m6 0h0M430 1057h0m4 0h0m15 0h0m20 0h0m6 0h0m10 0h0m12 0h0m9 0h0m27 0h0m6 0h0m20 0h0m3 0h0m5 0h0m11 0h0m16 0h0m21 0h0m12 0h0m13 0h0m3 0h0m24 0h0m1 0h0m20 0h0m1 0h0m17 0h0m3 0h0m3 0h0m11 0h0m7 0h0m14 0h0m14 0h0m5 0h0m20 0h0m6 0h0M437 1058h0m39 0h0m5 0h0m4 0h0m12 0h0m14 0h0m8 0h0m4 0h0m5 0h0m31 0h0m40 0h0m7 0h0m11 0h0m13 0h0m8 0h0m11 0h0m27 0h0m23 0h0m1 0h0m15 0h0m4 0h0m6 0h0m1 0h0m5 0h0m5 0h0m11 0h0m20 0h0m4 0h0m12 0h0M455 1059h0m3 0h0m7 0h0m7 0h0m12 0h0m5 0h0m40 0h0m38 0h0m16 0h0m23 0h0m11 0h0m17 0h0m13 0h0m6 0h0m30 0h0m14 0h0m7 0h0m6 0h0m1 0h0m8 0h0m4 0h0m33 0h0m37 0h0M433 1060h0m29 0h0m10 0h0m14 0h0m36 0h0m3 0h0m8 0h0m16 0h0m9 0h0m12 0h0m16 0h0m51 0h0m28 0h0m8 0h0m2 0h0m6 0h0m3 0h0m1 0h0m9 0h0m14 0h0m7 0h0m1 0h0m3 0h0m1 0h0m7 0h0m19 0h0m9 0h0m29 0h0m4 0h0m6 0h0M451 1061h0m29 0h0m4 0h0m7 0h0m27 0h0m32 0h0m6 0h0m9 0h0m28 0h0m14 0h0m2 0h0m20 0h0m40 0h0m20 0h0m17 0h0m18 0h0m11 0h0m4 0h0m1 0h0m23 0h0m17 0h0m12 0h0M432 1062h0m13 0h0m1 0h0m19 0h0m23 0h0m1 0h0m40 0h0m8 0h0m14 0h0m9 0h0m11 0h0m12 0h0m5 0h0m12 0h0m16 0h0m36 0h0m27 0h0m13 0h0m4 0h0m3 0h0m30 0h0m50 0h0m21 0h0M440 1063h0m3 0h0m19 0h0m48 0h0m4 0h0m5 0h0m15 0h0m24 0h0m14 0h0m20 0h0m7 0h0m7 0h0m1 0h0m2 0h0m10 0h0m50 0h0m9 0h0m30 0h0m20 0h0m11 0h0m2 0h0m3 0h0m14 0h0m18 0h0M455 1064h0m1 0h0m7 0h0m4 0h0m3 0h0m11 0h0m9 0h0m3 0h0m8 0h0m4 0h0m6 0h0m13 0h0m17 0h0m17 0h0m3 0h0m13 0h0m7 0h0m14 0h0m35 0h0m7 0h0m6 0h0m1 0h0m4 0h0m20 0h0m8 0h0m4 0h0m17 0h0m5 0h0m2 0h0m4 0h0m47 0h0M430 1065h0m6 0h0m1 0h0m24 0h0m10 0h0m25 0h0m23 0h0m5 0h0m5 0h0m7 0h0m6 0h0m11 0h0m13 0h0m14 0h0m2 0h0m15 0h0m7 0h0m24 0h0m29 0h0m24 0h0m10 0h0m3 0h0m1 0h0m2 0h0m37 0h0m23 0h0m1 0h0m20 0h0m2 0h0m8 0h0m5 0h0M448 1066h0m7 0h0m35 0h0m7 0h0m6 0h0m14 0h0m3 0h0m34 0h0m3 0h0m15 0h0m9 0h0m21 0h0m19 0h0m13 0h0m33 0h0m2 0h0m16 0h0m2 0h0m31 0h0m30 0h0m1 0h0m2 0h0m6 0h0m6 0h0m14 0h0m16 0h0M432 1067h0m15 0h0m5 0h0m20 0h0m15 0h0m9 0h0m2 0h0m41 0h0m2 0h0m13 0h0m10 0h0m5 0h0m8 0h0m23 0h0m15 0h0m1 0h0m8 0h0m9 0h0m12 0h0m23 0h0m2 0h0m1 0h0m13 0h0m16 0h0m13 0h0m9 0h0m2 0h0m9 0h0m16 0h0m7 0h0m5 0h0m1 0h0m14 0h0m4 0h0m19 0h0M436 1068h0m11 0h0m12 0h0m20 0h0m5 0h0m22 0h0m4 0h0m13 0h0m4 0h0m2 0h0m14 0h0m9 0h0m14 0h0m5 0h0m10 0h0m28 0h0m2 0h0m28 0h0m29 0h0m11 0h0m2 0h0m31 0h0m11 0h0m13 0h0m14 0h0m6 0h0m6 0h0m16 0h0m20 0h0M430 1069h0m43 0h0m7 0h0m31 0h0m1 0h0m2 0h0m1 0h0m2 0h0m35 0h0m1 0h0m9 0h0m1 0h0m22 0h0m21 0h0m6 0h0m2 0h0m2 0h0m4 0h0m21 0h0m2 0h0m38 0h0m10 0h0m6 0h0m4 0h0m3 0h0m5 0h0m17 0h0m5 0h0m11 0h0m17 0h0m3 0h0m14 0h0m6 0h0M446 1070h0m50 0h0m1 0h0m24 0h0m15 0h0m16 0h0m27 0h0m3 0h0m3 0h0m15 0h0m6 0h0m1 0h0m1 0h0m6 0h0m6 0h0m6 0h0m17 0h0m11 0h0m26 0h0m16 0h0m14 0h0m11 0h0m8 0h0m19 0h0m12 0h0m3 0h0m6 0h0m8 0h0M437 1071h0m16 0h0m3 0h0m29 0h0m58 0h0m13 0h0m5 0h0m2 0h0m18 0h0m17 0h0m7 0h0m3 0h0m41 0h0m52 0h0m7 0h0m4 0h0m6 0h0m5 0h0m3 0h0m29 0h0m9 0h0m5 0h0m25 0h0M461 1072h0m10 0h0m5 0h0m7 0h0m36 0h0m1 0h0m4 0h0m12 0h0m18 0h0m26 0h0m8 0h0m14 0h0m11 0h0m15 0h0m21 0h0m3 0h0m8 0h0m4 0h0m8 0h0m3 0h0m2 0h0m16 0h0m16 0h0m8 0h0m4 0h0m22 0h0m22 0h0m8 0h0m16 0h0m5 0h0M430 1073h0m15 0h0m13 0h0m26 0h0m37 0h0m10 0h0m13 0h0m9 0h0m2 0h0m6 0h0m4 0h0m13 0h0m2 0h0m9 0h0m2 0h0m9 0h0m35 0h0m21 0h0m25 0h0m13 0h0m9 0h0m13 0h0m30 0h0m9 0h0m13 0h0m14 0h0M431 1074h0m12 0h0m6 0h0m3 0h0m17 0h0m2 0h0m7 0h0m5 0h0m16 0h0m12 0h0m1 0h0m29 0h0m4 0h0m11 0h0m2 0h0m38 0h0m7 0h0m29 0h0m3 0h0m6 0h0m3 0h0m11 0h0m5 0h0m26 0h0m2 0h0m1 0h0m24 0h0m6 0h0m5 0h0m4 0h0m10 0h0m21 0h0m6 0h0m4 0h0m21 0h0M439 1075h0m18 0h0m17 0h0m31 0h0m34 0h0m12 0h0m21 0h0m17 0h0m20 0h0m13 0h0m10 0h0m15 0h0m26 0h0m2 0h0m19 0h0m10 0h0m18 0h0m7 0h0m7 0h0m17 0h0m10 0h0m20 0h0m1 0h0m8 0h0M437 1076h0m7 0h0m22 0h0m13 0h0m3 0h0m9 0h0m5 0h0m1 0h0m4 0h0m2 0h0m9 0h0m31 0h0m7 0h0m11 0h0m6 0h0m2 0h0m13 0h0m5 0h0m18 0h0m6 0h0m2 0h0m6 0h0m5 0h0m2 0h0m6 0h0m14 0h0m14 0h0m1 0h0m2 0h0m3 0h0m12 0h0m1 0h0m18 0h0m8 0h0m72 0h0M454 1077h0m15 0h0m5 0h0m1 0h0m14 0h0m12 0h0m1 0h0m40 0h0m1 0h0m5 0h0m19 0h0m3 0h0m71 0h0m3 0h0m5 0h0m6 0h0m6 0h0m6 0h0m1 0h0m2 0h0m22 0h0m20 0h0m23 0h0m1 0h0m18 0h0m7 0h0m18 0h0m14 0h0M432 1078h0m12 0h0m9 0h0m3 0h0m53 0h0m4 0h0m9 0h0m1 0h0m5 0h0m44 0h0m9 0h0m8 0h0m2 0h0m17 0h0m27 0h0m15 0h0m3 0h0m5 0h0m8 0h0m16 0h0m14 0h0m21 0h0m15 0h0m30 0h0m5 0h0m8 0h0m4 0h0M449 1079h0m6 0h0m5 0h0m27 0h0m8 0h0m31 0h0m6 0h0m21 0h0m18 0h0m43 0h0m6 0h0m1 0h0m12 0h0m4 0h0m3 0h0m10 0h0m13 0h0m2 0h0m13 0h0m13 0h0m17 0h0m17 0h0m16 0h0m5 0h0m8 0h0m7 0h0m7 0h0m4 0h0m4 0h0m1 0h0M432 1080h0m10 0h0m3 0h0m2 0h0m17 0h0m2 0h0m7 0h0m21 0h0m37 0h0m28 0h0m57 0h0m1 0h0m8 0h0m5 0h0m24 0h0m1 0h0m4 0h0m47 0h0m5 0h0m7 0h0m2 0h0m1 0h0m17 0h0m22 0h0m2 0h0m36 0h0M436 1081h0m1 0h0m13 0h0m6 0h0m1 0h0m25 0h0m28 0h0m2 0h0m3 0h0m15 0h0m7 0h0m13 0h0m13 0h0m3 0h0m28 0h0m1 0h0m6 0h0m20 0h0m22 0h0m14 0h0m25 0h0m22 0h0m28 0h0m2 0h0m2 0h0m6 0h0m18 0h0m31 0h0m7 0h0M449 1082h0m6 0h0m3 0h0m1 0h0m19 0h0m1 0h0m7 0h0m12 0h0m2 0h0m4 0h0m14 0h0m12 0h0m13 0h0m5 0h0m19 0h0m7 0h0m24 0h0m2 0h0m10 0h0m4 0h0m38 0h0m15 0h0m42 0h0m9 0h0m27 0h0m7 0h0m12 0h0m1 0h0m11 0h0M449 1083h0m10 0h0m19 0h0m16 0h0m5 0h0m15 0h0m27 0h0m18 0h0m12 0h0m52 0h0m1 0h0m31 0h0m1 0h0m74 0h0m54 0h0M439 1084h0m11 0h0m2 0h0m18 0h0m8 0h0m20 0h0m17 0h0m15 0h0m2 0h0m46 0h0m2 0h0m13 0h0m1 0h0m25 0h0m16 0h0m3 0h0m17 0h0m31 0h0m8 0h0m29 0h0m2 0h0m9 0h0m7 0h0m27 0h0m2 0h0m3 0h0m10 0h0m8 0h0M449 1085h0m10 0h0m27 0h0m21 0h0m35 0h0m11 0h0m11 0h0m28 0h0m7 0h0m7 0h0m7 0h0m24 0h0m29 0h0m5 0h0m8 0h0m56 0h0m2 0h0m45 0h0m14 0h0M451 1086h0m2 0h0m13 0h0m2 0h0m8 0h0m1 0h0m18 0h0m13 0h0m8 0h0m1 0h0m18 0h0m8 0h0m37 0h0m1 0h0m11 0h0m19 0h0m4 0h0m7 0h0m26 0h0m11 0h0m6 0h0m13 0h0m21 0h0m25 0h0m5 0h0m8 0h0m13 0h0m17 0h0m22 0h0m1 0h0M431 1087h0m12 0h0m18 0h0m18 0h0m1 0h0m2 0h0m23 0h0m32 0h0m5 0h0m1 0h0m41 0h0m3 0h0m18 0h0m6 0h0m22 0h0m10 0h0m4 0h0m15 0h0m5 0h0m2 0h0m5 0h0m5 0h0m3 0h0m16 0h0m3 0h0m1 0h0m2 0h0m20 0h0m2 0h0m7 0h0m3 0h0m22 0h0m10 0h0m1 0h0m3 0h0m20 0h0M435 1088h0m9 0h0m7 0h0m4 0h0m38 0h0m5 0h0m15 0h0m9 0h0m8 0h0m5 0h0m15 0h0m18 0h0m12 0h0m14 0h0m44 0h0m7 0h0m12 0h0m7 0h0m9 0h0m6 0h0m60 0h0m6 0h0m8 0h0m6 0h0m7 0h0m1 0h0M451 1089h0m20 0h0m3 0h0m18 0h0m2 0h0m7 0h0m43 0h0m10 0h0m12 0h0m15 0h0m7 0h0m2 0h0m11 0h0m29 0h0m17 0h0m6 0h0m9 0h0m7 0h0m16 0h0m6 0h0m5 0h0m13 0h0m3 0h0m20 0h0m7 0h0m54 0h0m3 0h0M465 1090h0m19 0h0m1 0h0m10 0h0m13 0h0m8 0h0m17 0h0m9 0h0m13 0h0m19 0h0m7 0h0m17 0h0m7 0h0m10 0h0m7 0h0m22 0h0m30 0h0m19 0h0m16 0h0m2 0h0m6 0h0m11 0h0m10 0h0m5 0h0m25 0h0m3 0h0m9 0h0M440 1091h0m13 0h0m12 0h0m9 0h0m29 0h0m29 0h0m8 0h0m1 0h0m22 0h0m32 0h0m9 0h0m18 0h0m2 0h0m6 0h0m14 0h0m21 0h0m12 0h0m4 0h0m4 0h0m16 0h0m4 0h0m45 0h0m2 0h0m2 0h0m8 0h0M431 1092h0m32 0h0m13 0h0m17 0h0m9 0h0m17 0h0m23 0h0m14 0h0m62 0h0m3 0h0m13 0h0m7 0h0m2 0h0m51 0h0m3 0h0m11 0h0m26 0h0m3 0h0m29 0h0m32 0h0M436 1093h0m22 0h0m12 0h0m12 0h0m13 0h0m22 0h0m7 0h0m8 0h0m28 0h0m11 0h0m9 0h0m6 0h0m3 0h0m13 0h0m4 0h0m20 0h0m17 0h0m3 0h0m1 0h0m28 0h0m1 0h0m9 0h0m3 0h0m5 0h0m54 0h0m6 0h0m3 0h0m28 0h0M434 1094h0m1 0h0m16 0h0m21 0h0m4 0h0m9 0h0m22 0h0m1 0h0m7 0h0m8 0h0m21 0h0m6 0h0m8 0h0m9 0h0m2 0h0m23 0h0m2 0h0m9 0h0m10 0h0m9 0h0m15 0h0m30 0h0m3 0h0m2 0h0m7 0h0m13 0h0m6 0h0m15 0h0m1 0h0m28 0h0m29 0h0m5 0h0m23 0h0M446 1095h0m6 0h0m9 0h0m1 0h0m3 0h0m19 0h0m12 0h0m59 0h0m13 0h0m27 0h0m60 0h0m2 0h0m7 0h0m21 0h0m2 0h0m1 0h0m76 0h0m1 0h0m25 0h0M458 1096h0m7 0h0m10 0h0m4 0h0m8 0h0m74 0h0m3 0h0m30 0h0m3 0h0m14 0h0m19 0h0m24 0h0m3 0h0m4 0h0m7 0h0m12 0h0m9 0h0m2 0h0m14 0h0m14 0h0m15 0h0m22 0h0M455 1097h0m6 0h0m16 0h0m11 0h0m14 0h0m19 0h0m19 0h0m17 0h0m16 0h0m2 0h0m12 0h0m5 0h0m17 0h0m15 0h0m1 0h0m23 0h0m13 0h0m6 0h0m12 0h0m5 0h0m5 0h0m9 0h0m25 0h0m4 0h0m51 0h0m9 0h0m3 0h0M453 1098h0m14 0h0m5 0h0m2 0h0m9 0h0m16 0h0m10 0h0m8 0h0m16 0h0m23 0h0m32 0h0m6 0h0m8 0h0m40 0h0m12 0h0m7 0h0m8 0h0m4 0h0m5 0h0m8 0h0m2 0h0m1 0h0m25 0h0m21 0h0m10 0h0m27 0h0m21 0h0M432 1099h0m3 0h0m9 0h0m28 0h0m13 0h0m1 0h0m9 0h0m12 0h0m4 0h0m48 0h0m12 0h0m16 0h0m41 0h0m4 0h0m2 0h0m1 0h0m14 0h0m8 0h0m48 0h0m15 0h0m6 0h0m15 0h0m17 0h0m4 0h0m28 0h0m2 0h0M475 1100h0m17 0h0m77 0h0m10 0h0m44 0h0m29 0h0m3 0h0m1 0h0m12 0h0m23 0h0m10 0h0m52 0h0m38 0h0M450 1101h0m15 0h0m12 0h0m24 0h0m18 0h0m7 0h0m2 0h0m4 0h0m10 0h0m4 0h0m2 0h0m6 0h0m25 0h0m5 0h0m13 0h0m25 0h0m1 0h0m13 0h0m37 0h0m25 0h0m23 0h0m13 0h0m28 0h0m7 0h0m24 0h0M435 1102h0m11 0h0m26 0h0m11 0h0m31 0h0m19 0h0m6 0h0m20 0h0m4 0h0m6 0h0m5 0h0m2 0h0m6 0h0m8 0h0m7 0h0m33 0h0m10 0h0m12 0h0m6 0h0m5 0h0m11 0h0m15 0h0m14 0h0m15 0h0m26 0h0m14 0h0m6 0h0m6 0h0m5 0h0m1 0h0M467 1103h0m2 0h0m17 0h0m6 0h0m15 0h0m29 0h0m1 0h0m15 0h0m16 0h0m12 0h0m16 0h0m18 0h0m17 0h0m32 0h0m20 0h0m38 0h0m15 0h0m6 0h0m17 0h0m13 0h0m8 0h0m9 0h0m10 0h0M477 1104h0m16 0h0m6 0h0m2 0h0m39 0h0m4 0h0m3 0h0m20 0h0m5 0h0m3 0h0m1 0h0m2 0h0m2 0h0m3 0h0m14 0h0m14 0h0m1 0h0m1 0h0m4 0h0m24 0h0m8 0h0m21 0h0m13 0h0m1 0h0m16 0h0m2 0h0m29 0h0m5 0h0m13 0h0m7 0h0m13 0h0M471 1105h0m28 0h0m15 0h0m12 0h0m1 0h0m25 0h0m4 0h0m19 0h0m16 0h0m18 0h0m13 0h0m2 0h0m4 0h0m7 0h0m4 0h0m1 0h0m13 0h0m5 0h0m7 0h0m1 0h0m27 0h0m14 0h0m15 0h0m13 0h0m10 0h0m6 0h0m16 0h0m18 0h0M449 1106h0m1 0h0m24 0h0m8 0h0m11 0h0m1 0h0m21 0h0m11 0h0m1 0h0m4 0h0m17 0h0m30 0h0m24 0h0m16 0h0m4 0h0m9 0h0m11 0h0m4 0h0m6 0h0m19 0h0m18 0h0m5 0h0m1 0h0m2 0h0m4 0h0m21 0h0m20 0h0m16 0h0m8 0h0M445 1107h0m4 0h0m18 0h0m3 0h0m5 0h0m23 0h0m12 0h0m1 0h0m18 0h0m95 0h0m17 0h0m11 0h0m6 0h0m13 0h0m9 0h0m1 0h0m11 0h0m11 0h0m15 0h0m4 0h0m51 0h0m5 0h0m5 0h0M461 1108h0m36 0h0m8 0h0m11 0h0m2 0h0m27 0h0m11 0h0m7 0h0m2 0h0m7 0h0m21 0h0m28 0h0m21 0h0m38 0h0m11 0h0m3 0h0m5 0h0m1 0h0m37 0h0m3 0h0m13 0h0m9 0h0m2 0h0m5 0h0m27 0h0M430 1109h0m13 0h0m3 0h0m4 0h0m24 0h0m7 0h0m8 0h0m15 0h0m2 0h0m23 0h0m11 0h0m13 0h0m5 0h0m19 0h0m15 0h0m10 0h0m10 0h0m1 0h0m9 0h0m16 0h0m3 0h0m4 0h0m25 0h0m17 0h0m13 0h0m14 0h0m44 0h0m18 0h0M434 1110h0m21 0h0m22 0h0m5 0h0m9 0h0m5 0h0m9 0h0m18 0h0m5 0h0m50 0h0m7 0h0m3 0h0m7 0h0m16 0h0m1 0h0m9 0h0m16 0h0m9 0h0m17 0h0m4 0h0m4 0h0m13 0h0m17 0h0m32 0h0m4 0h0m20 0h0m9 0h0m17 0h0m4 0h0m7 0h0M433 1111h0m11 0h0m63 0h0m22 0h0m14 0h0m1 0h0m11 0h0m6 0h0m11 0h0m8 0h0m1 0h0m17 0h0m3 0h0m13 0h0m6 0h0m23 0h0m4 0h0m13 0h0m4 0h0m21 0h0m7 0h0m5 0h0m8 0h0m6 0h0m2 0h0m3 0h0m12 0h0m4 0h0m5 0h0m38 0h0M462 1112h0m10 0h0m1 0h0m6 0h0m5 0h0m27 0h0m12 0h0m4 0h0m5 0h0m2 0h0m5 0h0m23 0h0m26 0h0m7 0h0m42 0h0m12 0h0m15 0h0m9 0h0m1 0h0m4 0h0m11 0h0m4 0h0m13 0h0m1 0h0m5 0h0m15 0h0m3 0h0m5 0h0m26 0h0m12 0h0m6 0h0m6 0h0M473 1113h0m91 0h0m6 0h0m13 0h0m7 0h0m4 0h0m16 0h0m32 0h0m27 0h0m26 0h0m45 0h0m19 0h0m29 0h0M488 1114h0m5 0h0m23 0h0m26 0h0m77 0h0m16 0h0m2 0h0m10 0h0m7 0h0m4 0h0m27 0h0m6 0h0m8 0h0m14 0h0m11 0h0m23 0h0m28 0h0M440 1115h0m42 0h0m4 0h0m1 0h0m11 0h0m27 0h0m27 0h0m16 0h0m38 0h0m11 0h0m4 0h0m2 0h0m17 0h0m12 0h0m13 0h0m10 0h0m15 0h0m18 0h0m10 0h0m8 0h0m1 0h0m5 0h0m10 0h0m4 0h0M449 1116h0m14 0h0m9 0h0m17 0h0m6 0h0m1 0h0m2 0h0m20 0h0m36 0h0m1 0h0m6 0h0m11 0h0m5 0h0m20 0h0m43 0h0m14 0h0m3 0h0m16 0h0m44 0h0m10 0h0m1 0h0m23 0h0m2 0h0m9 0h0m1 0h0m3 0h0m34 0h0M450 1117h0m11 0h0m14 0h0m11 0h0m41 0h0m7 0h0m12 0h0m30 0h0m46 0h0m19 0h0m7 0h0m49 0h0m36 0h0m39 0h0m8 0h0m4 0h0m12 0h0M444 1118h0m9 0h0m4 0h0m16 0h0m3 0h0m8 0h0m1 0h0m10 0h0m5 0h0m25 0h0m16 0h0m12 0h0m38 0h0m1 0h0m12 0h0m5 0h0m4 0h0m13 0h0m20 0h0m17 0h0m3 0h0m4 0h0m6 0h0m26 0h0m63 0h0m4 0h0m9 0h0m2 0h0m12 0h0M461 1119h0m2 0h0m19 0h0m8 0h0m36 0h0m13 0h0m7 0h0m26 0h0m6 0h0m23 0h0m9 0h0m9 0h0m35 0h0m18 0h0m1 0h0m5 0h0m54 0h0m19 0h0m10 0h0m12 0h0M437 1120h0m4 0h0m23 0h0m8 0h0m40 0h0m29 0h0m12 0h0m6 0h0m11 0h0m4 0h0m13 0h0m15 0h0m22 0h0m15 0h0m14 0h0m5 0h0m29 0h0m3 0h0m2 0h0m2 0h0m28 0h0m16 0h0m6 0h0m4 0h0m24 0h0m14 0h0m8 0h0M435 1121h0m6 0h0m13 0h0m13 0h0m6 0h0m10 0h0m1 0h0m40 0h0m6 0h0m16 0h0m5 0h0m13 0h0m3 0h0m18 0h0m29 0h0m65 0h0m43 0h0m10 0h0m4 0h0m23 0h0m4 0h0m5 0h0m6 0h0m12 0h0m3 0h0M431 1122h0m13 0h0m8 0h0m6 0h0m1 0h0m9 0h0m9 0h0m5 0h0m3 0h0m8 0h0m4 0h0m64 0h0m20 0h0m33 0h0m3 0h0m11 0h0m28 0h0m27 0h0m4 0h0m4 0h0m24 0h0m18 0h0m5 0h0m25 0h0M449 1123h0m1 0h0m8 0h0m6 0h0m35 0h0m17 0h0m3 0h0m22 0h0m1 0h0m5 0h0m5 0h0m34 0h0m38 0h0m5 0h0m3 0h0m1 0h0m2 0h0m6 0h0m1 0h0m1 0h0m17 0h0m9 0h0m14 0h0m13 0h0m19 0h0m13 0h0m30 0h0m14 0h0m3 0h0m1 0h0M454 1124h0m16 0h0m4 0h0m24 0h0m3 0h0m31 0h0m1 0h0m11 0h0m19 0h0m1 0h0m1 0h0m40 0h0m12 0h0m16 0h0m9 0h0m1 0h0m4 0h0m28 0h0m3 0h0m11 0h0m28 0h0m4 0h0m14 0h0m3 0h0m1 0h0m5 0h0m5 0h0m7 0h0m6 0h0m1 0h0m9 0h0M447 1125h0m17 0h0m12 0h0m4 0h0m4 0h0m46 0h0m3 0h0m15 0h0m11 0h0m21 0h0m12 0h0m20 0h0m16 0h0m4 0h0m10 0h0m2 0h0m9 0h0m65 0h0m9 0h0m16 0h0m55 0h0M442 1126h0m12 0h0m7 0h0m9 0h0m3 0h0m1 0h0m10 0h0m8 0h0m8 0h0m20 0h0m12 0h0m4 0h0m2 0h0m6 0h0m3 0h0m21 0h0m28 0h0m7 0h0m21 0h0m29 0h0m2 0h0m13 0h0m4 0h0m13 0h0m14 0h0m3 0h0m5 0h0m10 0h0m12 0h0m4 0h0m3 0h0m3 0h0m5 0h0m4 0h0m10 0h0m30 0h0m4 0h0M430 1127h0m8 0h0m12 0h0m5 0h0m9 0h0m7 0h0m34 0h0m33 0h0m16 0h0m9 0h0m2 0h0m10 0h0m3 0h0m12 0h0m25 0h0m6 0h0m4 0h0m1 0h0m4 0h0m14 0h0m4 0h0m14 0h0m7 0h0m50 0h0m35 0h0m2 0h0m3 0h0m8 0h0m1 0h0m18 0h0m11 0h0M435 1128h0m8 0h0m3 0h0m22 0h0m24 0h0m12 0h0m36 0h0m1 0h0m2 0h0m23 0h0m3 0h0m29 0h0m3 0h0m13 0h0m3 0h0m4 0h0m13 0h0m13 0h0m10 0h0m1 0h0m23 0h0m7 0h0m6 0h0m7 0h0m27 0h0m18 0h0m3 0h0m31 0h0m18 0h0M433 1129h0m50 0h0m41 0h0m43 0h0m10 0h0m13 0h0m6 0h0m4 0h0m7 0h0m6 0h0m15 0h0m14 0h0m9 0h0m15 0h0m8 0h0m8 0h0m30 0h0m3 0h0m1 0h0m2 0h0m15 0h0M430 1130h0m18 0h0m21 0h0m7 0h0m5 0h0m24 0h0m11 0h0m18 0h0m25 0h0m32 0h0m14 0h0m7 0h0m5 0h0m83 0h0m5 0h0m1 0h0m9 0h0m23 0h0m8 0h0m31 0h0m1 0h0m16 0h0"/>
<path stroke-width="5.4" stroke-linecap="round" fill="none" stroke="#0d9305" d="M802 864h0m4 0h0m24 0h0m48 0h0m1 0h0m17 0h0m1 0h0m9 0h0m7 0h0m38 0h0m7 0h0m33 0h0m22 0h0M831 865h0m50 0h0m1 0h0m40 0h0m11 0h0m7 0h0m1 0h0m18 0h0m35 0h0m5 0h0m3 0h0M817 866h0m22 0h0m9 0h0m4 0h0m14 0h0m11 0h0m12 0h0m2 0h0m8 0h0m11 0h0m13 0h0m6 0h0m1 0h0m9 0h0M804 867h0m8 0h0m10 0h0m17 0h0m5 0h0m1 0h0m7 0h0m12 0h0m8 0h0m3 0h0m34 0h0m13 0h0m2 0h0m50 0h0m20 0h0m7 0h0m18 0h0M801 868h0m7 0h0m1 0h0m36 0h0m26 0h0m6 0h0m5 0h0m21 0h0m20 0h0m6 0h0m1 0h0m5 0h0m1 0h0m67 0h0M831 869h0m14 0h0m89 0h0M814 870h0m19 0h0m14 0h0m13 0h0m8 0h0m3 0h0m25 0h0m3 0h0m20 0h0m1 0h0m1 0h0m15 0h0m17 0h0m13 0h0m18 0h0m11 0h0m8 0h0m8 0h0M806 871h0m32 0h0m10 0h0m10 0h0m59 0h0m13 0h0m10 0h0m33 0h0m8 0h0m31 0h0M801 872h0m18 0h0m9 0h0m11 0h0m9 0h0m27 0h0m20 0h0m91 0h0M801 873h0m14 0h0m2 0h0m1 0h0m10 0h0m32 0h0m6 0h0m11 0h0m6 0h0m3 0h0m5 0h0m10 0h0m23 0h0m34 0h0m4 0h0m18 0h0m33 0h0M822 874h0m6 0h0m63 0h0m20 0h0m12 0h0m15 0h0m48 0h0m39 0h0M801 875h0m14 0h0m17 0h0m4 0h0m2 0h0m64 0h0m117 0h0M802 876h0m20 0h0m8 0h0m3 0h0m15 0h0m44 0h0m36 0h0m31 0h0m20 0h0m26 0h0m8 0h0M802 877h0m3 0h0m2 0h0m26 0h0m10 0h0m11 0h0m9 0h0m7 0h0m1 0h0m5 0h0m31 0h0m5 0h0m21 0h0m32 0h0m48 0h0M801 878h0m14 0h0m21 0h0m19 0h0m23 0h0m42 0h0m10 0h0m34 0h0m50 0h0M837 879h0m28 0h0m73 0h0m2 0h0m32 0h0M812 880h0m3 0h0m19 0h0m8 0h0m8 0h0m18 0h0m11 0h0m22 0h0m26 0h0m5 0h0m13 0h0m33 0h0M807 881h0m2 0h0m4 0h0m5 0h0m2 0h0m8 0h0m42 0h0m66 0h0m10 0h0m14 0h0m20 0h0m15 0h0m5 0h0m18 0h0m1 0h0M804 882h0m27 0h0m6 0h0m9 0h0m2 0h0m6 0h0m4 0h0m13 0h0m24 0h0m24 0h0m25 0h0m9 0h0m71 0h0M843 883h0m2 0h0m1 0h0m5 0h0m39 0h0m3 0h0m1 0h0m27 0h0m27 0h0m75 0h0M815 884h0m11 0h0m46 0h0m8 0h0m7 0h0m30 0h0m39 0h0m7 0h0m11 0h0m2 0h0m11 0h0m27 0h0M801 885h0m1 0h0m36 0h0m21 0h0m3 0h0m8 0h0m33 0h0m23 0h0m2 0h0m19 0h0M812 886h0m12 0h0m1 0h0m4 0h0m10 0h0m24 0h0m23 0h0m48 0h0m69 0h0M811 887h0m6 0h0m30 0h0m90 0h0m15 0h0m58 0h0M806 888h0m1 0h0m19 0h0m3 0h0m23 0h0m12 0h0m25 0h0m10 0h0m6 0h0m61 0h0m21 0h0M801 889h0m37 0h0m5 0h0m14 0h0m37 0h0m68 0h0m15 0h0M804 890h0m7 0h0m2 0h0m3 0h0m6 0h0m11 0h0m33 0h0m6 0h0m37 0h0m18 0h0M803 891h0m3 0h0m43 0h0m26 0h0m6 0h0m59 0h0m82 0h0M812 892h0m5 0h0m3 0h0m25 0h0m17 0h0m5 0h0m2 0h0m27 0h0m14 0h0m25 0h0m13 0h0m14 0h0m9 0h0M825 893h0m1 0h0m14 0h0m2 0h0m9 0h0m14 0h0m22 0h0m30 0h0m6 0h0m23 0h0m35 0h0m10 0h0M803 894h0m32 0h0m7 0h0m12 0h0m14 0h0m6 0h0m47 0h0m46 0h0M801 895h0m26 0h0m15 0h0m20 0h0m16 0h0m12 0h0m93 0h0M816 896h0m21 0h0m18 0h0m4 0h0m1 0h0m16 0h0m4 0h0m2 0h0m18 0h0m79 0h0m19 0h0M818 897h0m14 0h0m11 0h0m50 0h0m58 0h0m36 0h0M815 898h0m73 0h0m22 0h0m16 0h0m13 0h0m51 0h0m16 0h0m2 0h0m6 0h0m9 0h0M823 899h0m28 0h0m1 0h0m2 0h0m25 0h0m6 0h0m2 0h0m9 0h0m14 0h0m9 0h0m69 0h0M818 900h0m49 0h0m18 0h0m12 0h0m2 0h0m32 0h0M805 901h0m3 0h0m8 0h0m11 0h0m7 0h0m7 0h0m29 0h0m13 0h0m29 0h0m71 0h0m8 0h0m23 0h0M801 902h0m17 0h0m6 0h0m5 0h0m13 0h0m28 0h0m18 0h0m10 0h0m11 0h0m15 0h0m8 0h0m27 0h0m23 0h0M831 903h0m37 0h0m1 0h0m42 0h0m4 0h0m2 0h0m9 0h0m1 0h0m18 0h0m65 0h0M814 904h0m25 0h0m22 0h0m5 0h0m8 0h0m59 0h0m43 0h0m36 0h0m3 0h0m10 0h0M809 905h0m12 0h0m7 0h0m3 0h0m14 0h0m3 0h0m4 0h0m13 0h0m13 0h0m27 0h0m6 0h0m8 0h0m2 0h0m39 0h0m60 0h0m2 0h0M807 906h0m28 0h0m1 0h0m23 0h0m4 0h0m34 0h0m24 0h0m3 0h0m1 0h0m2 0h0m62 0h0m21 0h0M830 907h0m16 0h0m11 0h0m6 0h0m10 0h0m2 0h0m14 0h0m7 0h0m21 0h0m9 0h0m76 0h0M820 908h0m45 0h0m24 0h0M841 909h0m1 0h0m23 0h0m13 0h0m15 0h0m7 0h0m92 0h0m1 0h0m19 0h0M801 910h0m24 0h0m5 0h0m5 0h0m29 0h0m23 0h0m13 0h0m10 0h0m59 0h0m21 0h0m26 0h0M808 911h0m8 0h0m5 0h0m5 0h0m41 0h0m13 0h0m5 0h0m4 0h0m10 0h0m21 0h0m72 0h0M810 912h0m21 0h0m4 0h0m4 0h0m2 0h0m10 0h0m9 0h0m5 0h0m5 0h0m1 0h0m2 0h0m4 0h0m86 0h0m20 0h0M815 913h0m75 0h0m36 0h0m11 0h0M802 914h0m4 0h0m43 0h0m16 0h0m1 0h0m101 0h0m3 0h0m12 0h0m8 0h0M802 915h0m5 0h0m2 0h0m6 0h0m9 0h0m5 0h0m1 0h0m9 0h0m15 0h0m12 0h0m73 0h0m19 0h0m27 0h0m39 0h0M814 916h0m3 0h0m22 0h0m3 0h0m42 0h0m8 0h0m75 0h0M822 917h0m14 0h0m58 0h0m1 0h0m19 0h0m36 0h0m60 0h0m5 0h0M853 918h0m1 0h0m26 0h0m49 0h0m11 0h0m24 0h0M819 919h0m33 0h0m2 0h0m22 0h0m1 0h0m86 0h0m56 0h0m3 0h0M824 920h0m3 0h0m52 0h0m42 0h0m40 0h0m7 0h0m24 0h0M803 921h0m10 0h0m11 0h0m3 0h0m5 0h0m5 0h0m9 0h0m10 0h0m103 0h0M807 922h0m9 0h0m4 0h0m56 0h0m6 0h0m7 0h0m8 0h0m12 0h0m69 0h0m28 0h0M860 923h0m2 0h0m30 0h0m28 0h0M812 924h0m47 0h0m35 0h0m18 0h0m6 0h0m44 0h0m14 0h0m16 0h0M806 925h0m8 0h0m2 0h0m29 0h0m70 0h0M803 926h0m62 0h0m11 0h0M808 927h0m14 0h0m21 0h0m57 0h0m85 0h0m12 0h0M805 928h0m11 0h0m5 0h0m16 0h0m56 0h0m53 0h0m17 0h0M807 929h0m5 0h0m76 0h0m5 0h0m11 0h0m54 0h0M815 930h0m7 0h0m7 0h0m24 0h0m3 0h0m4 0h0m26 0h0m4 0h0m16 0h0m10 0h0M810 931h0m22 0h0m1 0h0m4 0h0m5 0h0m6 0h0m31 0h0m4 0h0m81 0h0M806 932h0m13 0h0m11 0h0m6 0h0m1 0h0m7 0h0m44 0h0m12 0h0m26 0h0M802 933h0m9 0h0m34 0h0m12 0h0m33 0h0m8 0h0m70 0h0M809 934h0m22 0h0m30 0h0m8 0h0m67 0h0m51 0h0M819 935h0m7 0h0m12 0h0m38 0h0m36 0h0m17 0h0m5 0h0m16 0h0m12 0h0m4 0h0M801 936h0m12 0h0m5 0h0m18 0h0m3 0h0m7 0h0m11 0h0m13 0h0m91 0h0m12 0h0m32 0h0M807 937h0m24 0h0m6 0h0m29 0h0m28 0h0m15 0h0m29 0h0m15 0h0m18 0h0M801 938h0m11 0h0m19 0h0m11 0h0m4 0h0m15 0h0m78 0h0m22 0h0m4 0h0m25 0h0M818 939h0m32 0h0m6 0h0m46 0h0m13 0h0m4 0h0m12 0h0m7 0h0m24 0h0m51 0h0M817 940h0m22 0h0m18 0h0m55 0h0m33 0h0m9 0h0m34 0h0m11 0h0M803 941h0m20 0h0m8 0h0m27 0h0m13 0h0m12 0h0m8 0h0m5 0h0m8 0h0m30 0h0m7 0h0m26 0h0M804 942h0m1 0h0m19 0h0m17 0h0m52 0h0m18 0h0m67 0h0M812 943h0m5 0h0m4 0h0m3 0h0m5 0h0m9 0h0m54 0h0m13 0h0m21 0h0m82 0h0m14 0h0M802 944h0m19 0h0m35 0h0m4 0h0m13 0h0m8 0h0m43 0h0m74 0h0M814 945h0m5 0h0m4 0h0m4 0h0m5 0h0m26 0h0m1 0h0m47 0h0m20 0h0M807 946h0m2 0h0m7 0h0m17 0h0m37 0h0m23 0h0m19 0h0m5 0h0m28 0h0M821 947h0m3 0h0m29 0h0m9 0h0m2 0h0m32 0h0m9 0h0m37 0h0m23 0h0m18 0h0m22 0h0M806 948h0m17 0h0m4 0h0m15 0h0m1 0h0m10 0h0m1 0h0m3 0h0m23 0h0m8 0h0m1 0h0m21 0h0m85 0h0M837 949h0m1 0h0m1 0h0m2 0h0m12 0h0m15 0h0m51 0h0m10 0h0m16 0h0m4 0h0m67 0h0M804 950h0m24 0h0m12 0h0m12 0h0m3 0h0m38 0h0m95 0h0m14 0h0M818 951h0m30 0h0m15 0h0m19 0h0m4 0h0m8 0h0m18 0h0m8 0h0m48 0h0m54 0h0M805 952h0m5 0h0m16 0h0m7 0h0m21 0h0m19 0h0m42 0h0m1 0h0m33 0h0M811 953h0m2 0h0m4 0h0m7 0h0m12 0h0m5 0h0m142 0h0m5 0h0m18 0h0M802 954h0m30 0h0m14 0h0m5 0h0m5 0h0m1 0h0m38 0h0m12 0h0m64 0h0m11 0h0M813 955h0m13 0h0m12 0h0m28 0h0m75 0h0m1 0h0m1 0h0m31 0h0m30 0h0M803 956h0m4 0h0m3 0h0m19 0h0m1 0h0m1 0h0m5 0h0m1 0h0m9 0h0m79 0h0m13 0h0m36 0h0m22 0h0M802 957h0m31 0h0m8 0h0m19 0h0m16 0h0m5 0h0m30 0h0m16 0h0m17 0h0m6 0h0m8 0h0m56 0h0M809 958h0m9 0h0m1 0h0m22 0h0m32 0h0m89 0h0m2 0h0m4 0h0m11 0h0m13 0h0m7 0h0M845 959h0m32 0h0m84 0h0m58 0h0M803 960h0m5 0h0m7 0h0m1 0h0m12 0h0m2 0h0m5 0h0m40 0h0m51 0h0m85 0h0M812 961h0m2 0h0m4 0h0m34 0h0m86 0h0M811 962h0m8 0h0m5 0h0m5 0h0m44 0h0m3 0h0m21 0h0m78 0h0M801 963h0m25 0h0m3 0h0m29 0h0m21 0h0m6 0h0m17 0h0M806 964h0m24 0h0m2 0h0m3 0h0m28 0h0m1 0h0m26 0h0m85 0h0m47 0h0M829 965h0m13 0h0m3 0h0m119 0h0m11 0h0m5 0h0m10 0h0M824 966h0m1 0h0m44 0h0m32 0h0m26 0h0m4 0h0m27 0h0m6 0h0m6 0h0M812 967h0m12 0h0m2 0h0m6 0h0m49 0h0m5 0h0m24 0h0m53 0h0m10 0h0m14 0h0m6 0h0M819 968h0m33 0h0m2 0h0m10 0h0m6 0h0m3 0h0m23 0h0m44 0h0m75 0h0m10 0h0M802 969h0m88 0h0m2 0h0m12 0h0m61 0h0m1 0h0m10 0h0M831 970h0m15 0h0m18 0h0m34 0h0m11 0h0m18 0h0m2 0h0m84 0h0m3 0h0M819 971h0m34 0h0m11 0h0m2 0h0m1 0h0m33 0h0m11 0h0M802 972h0m69 0h0m32 0h0m9 0h0m2 0h0m62 0h0m6 0h0M849 973h0m7 0h0m3 0h0m21 0h0m9 0h0m43 0h0m68 0h0M828 974h0m2 0h0m11 0h0m2 0h0m4 0h0m14 0h0m2 0h0m78 0h0m74 0h0M804 975h0m29 0h0m110 0h0M818 976h0m1 0h0m7 0h0m8 0h0m1 0h0m13 0h0m6 0h0m92 0h0m3 0h0m21 0h0M814 977h0m35 0h0m8 0h0m2 0h0m1 0h0m114 0h0m10 0h0M803 978h0m1 0h0m41 0h0m1 0h0m47 0h0m39 0h0m36 0h0m19 0h0M820 979h0m67 0h0m65 0h0m12 0h0m42 0h0m5 0h0M806 980h0m24 0h0m12 0h0m8 0h0m72 0h0m18 0h0m7 0h0m8 0h0m49 0h0m16 0h0M805 981h0m12 0h0m17 0h0m18 0h0m1 0h0m16 0h0m2 0h0m78 0h0M833 982h0m16 0h0m44 0h0m71 0h0m36 0h0m21 0h0M812 983h0m22 0h0m13 0h0m5 0h0m2 0h0m7 0h0m29 0h0m16 0h0M813 984h0m11 0h0m5 0h0m13 0h0m35 0h0m5 0h0m13 0h0m24 0h0m16 0h0m13 0h0m16 0h0m17 0h0M823 985h0m29 0h0m11 0h0m13 0h0m65 0h0m38 0h0M807 986h0m37 0h0m40 0h0M830 987h0m10 0h0m5 0h0m75 0h0m88 0h0M803 988h0m6 0h0m57 0h0m9 0h0m55 0h0m7 0h0m22 0h0m34 0h0M830 989h0m14 0h0m1 0h0m25 0h0m17 0h0m3 0h0m11 0h0m63 0h0M826 990h0m37 0h0m4 0h0m9 0h0m7 0h0m7 0h0m45 0h0m16 0h0m3 0h0M820 991h0m2 0h0m48 0h0m121 0h0M805 992h0m50 0h0m54 0h0m28 0h0m62 0h0m8 0h0M817 993h0m32 0h0M835 994h0m8 0h0m7 0h0m8 0h0m34 0h0m6 0h0m97 0h0M832 995h0m47 0h0m76 0h0m63 0h0M872 996h0M828 997h0m53 0h0M842 998h0M816 999h0m16 0h0m106 0h0m14 0h0m38 0h0M831 1000h0M804 1001h0m126 0h0M835 1002h0M817 1003h0m14 0h0m142 0h0M813 1004h0m33 0h0m179 0h0M801 1005h0m5 0h0m3 0h0m9 0h0m9 0h0m134 0h0m36 0h0m26 0h0M822 1006h0m13 0h0m14 0h0m17 0h0m151 0h0m5 0h0M802 1007h0m9 0h0m12 0h0m47 0h0m8 0h0m35 0h0m29 0h0m17 0h0m17 0h0M806 1008h0m22 0h0m14 0h0m21 0h0m66 0h0m7 0h0M807 1009h0m43 0h0m16 0h0m50 0h0M821 1010h0m86 0h0m50 0h0m39 0h0M803 1011h0m1 0h0m24 0h0m15 0h0m30 0h0m22 0h0m35 0h0m10 0h0m39 0h0m5 0h0M815 1012h0m14 0h0m2 0h0m31 0h0m7 0h0m1 0h0m49 0h0m21 0h0m50 0h0m3 0h0m18 0h0m4 0h0M801 1013h0m8 0h0m6 0h0m68 0h0m64 0h0m9 0h0m19 0h0m1 0h0m28 0h0M810 1014h0m13 0h0m48 0h0m45 0h0m8 0h0m2 0h0m10 0h0m50 0h0m1 0h0M811 1015h0m21 0h0m31 0h0m160 0h0M815 1016h0m23 0h0m35 0h0m39 0h0m6 0h0m27 0h0m8 0h0m52 0h0M802 1017h0m24 0h0m38 0h0m56 0h0M806 1018h0m16 0h0m1 0h0m16 0h0m33 0h0m23 0h0m113 0h0M802 1019h0m8 0h0m28 0h0m6 0h0m126 0h0M802 1020h0m5 0h0m15 0h0m57 0h0m98 0h0m15 0h0m8 0h0m6 0h0M813 1021h0m23 0h0m18 0h0m3 0h0m14 0h0m37 0h0m6 0h0m77 0h0m13 0h0M812 1022h0m14 0h0m4 0h0m47 0h0m8 0h0m79 0h0m17 0h0M806 1023h0m13 0h0m6 0h0m19 0h0m20 0h0m55 0h0m27 0h0m69 0h0M807 1024h0m15 0h0m3 0h0m17 0h0m9 0h0m4 0h0m66 0h0m3 0h0m74 0h0M812 1025h0m8 0h0m18 0h0m67 0h0m39 0h0m1 0h0m12 0h0m4 0h0m7 0h0M803 1026h0m21 0h0m22 0h0m3 0h0m14 0h0m24 0h0m6 0h0M804 1027h0m6 0h0M834 1028h0m14 0h0m11 0h0m5 0h0m17 0h0m14 0h0m34 0h0m35 0h0m5 0h0m8 0h0m7 0h0m34 0h0M810 1029h0m6 0h0m37 0h0m11 0h0m17 0h0m13 0h0m80 0h0M814 1030h0m3 0h0m115 0h0m81 0h0M834 1031h0m6 0h0m1 0h0m145 0h0m19 0h0m4 0h0m10 0h0M803 1032h0m6 0h0m105 0h0M829 1033h0m1 0h0m2 0h0m54 0h0m19 0h0M840 1034h0m8 0h0m41 0h0M801 1035h0m23 0h0m4 0h0m1 0h0m49 0h0m39 0h0M810 1036h0m33 0h0m24 0h0M833 1037h0m19 0h0m10 0h0m34 0h0m2 0h0M819 1038h0m10 0h0m1 0h0m19 0h0m83 0h0m47 0h0m34 0h0M807 1039h0m72 0h0m6 0h0m92 0h0M832 1040h0m70 0h0m11 0h0m24 0h0m66 0h0M802 1041h0m3 0h0m5 0h0m60 0h0m75 0h0m71 0h0M887 1042h0m25 0h0m14 0h0m6 0h0m14 0h0m39 0h0m15 0h0m11 0h0M842 1043h0m38 0h0m38 0h0m24 0h0m53 0h0m19 0h0M810 1044h0m2 0h0m10 0h0M808 1045h0m67 0h0m128 0h0M802 1046h0m3 0h0m22 0h0m6 0h0m13 0h0m33 0h0m28 0h0m19 0h0M824 1047h0m14 0h0m16 0h0m24 0h0m17 0h0m112 0h0M820 1048h0m67 0h0m30 0h0m89 0h0M801 1049h0m6 0h0m14 0h0m17 0h0m21 0h0m18 0h0m55 0h0m83 0h0M819 1050h0m8 0h0m26 0h0m33 0h0m2 0h0m22 0h0m103 0h0m2 0h0M854 1051h0m45 0h0m17 0h0m55 0h0M802 1052h0m28 0h0m4 0h0m6 0h0m4 0h0m42 0h0m4 0h0m19 0h0M802 1053h0m42 0h0m10 0h0m24 0h0m75 0h0m24 0h0M812 1054h0m21 0h0m13 0h0m21 0h0m18 0h0m24 0h0m38 0h0m45 0h0M812 1055h0m17 0h0m11 0h0m22 0h0m11 0h0m81 0h0m32 0h0m13 0h0m17 0h0M806 1056h0m25 0h0m17 0h0m80 0h0m24 0h0m29 0h0m12 0h0M840 1057h0m1 0h0m13 0h0m3 0h0m50 0h0m8 0h0m71 0h0M819 1058h0m9 0h0m21 0h0m42 0h0m16 0h0m72 0h0m27 0h0M803 1059h0m50 0h0m54 0h0m105 0h0m1 0h0m10 0h0M809 1060h0m58 0h0m27 0h0M806 1061h0m2 0h0m4 0h0m44 0h0m38 0h0m27 0h0m45 0h0M819 1062h0m34 0h0m3 0h0m35 0h0m11 0h0m7 0h0m41 0h0m12 0h0m1 0h0M801 1063h0m16 0h0m5 0h0m36 0h0m5 0h0m16 0h0m16 0h0m119 0h0M811 1064h0m97 0h0m101 0h0M803 1065h0m12 0h0m4 0h0m11 0h0m36 0h0m17 0h0m13 0h0m109 0h0M802 1066h0m14 0h0m21 0h0m30 0h0m40 0h0m27 0h0m23 0h0m39 0h0M802 1067h0m10 0h0m9 0h0m32 0h0m22 0h0m5 0h0m15 0h0m61 0h0m16 0h0M811 1068h0m2 0h0m59 0h0m32 0h0m3 0h0m13 0h0m37 0h0m6 0h0m19 0h0M813 1069h0m67 0h0m43 0h0m2 0h0m41 0h0m12 0h0m24 0h0M802 1070h0m63 0h0m30 0h0M801 1071h0m2 0h0m31 0h0m80 0h0m27 0h0m20 0h0m16 0h0m3 0h0M804 1072h0m13 0h0m7 0h0m2 0h0m16 0h0m13 0h0m88 0h0m55 0h0M802 1073h0m1 0h0m12 0h0m20 0h0m27 0h0m62 0h0m13 0h0m28 0h0M877 1074h0m9 0h0m40 0h0m45 0h0m6 0h0M803 1075h0m13 0h0m7 0h0m81 0h0m28 0h0m70 0h0M830 1076h0m4 0h0m81 0h0m70 0h0M802 1077h0m7 0h0m6 0h0m18 0h0m14 0h0m11 0h0m63 0h0m70 0h0M806 1078h0m6 0h0m79 0h0m14 0h0m3 0h0m66 0h0m7 0h0m23 0h0m12 0h0M804 1079h0m118 0h0M820 1080h0m13 0h0m15 0h0m7 0h0m66 0h0m7 0h0m33 0h0m29 0h0M819 1081h0m11 0h0m40 0h0m38 0h0m28 0h0m2 0h0m34 0h0m40 0h0M804 1082h0m62 0h0M822 1083h0m9 0h0m11 0h0m54 0h0m25 0h0m32 0h0m59 0h0M839 1084h0m16 0h0m54 0h0m12 0h0m2 0h0m16 0h0M825 1085h0m70 0h0m16 0h0M805 1086h0m9 0h0m14 0h0m1 0h0m1 0h0m9 0h0m3 0h0m39 0h0m60 0h0m40 0h0m16 0h0M806 1087h0m139 0h0m37 0h0m33 0h0M843 1088h0m26 0h0m82 0h0M803 1089h0m13 0h0m8 0h0m6 0h0m13 0h0m60 0h0m24 0h0m90 0h0m6 0h0M809 1090h0m1 0h0m38 0h0m4 0h0m1 0h0m9 0h0m10 0h0m6 0h0m4 0h0M805 1091h0m69 0h0M819 1092h0m12 0h0m56 0h0m2 0h0m43 0h0m59 0h0m13 0h0m2 0h0M820 1093h0m60 0h0m101 0h0m42 0h0M813 1094h0m67 0h0m26 0h0m90 0h0M807 1095h0m59 0h0m124 0h0m29 0h0M823 1096h0m1 0h0m15 0h0M805 1097h0m21 0h0m23 0h0M824 1098h0m33 0h0m2 0h0m1 0h0m44 0h0M801 1099h0m122 0h0M837 1100h0m11 0h0m2 0h0m16 0h0m83 0h0m32 0h0M803 1101h0m11 0h0m8 0h0m8 0h0m67 0h0m47 0h0m11 0h0m45 0h0m4 0h0m18 0h0M807 1102h0m2 0h0m11 0h0m35 0h0m34 0h0m45 0h0M820 1103h0m180 0h0M857 1104h0m119 0h0M802 1105h0m10 0h0m79 0h0M810 1106h0m55 0h0m38 0h0m43 0h0m43 0h0m2 0h0M801 1107h0m2 0h0m2 0h0m34 0h0m26 0h0m115 0h0M803 1108h0m23 0h0m11 0h0M822 1109h0m4 0h0m13 0h0M806 1110h0m1 0h0m6 0h0m84 0h0M824 1111h0m4 0h0m22 0h0m109 0h0M823 1112h0m43 0h0m5 0h0m51 0h0M803 1113h0m3 0h0m1 0h0m4 0h0m46 0h0m57 0h0M834 1114h0m72 0h0m118 0h0M802 1115h0m52 0h0m46 0h0M853 1116h0m2 0h0m74 0h0M810 1117h0m17 0h0m42 0h0m3 0h0M817 1118h0m66 0h0m83 0h0M803 1119h0m31 0h0m12 0h0m171 0h0M819 1120h0M845 1121h0M837 1122h0M832 1123h0m16 0h0m38 0h0m98 0h0M892 1124h0m28 0h0M808 1125h0m1 0h0m34 0h0m124 0h0M822 1126h0m17 0h0m123 0h0M824 1127h0m62 0h0m5 0h0m7 0h0M805 1128h0m36 0h0m9 0h0m104 0h0m6 0h0M806 1129h0m26 0h0m175 0h0M846 1130h0"/>
<path stroke-width="5.4" stroke-linecap="round" fill="none" stroke="#0d9802" d="M1071 864h0m7 0h0m55 0h0m72 0h0M1060 865h0m27 0h0m50 0h0m8 0h0m21 0h0m18 0h0M1031 866h0m24 0h0m20 0h0m50 0h0m26 0h0m38 0h0M1046 867h0m12 0h0m71 0h0m59 0h0m26 0h0M1097 868h0m49 0h0m13 0h0m23 0h0m10 0h0M1027 869h0m6 0h0m25 0h0m26 0h0m30 0h0m9 0h0m20 0h0m20 0h0m30 0h0M1070 870h0m69 0h0m35 0h0m7 0h0m41 0h0m26 0h0M1044 871h0m2 0h0m53 0h0m15 0h0m9 0h0m37 0h0m4 0h0m41 0h0m16 0h0M1028 872h0m51 0h0m5 0h0m14 0h0m7 0h0m27 0h0m29 0h0m50 0h0m13 0h0M1031 873h0m108 0h0m19 0h0m9 0h0m80 0h0M1077 874h0m3 0h0m82 0h0m66 0h0m29 0h0M1036 875h0m83 0h0m123 0h0m12 0h0M1047 876h0m56 0h0m4 0h0m22 0h0m71 0h0m19 0h0m25 0h0M1105 877h0m130 0h0M1041 878h0m78 0h0m3 0h0m10 0h0m27 0h0m47 0h0M1050 879h0m18 0h0m13 0h0m28 0h0m145 0h0M1054 880h0m8 0h0m41 0h0m31 0h0m30 0h0m23 0h0M1054 881h0m81 0h0m3 0h0m5 0h0m10 0h0m52 0h0M1053 882h0m45 0h0m3 0h0m5 0h0m32 0h0m1 0h0m14 0h0m34 0h0m52 0h0m2 0h0M1029 883h0m102 0h0m30 0h0m6 0h0m36 0h0m3 0h0m8 0h0m5 0h0m10 0h0M1041 884h0m21 0h0m9 0h0m34 0h0m55 0h0m7 0h0m67 0h0m10 0h0M1066 885h0m9 0h0m8 0h0m11 0h0m28 0h0m7 0h0m19 0h0m10 0h0M1066 886h0m1 0h0m4 0h0m16 0h0m17 0h0m3 0h0m7 0h0m33 0h0m18 0h0m42 0h0M1040 887h0m28 0h0m56 0h0m10 0h0M1114 888h0m21 0h0m13 0h0m62 0h0m32 0h0m3 0h0M1038 889h0m9 0h0m39 0h0m18 0h0m13 0h0m12 0h0m18 0h0m58 0h0m37 0h0m10 0h0M1026 890h0m5 0h0m29 0h0m5 0h0m112 0h0m72 0h0M1059 891h0m34 0h0m6 0h0m27 0h0M1227 892h0m20 0h0M1039 893h0m54 0h0m102 0h0m12 0h0M1104 894h0m38 0h0m33 0h0m8 0h0m18 0h0m31 0h0m14 0h0M1027 895h0m33 0h0m25 0h0m3 0h0m15 0h0m105 0h0m15 0h0M1059 896h0m77 0h0m96 0h0m6 0h0M1052 897h0m47 0h0m54 0h0m24 0h0m32 0h0M1027 898h0m34 0h0m40 0h0m60 0h0m22 0h0M1029 899h0m50 0h0m26 0h0m38 0h0m25 0h0m56 0h0m13 0h0m20 0h0M1054 900h0m38 0h0m15 0h0m43 0h0m22 0h0m19 0h0m14 0h0m4 0h0m46 0h0m1 0h0M1037 901h0m25 0h0m61 0h0m3 0h0m71 0h0m35 0h0m19 0h0M1093 902h0m14 0h0m39 0h0m12 0h0m30 0h0m43 0h0m4 0h0m19 0h0M1061 903h0m81 0h0m54 0h0m22 0h0m13 0h0M1066 904h0m3 0h0m24 0h0m52 0h0m10 0h0m18 0h0m53 0h0m26 0h0m3 0h0M1069 905h0m23 0h0m35 0h0m18 0h0m20 0h0M1050 906h0m24 0h0m2 0h0m60 0h0m9 0h0m15 0h0m8 0h0m77 0h0M1039 907h0m110 0h0m68 0h0m26 0h0M1089 908h0m43 0h0m8 0h0m48 0h0m21 0h0m4 0h0m37 0h0M1094 909h0m4 0h0m48 0h0m65 0h0m40 0h0m4 0h0M1026 910h0m110 0h0m42 0h0m31 0h0m11 0h0M1046 911h0m43 0h0m72 0h0m81 0h0M1089 912h0m81 0h0m9 0h0m14 0h0M1046 913h0m39 0h0m56 0h0m24 0h0M1034 914h0M1027 915h0m19 0h0m5 0h0m38 0h0m1 0h0m80 0h0m56 0h0M1039 916h0m17 0h0m14 0h0m14 0h0m56 0h0m29 0h0m52 0h0m15 0h0m6 0h0M1039 917h0m85 0h0m6 0h0m46 0h0m10 0h0m41 0h0M1026 918h0m4 0h0m17 0h0m42 0h0m1 0h0m111 0h0m48 0h0M1049 919h0m184 0h0M1037 920h0m2 0h0m5 0h0m6 0h0m111 0h0m34 0h0m43 0h0M1097 921h0m23 0h0m49 0h0m17 0h0M1156 922h0m33 0h0m7 0h0m1 0h0m45 0h0M1074 923h0m30 0h0m45 0h0m21 0h0m75 0h0M1122 924h0m73 0h0m2 0h0m5 0h0M1070 925h0m47 0h0m31 0h0M1042 926h0m87 0h0M1027 927h0m53 0h0m27 0h0m3 0h0m75 0h0m53 0h0M1195 928h0m36 0h0M1060 929h0m67 0h0m29 0h0m48 0h0m27 0h0M1129 930h0m12 0h0m16 0h0m22 0h0m13 0h0m19 0h0m23 0h0M1100 931h0m18 0h0m13 0h0m1 0h0m9 0h0m51 0h0m1 0h0m16 0h0m23 0h0M1028 932h0m119 0h0m18 0h0m17 0h0m5 0h0m59 0h0M1080 933h0m145 0h0M1055 934h0m26 0h0m7 0h0m19 0h0m48 0h0m63 0h0m34 0h0M1028 935h0m18 0h0m5 0h0m6 0h0m1 0h0m4 0h0m6 0h0m21 0h0m9 0h0m4 0h0m13 0h0m2 0h0m14 0h0m64 0h0m49 0h0M1131 936h0m2 0h0m7 0h0m25 0h0m39 0h0m18 0h0m3 0h0M1026 937h0m43 0h0m18 0h0m5 0h0m119 0h0m32 0h0m11 0h0M1028 938h0m7 0h0m4 0h0m34 0h0m18 0h0m17 0h0m17 0h0m37 0h0m8 0h0m22 0h0m2 0h0m13 0h0m7 0h0m16 0h0m5 0h0M1044 939h0m150 0h0m31 0h0m24 0h0M1046 940h0m42 0h0m34 0h0m36 0h0M1050 941h0m86 0h0m13 0h0m14 0h0m61 0h0M1029 942h0m9 0h0m17 0h0m125 0h0m34 0h0m4 0h0m32 0h0M1039 943h0m11 0h0m34 0h0m39 0h0m78 0h0m4 0h0M1072 944h0m94 0h0m10 0h0m8 0h0M1035 945h0m4 0h0m24 0h0m5 0h0m47 0h0m6 0h0m55 0h0m62 0h0M1039 946h0m21 0h0m22 0h0m129 0h0m33 0h0M1051 947h0m45 0h0m29 0h0m23 0h0m1 0h0m47 0h0M1091 948h0m57 0h0m25 0h0m37 0h0M1055 949h0m29 0h0m71 0h0m5 0h0m64 0h0M1051 950h0m16 0h0m6 0h0m13 0h0m55 0h0m21 0h0M1067 951h0m66 0h0m30 0h0m10 0h0m12 0h0m62 0h0M1053 952h0m8 0h0m9 0h0m9 0h0m6 0h0m34 0h0m35 0h0m72 0h0m9 0h0m22 0h0M1028 953h0m59 0h0m38 0h0m7 0h0m5 0h0m59 0h0m14 0h0m17 0h0m6 0h0m11 0h0M1039 954h0m44 0h0m33 0h0m25 0h0m66 0h0m5 0h0m5 0h0m8 0h0m5 0h0m12 0h0M1154 955h0m25 0h0m23 0h0m24 0h0m7 0h0m11 0h0m6 0h0M1035 956h0m14 0h0m30 0h0m132 0h0M1095 957h0m13 0h0m25 0h0m86 0h0M1169 958h0m9 0h0m2 0h0m16 0h0M1175 959h0m50 0h0m4 0h0M1051 960h0m59 0h0m97 0h0m22 0h0M1035 961h0m65 0h0m19 0h0m65 0h0M1078 962h0m26 0h0m8 0h0m15 0h0m20 0h0m2 0h0m12 0h0m20 0h0m4 0h0m12 0h0M1028 963h0m21 0h0m12 0h0m84 0h0m11 0h0m18 0h0m35 0h0m30 0h0M1062 964h0m22 0h0m1 0h0m20 0h0m17 0h0m13 0h0m2 0h0m52 0h0M1103 965h0m12 0h0m37 0h0m29 0h0m53 0h0M1057 966h0m24 0h0m5 0h0m24 0h0m51 0h0m62 0h0m13 0h0M1057 967h0m29 0h0m2 0h0m29 0h0m12 0h0m43 0h0m31 0h0m25 0h0m12 0h0M1066 968h0m90 0h0m1 0h0m43 0h0m26 0h0M1026 969h0m9 0h0m121 0h0m22 0h0m54 0h0M1084 970h0m40 0h0m53 0h0m40 0h0M1117 971h0m8 0h0m75 0h0M1084 972h0m45 0h0M1082 973h0m26 0h0m47 0h0m34 0h0m26 0h0M1090 974h0m36 0h0m7 0h0m7 0h0m45 0h0m71 0h0M1163 975h0m55 0h0M1092 976h0m21 0h0m8 0h0m6 0h0m11 0h0m26 0h0m35 0h0m3 0h0m29 0h0m11 0h0M1147 977h0m101 0h0M1038 978h0m97 0h0m18 0h0m21 0h0m28 0h0m18 0h0M1045 979h0m30 0h0m12 0h0m163 0h0M1096 980h0m2 0h0m16 0h0m36 0h0m50 0h0M1065 981h0m160 0h0M1037 982h0m7 0h0m68 0h0m3 0h0m43 0h0m12 0h0m61 0h0m16 0h0m3 0h0M1036 983h0m97 0h0m17 0h0m78 0h0m13 0h0M1142 984h0m49 0h0M1097 986h0m40 0h0m18 0h0m29 0h0m27 0h0M1030 987h0m174 0h0M1072 988h0m34 0h0m127 0h0M1085 989h0m139 0h0M1157 990h0m33 0h0m10 0h0M1053 992h0m108 0h0m34 0h0M1125 993h0m25 0h0M1059 994h0m126 0h0M1111 995h0M1104 996h0M1247 997h0M1028 998h0m109 0h0m7 0h0m29 0h0m3 0h0M1120 999h0m44 0h0M1034 1000h0m190 0h0M1078 1001h0m51 0h0m52 0h0m34 0h0m28 0h0M1093 1002h0m3 0h0m67 0h0m9 0h0M1066 1003h0m22 0h0m27 0h0m124 0h0M1111 1004h0m22 0h0M1030 1005h0m15 0h0m90 0h0m121 0h0M1062 1006h0m38 0h0m20 0h0M1029 1007h0m76 0h0m4 0h0m41 0h0m14 0h0m15 0h0m17 0h0M1121 1008h0m12 0h0M1049 1009h0m58 0h0m49 0h0m26 0h0m27 0h0M1088 1010h0m55 0h0m50 0h0M1101 1011h0m6 0h0m7 0h0m4 0h0m106 0h0M1058 1012h0m8 0h0m107 0h0M1095 1013h0m46 0h0m27 0h0M1060 1014h0m26 0h0m9 0h0m24 0h0m85 0h0m4 0h0M1065 1015h0m4 0h0m50 0h0m64 0h0m7 0h0m25 0h0m17 0h0M1230 1016h0M1036 1017h0m217 0h0M1040 1018h0m108 0h0m19 0h0m50 0h0M1058 1019h0m43 0h0m9 0h0m18 0h0m36 0h0m15 0h0m36 0h0m27 0h0m7 0h0m8 0h0M1113 1020h0m13 0h0m94 0h0M1074 1021h0m41 0h0m1 0h0m123 0h0m7 0h0M1070 1022h0m37 0h0m16 0h0m12 0h0m2 0h0m5 0h0m90 0h0m1 0h0M1141 1023h0m59 0h0M1026 1024h0m86 0h0m94 0h0M1125 1025h0m72 0h0M1206 1026h0m34 0h0M1083 1027h0m33 0h0m7 0h0m3 0h0M1095 1028h0m77 0h0m25 0h0m4 0h0m26 0h0M1137 1029h0M1069 1030h0m107 0h0m18 0h0m39 0h0m15 0h0M1162 1031h0m26 0h0m30 0h0M1170 1032h0M1057 1033h0m11 0h0m111 0h0m75 0h0M1155 1035h0m18 0h0M1090 1036h0m12 0h0m26 0h0m39 0h0m20 0h0M1036 1037h0m39 0h0m58 0h0m13 0h0m16 0h0M1083 1038h0m40 0h0m33 0h0m67 0h0M1027 1039h0m27 0h0m65 0h0m12 0h0m113 0h0M1026 1040h0m140 0h0m69 0h0M1034 1041h0m93 0h0m27 0h0m50 0h0M1042 1042h0m27 0h0m42 0h0M1045 1043h0m8 0h0m58 0h0m53 0h0M1040 1044h0m30 0h0m1 0h0m104 0h0m65 0h0M1070 1045h0m24 0h0m77 0h0m21 0h0M1128 1046h0m54 0h0m65 0h0M1066 1047h0m81 0h0m68 0h0m9 0h0M1047 1048h0m145 0h0m35 0h0M1038 1049h0m12 0h0m11 0h0m125 0h0m39 0h0M1106 1050h0m38 0h0m44 0h0m34 0h0m4 0h0m11 0h0M1088 1051h0m20 0h0m19 0h0M1137 1052h0m12 0h0m47 0h0m9 0h0m3 0h0m16 0h0M1044 1053h0m11 0h0m20 0h0m14 0h0m118 0h0m6 0h0m1 0h0m42 0h0M1079 1054h0m91 0h0m73 0h0M1064 1055h0m47 0h0m118 0h0M1086 1056h0m150 0h0M1028 1057h0m31 0h0m28 0h0m5 0h0m10 0h0m78 0h0m66 0h0M1121 1058h0m4 0h0m113 0h0M1207 1059h0M1110 1060h0m75 0h0m42 0h0M1073 1061h0m110 0h0m7 0h0m30 0h0M1044 1062h0m66 0h0m49 0h0m22 0h0m46 0h0M1129 1063h0m75 0h0m10 0h0M1050 1064h0m82 0h0m83 0h0M1172 1065h0m78 0h0M1123 1066h0m3 0h0M1058 1067h0m4 0h0m11 0h0m98 0h0M1076 1068h0m6 0h0m132 0h0m39 0h0M1031 1069h0m31 0h0m14 0h0m17 0h0m74 0h0m31 0h0m1 0h0m9 0h0m26 0h0m8 0h0M1047 1070h0m8 0h0m68 0h0m42 0h0m22 0h0M1099 1071h0m26 0h0M1080 1072h0m2 0h0m20 0h0m59 0h0m33 0h0m37 0h0M1119 1073h0M1095 1074h0m43 0h0M1039 1075h0m202 0h0m16 0h0M1043 1076h0m99 0h0M1030 1077h0m89 0h0m5 0h0m87 0h0M1086 1078h0m45 0h0m8 0h0m43 0h0m38 0h0M1065 1079h0m3 0h0m85 0h0m24 0h0M1164 1080h0M1089 1081h0m145 0h0M1101 1082h0m1 0h0m61 0h0M1044 1083h0m15 0h0m23 0h0m88 0h0m21 0h0m28 0h0m6 0h0M1094 1084h0m5 0h0m73 0h0M1031 1085h0M1071 1086h0m118 0h0M1029 1087h0m85 0h0m40 0h0m72 0h0M1068 1088h0M1170 1089h0m15 0h0M1130 1090h0m66 0h0m15 0h0m38 0h0M1091 1091h0m78 0h0M1168 1092h0m44 0h0M1050 1093h0m137 0h0M1036 1094h0m38 0h0m71 0h0M1054 1095h0m81 0h0m8 0h0m45 0h0M1223 1096h0M1210 1097h0M1059 1098h0m36 0h0m48 0h0m56 0h0M1031 1099h0m128 0h0M1157 1100h0m4 0h0m29 0h0m6 0h0M1102 1102h0m53 0h0m13 0h0m39 0h0M1075 1103h0m11 0h0m166 0h0M1129 1104h0M1228 1105h0M1072 1106h0m17 0h0m43 0h0M1083 1107h0m55 0h0m70 0h0M1113 1109h0M1091 1110h0m90 0h0M1076 1111h0m65 0h0M1028 1112h0m12 0h0M1161 1113h0M1083 1114h0m143 0h0M1090 1115h0M1071 1116h0m58 0h0M1061 1117h0m150 0h0m3 0h0M1037 1118h0m149 0h0M1031 1120h0m36 0h0m20 0h0m55 0h0m52 0h0M1154 1121h0m82 0h0M1256 1123h0M1037 1125h0M1160 1126h0m12 0h0m25 0h0M1087 1127h0M1188 1129h0m4 0h0"/>
<defs><clipPath id="cRB"><path d="M426.4 1367.3C428.9 1364.6 436.1 1356.1 441.2 1351.3C446.3 1346.5 451.9 1341.0 457.2 1338.2C462.5 1335.4 467.5 1333.9 473.1 1334.3C478.7 1334.7 484.9 1337.7 490.8 1340.7C496.7 1343.7 502.6 1349.6 508.5 1352.4C514.4 1355.2 519.7 1356.1 526.2 1357.3C532.7 1358.5 540.3 1358.1 547.4 1359.5C554.5 1360.9 562.2 1363.4 568.7 1365.5C575.2 1367.6 580.5 1370.4 586.4 1371.9C592.3 1373.4 598.8 1374.8 604.1 1374.3C609.4 1373.8 613.5 1372.5 618.2 1369.0C622.9 1365.5 627.7 1359.9 632.4 1353.1C637.1 1346.3 642.0 1337.6 646.6 1328.3C651.2 1319.0 655.4 1307.6 660.0 1297.4C664.6 1287.2 669.5 1276.2 674.2 1267.3C678.9 1258.4 683.6 1250.3 688.3 1244.3C693.0 1238.3 698.4 1233.9 702.5 1231.2C706.6 1228.5 709.6 1228.1 713.1 1228.3C716.6 1228.5 719.9 1229.0 723.7 1232.6C727.5 1236.1 732.0 1242.0 736.1 1249.6C740.2 1257.1 744.1 1266.7 748.5 1277.9C752.9 1289.1 758.0 1303.8 762.7 1316.8C767.4 1329.8 772.1 1343.1 776.8 1355.8C781.5 1368.5 786.5 1382.2 791.0 1392.9C795.5 1403.6 799.5 1410.8 803.7 1420.0C808.0 1429.2 812.0 1436.8 816.5 1448.0C821.0 1459.2 826.4 1474.8 831.0 1487.3C835.6 1499.8 838.8 1512.1 843.9 1522.7C849.0 1533.3 855.7 1543.3 861.6 1551.0C867.5 1558.7 873.4 1564.4 879.3 1568.7C885.2 1573.0 891.7 1575.3 897.0 1576.8C902.3 1578.3 906.5 1578.5 911.2 1577.5C915.9 1576.5 920.6 1574.0 925.3 1570.5C930.0 1567.0 934.8 1561.9 939.5 1556.3C944.2 1550.7 948.9 1543.3 953.6 1536.8C958.3 1530.3 963.1 1524.2 967.8 1517.4C972.5 1510.6 977.3 1502.9 982.0 1496.1C986.7 1489.3 991.1 1482.5 996.2 1476.6C1001.3 1470.7 1007.0 1464.7 1012.4 1460.5C1017.8 1456.3 1023.2 1453.5 1028.6 1451.6C1034.0 1449.7 1039.3 1449.3 1044.7 1449.1C1050.1 1448.9 1055.5 1450.4 1060.9 1450.3C1066.3 1450.2 1071.7 1450.0 1077.1 1448.5C1082.5 1447.0 1088.1 1443.6 1093.3 1441.0C1098.5 1438.4 1101.4 1437.1 1108.0 1433.0C1114.6 1428.9 1124.2 1423.7 1132.8 1416.5C1141.3 1409.3 1151.1 1398.5 1159.3 1390.0C1167.5 1381.5 1175.1 1373.5 1182.1 1365.3C1189.0 1357.1 1194.7 1350.2 1201.0 1340.7C1207.3 1331.2 1214.3 1319.8 1220.0 1308.4C1225.7 1297.0 1230.5 1285.4 1235.2 1272.4C1239.9 1259.5 1244.3 1245.9 1248.4 1230.7C1252.5 1215.5 1258.1 1189.6 1260.0 1181.4L1260.0 1359.6C1257.1 1362.8 1248.7 1373.5 1242.7 1378.6C1236.7 1383.7 1230.1 1387.0 1223.8 1390.0C1217.5 1393.0 1210.5 1393.8 1204.8 1396.8C1199.1 1399.8 1194.6 1403.1 1189.6 1408.0C1184.5 1412.9 1179.8 1419.8 1174.5 1426.0C1169.2 1432.2 1163.5 1439.3 1158.0 1445.0C1152.5 1450.7 1147.2 1454.7 1141.8 1460.0C1136.4 1465.3 1131.1 1471.1 1125.7 1476.6C1120.3 1482.1 1114.9 1487.7 1109.5 1492.8C1104.1 1497.9 1098.7 1502.6 1093.3 1507.0C1087.9 1511.4 1082.5 1515.5 1077.1 1519.1C1071.7 1522.7 1066.3 1525.8 1060.9 1528.4C1055.5 1531.0 1050.1 1532.7 1044.7 1534.5C1039.3 1536.3 1034.0 1537.2 1028.6 1539.4C1023.2 1541.6 1017.8 1544.4 1012.4 1547.4C1007.0 1550.4 1000.7 1554.6 996.2 1557.6C991.7 1560.5 990.2 1562.7 985.5 1565.1C980.8 1567.5 973.7 1569.5 967.8 1572.2C961.9 1574.9 956.0 1577.5 950.1 1581.1C944.2 1584.6 938.3 1589.7 932.4 1593.5C926.5 1597.3 920.6 1601.6 914.7 1604.1C908.8 1606.6 902.9 1608.0 897.0 1608.3C891.1 1608.6 884.6 1607.9 879.3 1605.9C874.0 1603.9 870.4 1601.5 865.1 1596.5C859.8 1591.5 853.3 1583.9 847.4 1576.0C841.5 1568.1 835.6 1558.8 829.7 1549.0C823.8 1539.2 817.3 1526.8 812.0 1517.0C806.7 1507.2 802.2 1496.7 798.0 1490.0C793.8 1483.3 790.7 1481.3 787.0 1477.0C783.3 1472.7 780.3 1469.5 775.9 1464.2C771.5 1458.9 765.8 1451.7 760.7 1445.2C755.6 1438.8 750.6 1432.1 745.5 1425.5C740.4 1418.9 735.3 1411.4 730.3 1405.8C725.2 1400.2 720.2 1395.0 715.2 1392.1C710.2 1389.2 703.9 1388.3 700.0 1388.3C696.1 1388.3 695.0 1389.6 692.0 1392.0C689.0 1394.4 686.0 1398.6 682.0 1402.7C678.0 1406.8 672.5 1411.8 667.8 1416.8C663.1 1421.8 658.3 1428.4 653.6 1432.8C648.9 1437.2 644.8 1440.5 639.5 1443.4C634.2 1446.4 627.7 1449.3 621.8 1450.5C615.9 1451.7 610.0 1450.9 604.1 1450.5C598.2 1450.1 592.3 1449.1 586.4 1448.0C580.5 1446.9 575.2 1445.6 568.7 1444.1C562.2 1442.6 554.5 1440.4 547.4 1439.1C540.3 1437.8 532.7 1437.3 526.2 1436.3C519.7 1435.2 514.4 1434.8 508.5 1432.8C502.6 1430.8 496.7 1426.7 490.8 1424.6C484.9 1422.5 478.7 1420.5 473.1 1420.4C467.5 1420.3 462.5 1421.6 457.2 1423.9C451.9 1426.2 446.3 1431.2 441.2 1434.5C436.1 1437.8 428.9 1441.9 426.4 1443.4Z"/></clipPath><clipPath id="cOut"><path d="M0 1150H800.2V1700H0ZM1025.5 1150H1300V1700H1025.5Z"/></clipPath><clipPath id="cIn"><rect x="800.2" y="1150" width="225.3" height="550"/></clipPath></defs>
<g clip-path="url(#cOut)">
<path d="M426.4 1367.3C428.9 1367.4 435.8 1367.4 441.2 1368.0C446.6 1368.6 453.0 1369.9 458.9 1370.8C464.8 1371.7 470.7 1372.9 476.6 1373.6C482.5 1374.3 488.4 1374.9 494.3 1375.0C500.2 1375.1 506.1 1373.8 512.0 1374.3C517.9 1374.8 523.8 1376.6 529.7 1377.9C535.6 1379.2 541.5 1380.9 547.4 1382.1C553.3 1383.3 559.2 1385.1 565.1 1385.0C571.0 1384.9 576.9 1382.7 582.8 1381.4C588.7 1380.2 594.6 1379.3 600.5 1377.5C606.4 1375.7 612.9 1374.0 618.2 1370.5C623.5 1367.0 627.7 1361.6 632.4 1356.6C637.1 1351.6 642.0 1347.1 646.6 1340.7C651.2 1334.3 655.4 1327.3 660.0 1318.0C664.6 1308.7 669.5 1294.0 674.2 1285.0C678.9 1276.0 683.6 1269.6 688.3 1263.7C693.0 1257.8 698.1 1252.5 702.5 1249.6C706.9 1246.6 711.1 1245.7 714.9 1246.0C718.7 1246.3 722.0 1247.8 725.5 1251.3C729.0 1254.8 732.3 1259.6 736.1 1267.3C739.9 1275.0 744.1 1285.6 748.5 1297.4C752.9 1309.2 758.0 1324.0 762.7 1338.1C767.4 1352.2 772.6 1369.7 776.8 1382.0C781.0 1394.3 784.1 1400.5 788.0 1412.0C791.9 1423.5 796.0 1438.5 800.0 1451.0C804.0 1463.5 807.0 1475.0 812.0 1487.0C817.0 1499.0 824.1 1511.8 830.0 1522.7C835.9 1533.7 841.5 1543.5 847.4 1552.7C853.2 1561.9 859.8 1570.6 865.1 1578.0C870.4 1585.4 874.0 1591.7 879.3 1597.0C884.6 1602.3 890.5 1607.3 897.0 1610.1C903.5 1612.9 911.1 1613.0 918.2 1614.0C925.3 1615.0 931.2 1615.5 939.5 1616.0C947.8 1616.5 957.7 1617.4 967.8 1617.0C977.9 1616.6 989.9 1615.0 1000.0 1613.5C1010.1 1612.0 1019.8 1609.4 1028.6 1607.8C1037.4 1606.2 1044.7 1604.9 1052.8 1603.8C1060.9 1602.7 1069.0 1602.0 1077.1 1601.0C1085.2 1600.0 1093.3 1598.8 1101.4 1598.0C1109.5 1597.2 1118.3 1597.1 1125.7 1596.0C1133.1 1594.9 1139.2 1593.3 1145.9 1591.5C1152.6 1589.7 1159.3 1586.7 1166.1 1585.0C1172.8 1583.3 1179.7 1582.0 1186.4 1581.5C1193.2 1581.0 1199.9 1581.6 1206.6 1582.0C1213.3 1582.4 1220.7 1583.8 1226.8 1584.0C1232.9 1584.2 1237.5 1583.9 1243.0 1583.5C1248.5 1583.1 1257.2 1581.8 1260.0 1581.5L1260.0 1617.6C1257.2 1618.2 1248.5 1620.1 1243.0 1621.0C1237.5 1621.9 1232.9 1622.8 1226.8 1623.0C1220.7 1623.2 1213.3 1622.6 1206.6 1622.5C1199.9 1622.4 1193.2 1622.2 1186.4 1622.5C1179.7 1622.8 1172.8 1623.2 1166.1 1624.0C1159.3 1624.8 1152.6 1626.8 1145.9 1627.5C1139.2 1628.2 1133.1 1628.3 1125.7 1628.5C1118.3 1628.7 1109.5 1628.2 1101.4 1628.4C1093.3 1628.7 1085.2 1629.2 1077.1 1630.0C1069.0 1630.8 1060.9 1631.9 1052.8 1633.0C1044.7 1634.1 1036.7 1635.3 1028.6 1636.5C1020.5 1637.7 1012.1 1639.0 1004.3 1640.0C996.5 1641.0 989.3 1642.2 982.0 1642.5C974.7 1642.8 967.8 1642.2 960.7 1642.0C953.6 1641.8 946.6 1641.4 939.5 1641.0C932.4 1640.6 924.7 1640.2 918.2 1639.5C911.7 1638.8 906.4 1638.1 900.5 1636.6C894.6 1635.1 888.7 1633.4 882.8 1630.6C876.9 1627.8 871.0 1624.1 865.1 1620.0C859.2 1615.9 853.3 1611.5 847.4 1605.9C841.5 1600.3 835.6 1593.8 829.7 1586.4C823.8 1579.0 817.9 1570.8 812.0 1561.6C806.1 1552.4 799.4 1540.9 794.3 1531.0C789.2 1521.1 785.8 1511.3 781.5 1502.0C777.2 1492.7 773.0 1484.0 768.3 1475.0C763.6 1466.0 758.2 1456.8 753.1 1448.3C748.0 1439.8 743.0 1431.3 737.9 1424.0C732.8 1416.7 727.6 1409.1 722.8 1404.3C718.0 1399.5 712.9 1396.8 709.1 1395.2C705.3 1393.6 703.2 1393.8 700.0 1394.4C696.8 1395.0 693.0 1397.3 690.0 1399.0C687.0 1400.7 685.7 1401.1 682.0 1404.4C678.3 1407.7 672.5 1413.9 667.8 1418.6C663.1 1423.3 658.9 1428.3 653.6 1432.8C648.3 1437.3 641.8 1442.3 635.9 1445.8C630.0 1449.3 624.1 1452.0 618.2 1454.0C612.3 1456.0 606.4 1456.7 600.5 1457.5C594.6 1458.3 588.7 1458.7 582.8 1458.6C576.9 1458.5 571.0 1457.8 565.1 1456.8C559.2 1455.8 553.3 1454.4 547.4 1452.9C541.5 1451.4 535.6 1449.3 529.7 1448.0C523.8 1446.7 517.9 1445.3 512.0 1445.1C506.1 1444.9 500.2 1446.4 494.3 1446.9C488.4 1447.4 482.5 1448.3 476.6 1448.0C470.7 1447.7 464.8 1446.3 458.9 1445.1C453.0 1443.9 446.6 1442.1 441.2 1440.9C435.8 1439.7 428.9 1438.6 426.4 1438.1Z" fill="rgba(53,191,5,0.42)"/>
<path d="M426.4 1367.3C428.9 1364.6 436.1 1356.1 441.2 1351.3C446.3 1346.5 451.9 1341.0 457.2 1338.2C462.5 1335.4 467.5 1333.9 473.1 1334.3C478.7 1334.7 484.9 1337.7 490.8 1340.7C496.7 1343.7 502.6 1349.6 508.5 1352.4C514.4 1355.2 519.7 1356.1 526.2 1357.3C532.7 1358.5 540.3 1358.1 547.4 1359.5C554.5 1360.9 562.2 1363.4 568.7 1365.5C575.2 1367.6 580.5 1370.4 586.4 1371.9C592.3 1373.4 598.8 1374.8 604.1 1374.3C609.4 1373.8 613.5 1372.5 618.2 1369.0C622.9 1365.5 627.7 1359.9 632.4 1353.1C637.1 1346.3 642.0 1337.6 646.6 1328.3C651.2 1319.0 655.4 1307.6 660.0 1297.4C664.6 1287.2 669.5 1276.2 674.2 1267.3C678.9 1258.4 683.6 1250.3 688.3 1244.3C693.0 1238.3 698.4 1233.9 702.5 1231.2C706.6 1228.5 709.6 1228.1 713.1 1228.3C716.6 1228.5 719.9 1229.0 723.7 1232.6C727.5 1236.1 732.0 1242.0 736.1 1249.6C740.2 1257.1 744.1 1266.7 748.5 1277.9C752.9 1289.1 758.0 1303.8 762.7 1316.8C767.4 1329.8 772.1 1343.1 776.8 1355.8C781.5 1368.5 786.5 1382.2 791.0 1392.9C795.5 1403.6 799.5 1410.8 803.7 1420.0C808.0 1429.2 812.0 1436.8 816.5 1448.0C821.0 1459.2 826.4 1474.8 831.0 1487.3C835.6 1499.8 838.8 1512.1 843.9 1522.7C849.0 1533.3 855.7 1543.3 861.6 1551.0C867.5 1558.7 873.4 1564.4 879.3 1568.7C885.2 1573.0 891.7 1575.3 897.0 1576.8C902.3 1578.3 906.5 1578.5 911.2 1577.5C915.9 1576.5 920.6 1574.0 925.3 1570.5C930.0 1567.0 934.8 1561.9 939.5 1556.3C944.2 1550.7 948.9 1543.3 953.6 1536.8C958.3 1530.3 963.1 1524.2 967.8 1517.4C972.5 1510.6 977.3 1502.9 982.0 1496.1C986.7 1489.3 991.1 1482.5 996.2 1476.6C1001.3 1470.7 1007.0 1464.7 1012.4 1460.5C1017.8 1456.3 1023.2 1453.5 1028.6 1451.6C1034.0 1449.7 1039.3 1449.3 1044.7 1449.1C1050.1 1448.9 1055.5 1450.4 1060.9 1450.3C1066.3 1450.2 1071.7 1450.0 1077.1 1448.5C1082.5 1447.0 1088.1 1443.6 1093.3 1441.0C1098.5 1438.4 1101.4 1437.1 1108.0 1433.0C1114.6 1428.9 1124.2 1423.7 1132.8 1416.5C1141.3 1409.3 1151.1 1398.5 1159.3 1390.0C1167.5 1381.5 1175.1 1373.5 1182.1 1365.3C1189.0 1357.1 1194.7 1350.2 1201.0 1340.7C1207.3 1331.2 1214.3 1319.8 1220.0 1308.4C1225.7 1297.0 1230.5 1285.4 1235.2 1272.4C1239.9 1259.5 1244.3 1245.9 1248.4 1230.7C1252.5 1215.5 1258.1 1189.6 1260.0 1181.4L1260.0 1359.6C1257.1 1362.8 1248.7 1373.5 1242.7 1378.6C1236.7 1383.7 1230.1 1387.0 1223.8 1390.0C1217.5 1393.0 1210.5 1393.8 1204.8 1396.8C1199.1 1399.8 1194.6 1403.1 1189.6 1408.0C1184.5 1412.9 1179.8 1419.8 1174.5 1426.0C1169.2 1432.2 1163.5 1439.3 1158.0 1445.0C1152.5 1450.7 1147.2 1454.7 1141.8 1460.0C1136.4 1465.3 1131.1 1471.1 1125.7 1476.6C1120.3 1482.1 1114.9 1487.7 1109.5 1492.8C1104.1 1497.9 1098.7 1502.6 1093.3 1507.0C1087.9 1511.4 1082.5 1515.5 1077.1 1519.1C1071.7 1522.7 1066.3 1525.8 1060.9 1528.4C1055.5 1531.0 1050.1 1532.7 1044.7 1534.5C1039.3 1536.3 1034.0 1537.2 1028.6 1539.4C1023.2 1541.6 1017.8 1544.4 1012.4 1547.4C1007.0 1550.4 1000.7 1554.6 996.2 1557.6C991.7 1560.5 990.2 1562.7 985.5 1565.1C980.8 1567.5 973.7 1569.5 967.8 1572.2C961.9 1574.9 956.0 1577.5 950.1 1581.1C944.2 1584.6 938.3 1589.7 932.4 1593.5C926.5 1597.3 920.6 1601.6 914.7 1604.1C908.8 1606.6 902.9 1608.0 897.0 1608.3C891.1 1608.6 884.6 1607.9 879.3 1605.9C874.0 1603.9 870.4 1601.5 865.1 1596.5C859.8 1591.5 853.3 1583.9 847.4 1576.0C841.5 1568.1 835.6 1558.8 829.7 1549.0C823.8 1539.2 817.3 1526.8 812.0 1517.0C806.7 1507.2 802.2 1496.7 798.0 1490.0C793.8 1483.3 790.7 1481.3 787.0 1477.0C783.3 1472.7 780.3 1469.5 775.9 1464.2C771.5 1458.9 765.8 1451.7 760.7 1445.2C755.6 1438.8 750.6 1432.1 745.5 1425.5C740.4 1418.9 735.3 1411.4 730.3 1405.8C725.2 1400.2 720.2 1395.0 715.2 1392.1C710.2 1389.2 703.9 1388.3 700.0 1388.3C696.1 1388.3 695.0 1389.6 692.0 1392.0C689.0 1394.4 686.0 1398.6 682.0 1402.7C678.0 1406.8 672.5 1411.8 667.8 1416.8C663.1 1421.8 658.3 1428.4 653.6 1432.8C648.9 1437.2 644.8 1440.5 639.5 1443.4C634.2 1446.4 627.7 1449.3 621.8 1450.5C615.9 1451.7 610.0 1450.9 604.1 1450.5C598.2 1450.1 592.3 1449.1 586.4 1448.0C580.5 1446.9 575.2 1445.6 568.7 1444.1C562.2 1442.6 554.5 1440.4 547.4 1439.1C540.3 1437.8 532.7 1437.3 526.2 1436.3C519.7 1435.2 514.4 1434.8 508.5 1432.8C502.6 1430.8 496.7 1426.7 490.8 1424.6C484.9 1422.5 478.7 1420.5 473.1 1420.4C467.5 1420.3 462.5 1421.6 457.2 1423.9C451.9 1426.2 446.3 1431.2 441.2 1434.5C436.1 1437.8 428.9 1441.9 426.4 1443.4Z" fill="rgba(255,97,0,0.37)"/>
<path d="M426.4 1399.1C428.9 1399.8 435.8 1401.9 441.2 1403.4C446.6 1404.9 453.0 1406.8 458.9 1408.0C464.8 1409.2 470.7 1410.0 476.6 1410.4C482.5 1410.8 488.4 1410.6 494.3 1410.4C500.2 1410.2 506.1 1408.6 512.0 1409.0C517.9 1409.4 523.8 1411.2 529.7 1412.6C535.6 1414.0 541.5 1416.2 547.4 1417.5C553.3 1418.8 559.2 1419.9 565.1 1420.4C571.0 1420.9 576.9 1420.7 582.8 1420.4C588.7 1420.1 594.6 1419.5 600.5 1418.6C606.4 1417.7 612.3 1416.8 618.2 1415.0C624.1 1413.2 630.6 1411.2 635.9 1408.0C641.2 1404.8 646.1 1400.2 650.1 1395.6C654.1 1391.0 656.0 1387.1 660.0 1380.5C664.0 1373.9 669.5 1363.2 674.2 1355.8C678.9 1348.4 683.9 1341.6 688.3 1336.3C692.7 1331.0 696.9 1326.6 700.7 1323.9C704.5 1321.2 707.8 1320.1 711.3 1320.4C714.8 1320.7 717.5 1321.6 721.9 1325.7C726.3 1329.8 732.4 1336.5 737.5 1345.1C742.6 1353.6 747.6 1365.8 752.5 1377.0C757.4 1388.2 762.8 1402.4 767.0 1412.4C771.2 1422.4 772.7 1425.6 777.5 1437.2C782.3 1448.8 790.2 1468.2 796.0 1481.9C801.8 1495.6 806.4 1507.6 812.0 1519.1C817.6 1530.6 823.8 1541.3 829.7 1551.0C835.6 1560.7 841.5 1569.5 847.4 1577.5C853.3 1585.5 859.2 1592.9 865.1 1598.8C871.0 1604.7 876.9 1609.2 882.8 1612.9C888.7 1616.6 894.6 1619.0 900.5 1621.1C906.4 1623.2 911.7 1624.2 918.2 1625.3C924.7 1626.4 932.4 1627.2 939.5 1627.8C946.6 1628.4 953.6 1628.9 960.7 1629.0C967.8 1629.1 974.7 1629.2 982.0 1628.6C989.3 1628.0 996.5 1626.7 1004.3 1625.4C1012.1 1624.1 1020.5 1622.2 1028.6 1620.8C1036.7 1619.4 1044.7 1618.0 1052.8 1617.0C1060.9 1616.0 1069.0 1615.1 1077.1 1614.5C1085.2 1613.9 1093.3 1613.8 1101.4 1613.4C1109.5 1613.0 1118.3 1612.9 1125.7 1612.2C1133.1 1611.5 1139.2 1610.8 1145.9 1609.4C1152.6 1608.1 1159.3 1605.2 1166.1 1604.1C1172.8 1602.9 1179.7 1602.7 1186.4 1602.5C1193.2 1602.3 1199.9 1602.8 1206.6 1603.0C1213.3 1603.2 1220.7 1604.0 1226.8 1604.0C1232.9 1604.0 1237.5 1603.6 1243.0 1602.8C1248.5 1602.0 1257.2 1599.8 1260.0 1599.2" fill="none" stroke="#109800" stroke-width="12"/>
<g clip-path="url(#cRB)"><path d="M426.4 1399.1C428.9 1399.8 435.8 1401.9 441.2 1403.4C446.6 1404.9 453.0 1406.8 458.9 1408.0C464.8 1409.2 470.7 1410.0 476.6 1410.4C482.5 1410.8 488.4 1410.6 494.3 1410.4C500.2 1410.2 506.1 1408.6 512.0 1409.0C517.9 1409.4 523.8 1411.2 529.7 1412.6C535.6 1414.0 541.5 1416.2 547.4 1417.5C553.3 1418.8 559.2 1419.9 565.1 1420.4C571.0 1420.9 576.9 1420.7 582.8 1420.4C588.7 1420.1 594.6 1419.5 600.5 1418.6C606.4 1417.7 612.3 1416.8 618.2 1415.0C624.1 1413.2 630.6 1411.2 635.9 1408.0C641.2 1404.8 646.1 1400.2 650.1 1395.6C654.1 1391.0 656.0 1387.1 660.0 1380.5C664.0 1373.9 669.5 1363.2 674.2 1355.8C678.9 1348.4 683.9 1341.6 688.3 1336.3C692.7 1331.0 696.9 1326.6 700.7 1323.9C704.5 1321.2 707.8 1320.1 711.3 1320.4C714.8 1320.7 717.5 1321.6 721.9 1325.7C726.3 1329.8 732.4 1336.5 737.5 1345.1C742.6 1353.6 747.6 1365.8 752.5 1377.0C757.4 1388.2 762.8 1402.4 767.0 1412.4C771.2 1422.4 772.7 1425.6 777.5 1437.2C782.3 1448.8 790.2 1468.2 796.0 1481.9C801.8 1495.6 806.4 1507.6 812.0 1519.1C817.6 1530.6 823.8 1541.3 829.7 1551.0C835.6 1560.7 841.5 1569.5 847.4 1577.5C853.3 1585.5 859.2 1592.9 865.1 1598.8C871.0 1604.7 876.9 1609.2 882.8 1612.9C888.7 1616.6 894.6 1619.0 900.5 1621.1C906.4 1623.2 911.7 1624.2 918.2 1625.3C924.7 1626.4 932.4 1627.2 939.5 1627.8C946.6 1628.4 953.6 1628.9 960.7 1629.0C967.8 1629.1 974.7 1629.2 982.0 1628.6C989.3 1628.0 996.5 1626.7 1004.3 1625.4C1012.1 1624.1 1020.5 1622.2 1028.6 1620.8C1036.7 1619.4 1044.7 1618.0 1052.8 1617.0C1060.9 1616.0 1069.0 1615.1 1077.1 1614.5C1085.2 1613.9 1093.3 1613.8 1101.4 1613.4C1109.5 1613.0 1118.3 1612.9 1125.7 1612.2C1133.1 1611.5 1139.2 1610.8 1145.9 1609.4C1152.6 1608.1 1159.3 1605.2 1166.1 1604.1C1172.8 1602.9 1179.7 1602.7 1186.4 1602.5C1193.2 1602.3 1199.9 1602.8 1206.6 1603.0C1213.3 1603.2 1220.7 1604.0 1226.8 1604.0C1232.9 1604.0 1237.5 1603.6 1243.0 1602.8C1248.5 1602.0 1257.2 1599.8 1260.0 1599.2" fill="none" stroke="#228000" stroke-width="12"/></g>
<path d="M426.4 1402.7C428.9 1401.0 436.1 1396.4 441.2 1392.7C446.3 1389.0 451.9 1383.5 457.2 1380.7C462.5 1377.9 467.5 1375.9 473.1 1376.1C478.7 1376.3 484.9 1379.4 490.8 1382.1C496.7 1384.8 502.6 1389.5 508.5 1392.0C514.4 1394.5 519.7 1396.2 526.2 1397.4C532.7 1398.6 540.3 1398.1 547.4 1399.1C554.5 1400.1 562.2 1401.6 568.7 1403.4C575.2 1405.2 580.5 1408.1 586.4 1409.7C592.3 1411.3 598.8 1413.4 604.1 1413.3C609.4 1413.2 613.5 1411.7 618.2 1409.0C622.9 1406.3 627.7 1402.3 632.4 1397.4C637.1 1392.5 641.9 1386.6 646.6 1379.7C651.3 1372.8 656.1 1364.1 660.7 1356.0C665.3 1347.9 669.6 1337.8 674.2 1331.0C678.8 1324.2 683.9 1318.7 688.3 1315.0C692.7 1311.3 696.9 1310.0 700.7 1308.7C704.5 1307.4 707.8 1306.8 711.3 1307.3C714.8 1307.8 717.8 1308.4 721.9 1311.5C726.0 1314.6 731.1 1318.9 736.0 1325.7C740.9 1332.5 746.1 1342.5 751.0 1352.2C755.9 1361.9 760.8 1373.5 765.5 1384.1C770.2 1394.7 774.8 1405.1 779.5 1415.9C784.2 1426.7 789.0 1437.1 794.0 1449.0C799.0 1460.9 803.5 1475.0 809.5 1487.3C815.5 1499.6 823.4 1511.8 829.7 1522.7C836.0 1533.6 841.5 1544.2 847.4 1552.7C853.3 1561.2 859.2 1568.4 865.1 1574.0C871.0 1579.6 876.9 1583.5 882.8 1586.4C888.7 1589.4 894.6 1591.2 900.5 1591.7C906.4 1592.2 912.3 1591.3 918.2 1589.2C924.1 1587.1 930.0 1583.6 935.9 1579.3C941.8 1575.0 947.7 1569.3 953.6 1563.4C959.5 1557.5 965.4 1550.4 971.3 1543.9C977.2 1537.4 984.2 1529.4 989.0 1524.4C993.8 1519.4 996.1 1517.2 1000.0 1513.8C1003.9 1510.4 1007.6 1507.3 1012.4 1504.2C1017.2 1501.1 1023.2 1497.1 1028.6 1494.9C1034.0 1492.7 1039.3 1492.2 1044.7 1490.8C1050.1 1489.4 1055.5 1488.5 1060.9 1486.8C1066.3 1485.1 1071.7 1483.1 1077.1 1480.7C1082.5 1478.3 1087.9 1475.8 1093.3 1472.6C1098.7 1469.4 1104.0 1465.6 1109.5 1461.7C1115.0 1457.8 1120.7 1453.8 1126.3 1449.0C1131.9 1444.2 1136.9 1439.7 1143.0 1433.0C1149.1 1426.3 1156.6 1416.8 1163.1 1409.0C1169.6 1401.2 1175.8 1393.8 1182.1 1386.2C1188.4 1378.6 1194.7 1371.3 1201.0 1363.4C1207.3 1355.5 1214.3 1346.7 1220.0 1338.8C1225.7 1330.9 1230.5 1323.6 1235.2 1316.0C1239.9 1308.4 1244.3 1300.8 1248.4 1293.3C1252.5 1285.8 1258.1 1274.9 1260.0 1271.2" fill="none" stroke="#ff2e00" stroke-width="12"/>
</g>
<g clip-path="url(#cIn)">
<path d="M426.4 1367.3C428.9 1367.4 435.8 1367.4 441.2 1368.0C446.6 1368.6 453.0 1369.9 458.9 1370.8C464.8 1371.7 470.7 1372.9 476.6 1373.6C482.5 1374.3 488.4 1374.9 494.3 1375.0C500.2 1375.1 506.1 1373.8 512.0 1374.3C517.9 1374.8 523.8 1376.6 529.7 1377.9C535.6 1379.2 541.5 1380.9 547.4 1382.1C553.3 1383.3 559.2 1385.1 565.1 1385.0C571.0 1384.9 576.9 1382.7 582.8 1381.4C588.7 1380.2 594.6 1379.3 600.5 1377.5C606.4 1375.7 612.9 1374.0 618.2 1370.5C623.5 1367.0 627.7 1361.6 632.4 1356.6C637.1 1351.6 642.0 1347.1 646.6 1340.7C651.2 1334.3 655.4 1327.3 660.0 1318.0C664.6 1308.7 669.5 1294.0 674.2 1285.0C678.9 1276.0 683.6 1269.6 688.3 1263.7C693.0 1257.8 698.1 1252.5 702.5 1249.6C706.9 1246.6 711.1 1245.7 714.9 1246.0C718.7 1246.3 722.0 1247.8 725.5 1251.3C729.0 1254.8 732.3 1259.6 736.1 1267.3C739.9 1275.0 744.1 1285.6 748.5 1297.4C752.9 1309.2 758.0 1324.0 762.7 1338.1C767.4 1352.2 772.6 1369.7 776.8 1382.0C781.0 1394.3 784.1 1400.5 788.0 1412.0C791.9 1423.5 796.0 1438.5 800.0 1451.0C804.0 1463.5 807.0 1475.0 812.0 1487.0C817.0 1499.0 824.1 1511.8 830.0 1522.7C835.9 1533.7 841.5 1543.5 847.4 1552.7C853.2 1561.9 859.8 1570.6 865.1 1578.0C870.4 1585.4 874.0 1591.7 879.3 1597.0C884.6 1602.3 890.5 1607.3 897.0 1610.1C903.5 1612.9 911.1 1613.0 918.2 1614.0C925.3 1615.0 931.2 1615.5 939.5 1616.0C947.8 1616.5 957.7 1617.4 967.8 1617.0C977.9 1616.6 989.9 1615.0 1000.0 1613.5C1010.1 1612.0 1019.8 1609.4 1028.6 1607.8C1037.4 1606.2 1044.7 1604.9 1052.8 1603.8C1060.9 1602.7 1069.0 1602.0 1077.1 1601.0C1085.2 1600.0 1093.3 1598.8 1101.4 1598.0C1109.5 1597.2 1118.3 1597.1 1125.7 1596.0C1133.1 1594.9 1139.2 1593.3 1145.9 1591.5C1152.6 1589.7 1159.3 1586.7 1166.1 1585.0C1172.8 1583.3 1179.7 1582.0 1186.4 1581.5C1193.2 1581.0 1199.9 1581.6 1206.6 1582.0C1213.3 1582.4 1220.7 1583.8 1226.8 1584.0C1232.9 1584.2 1237.5 1583.9 1243.0 1583.5C1248.5 1583.1 1257.2 1581.8 1260.0 1581.5L1260.0 1617.6C1257.2 1618.2 1248.5 1620.1 1243.0 1621.0C1237.5 1621.9 1232.9 1622.8 1226.8 1623.0C1220.7 1623.2 1213.3 1622.6 1206.6 1622.5C1199.9 1622.4 1193.2 1622.2 1186.4 1622.5C1179.7 1622.8 1172.8 1623.2 1166.1 1624.0C1159.3 1624.8 1152.6 1626.8 1145.9 1627.5C1139.2 1628.2 1133.1 1628.3 1125.7 1628.5C1118.3 1628.7 1109.5 1628.2 1101.4 1628.4C1093.3 1628.7 1085.2 1629.2 1077.1 1630.0C1069.0 1630.8 1060.9 1631.9 1052.8 1633.0C1044.7 1634.1 1036.7 1635.3 1028.6 1636.5C1020.5 1637.7 1012.1 1639.0 1004.3 1640.0C996.5 1641.0 989.3 1642.2 982.0 1642.5C974.7 1642.8 967.8 1642.2 960.7 1642.0C953.6 1641.8 946.6 1641.4 939.5 1641.0C932.4 1640.6 924.7 1640.2 918.2 1639.5C911.7 1638.8 906.4 1638.1 900.5 1636.6C894.6 1635.1 888.7 1633.4 882.8 1630.6C876.9 1627.8 871.0 1624.1 865.1 1620.0C859.2 1615.9 853.3 1611.5 847.4 1605.9C841.5 1600.3 835.6 1593.8 829.7 1586.4C823.8 1579.0 817.9 1570.8 812.0 1561.6C806.1 1552.4 799.4 1540.9 794.3 1531.0C789.2 1521.1 785.8 1511.3 781.5 1502.0C777.2 1492.7 773.0 1484.0 768.3 1475.0C763.6 1466.0 758.2 1456.8 753.1 1448.3C748.0 1439.8 743.0 1431.3 737.9 1424.0C732.8 1416.7 727.6 1409.1 722.8 1404.3C718.0 1399.5 712.9 1396.8 709.1 1395.2C705.3 1393.6 703.2 1393.8 700.0 1394.4C696.8 1395.0 693.0 1397.3 690.0 1399.0C687.0 1400.7 685.7 1401.1 682.0 1404.4C678.3 1407.7 672.5 1413.9 667.8 1418.6C663.1 1423.3 658.9 1428.3 653.6 1432.8C648.3 1437.3 641.8 1442.3 635.9 1445.8C630.0 1449.3 624.1 1452.0 618.2 1454.0C612.3 1456.0 606.4 1456.7 600.5 1457.5C594.6 1458.3 588.7 1458.7 582.8 1458.6C576.9 1458.5 571.0 1457.8 565.1 1456.8C559.2 1455.8 553.3 1454.4 547.4 1452.9C541.5 1451.4 535.6 1449.3 529.7 1448.0C523.8 1446.7 517.9 1445.3 512.0 1445.1C506.1 1444.9 500.2 1446.4 494.3 1446.9C488.4 1447.4 482.5 1448.3 476.6 1448.0C470.7 1447.7 464.8 1446.3 458.9 1445.1C453.0 1443.9 446.6 1442.1 441.2 1440.9C435.8 1439.7 428.9 1438.6 426.4 1438.1Z" fill="rgba(64,190,20,0.42)"/>
<path d="M426.4 1367.3C428.9 1364.6 436.1 1356.1 441.2 1351.3C446.3 1346.5 451.9 1341.0 457.2 1338.2C462.5 1335.4 467.5 1333.9 473.1 1334.3C478.7 1334.7 484.9 1337.7 490.8 1340.7C496.7 1343.7 502.6 1349.6 508.5 1352.4C514.4 1355.2 519.7 1356.1 526.2 1357.3C532.7 1358.5 540.3 1358.1 547.4 1359.5C554.5 1360.9 562.2 1363.4 568.7 1365.5C575.2 1367.6 580.5 1370.4 586.4 1371.9C592.3 1373.4 598.8 1374.8 604.1 1374.3C609.4 1373.8 613.5 1372.5 618.2 1369.0C622.9 1365.5 627.7 1359.9 632.4 1353.1C637.1 1346.3 642.0 1337.6 646.6 1328.3C651.2 1319.0 655.4 1307.6 660.0 1297.4C664.6 1287.2 669.5 1276.2 674.2 1267.3C678.9 1258.4 683.6 1250.3 688.3 1244.3C693.0 1238.3 698.4 1233.9 702.5 1231.2C706.6 1228.5 709.6 1228.1 713.1 1228.3C716.6 1228.5 719.9 1229.0 723.7 1232.6C727.5 1236.1 732.0 1242.0 736.1 1249.6C740.2 1257.1 744.1 1266.7 748.5 1277.9C752.9 1289.1 758.0 1303.8 762.7 1316.8C767.4 1329.8 772.1 1343.1 776.8 1355.8C781.5 1368.5 786.5 1382.2 791.0 1392.9C795.5 1403.6 799.5 1410.8 803.7 1420.0C808.0 1429.2 812.0 1436.8 816.5 1448.0C821.0 1459.2 826.4 1474.8 831.0 1487.3C835.6 1499.8 838.8 1512.1 843.9 1522.7C849.0 1533.3 855.7 1543.3 861.6 1551.0C867.5 1558.7 873.4 1564.4 879.3 1568.7C885.2 1573.0 891.7 1575.3 897.0 1576.8C902.3 1578.3 906.5 1578.5 911.2 1577.5C915.9 1576.5 920.6 1574.0 925.3 1570.5C930.0 1567.0 934.8 1561.9 939.5 1556.3C944.2 1550.7 948.9 1543.3 953.6 1536.8C958.3 1530.3 963.1 1524.2 967.8 1517.4C972.5 1510.6 977.3 1502.9 982.0 1496.1C986.7 1489.3 991.1 1482.5 996.2 1476.6C1001.3 1470.7 1007.0 1464.7 1012.4 1460.5C1017.8 1456.3 1023.2 1453.5 1028.6 1451.6C1034.0 1449.7 1039.3 1449.3 1044.7 1449.1C1050.1 1448.9 1055.5 1450.4 1060.9 1450.3C1066.3 1450.2 1071.7 1450.0 1077.1 1448.5C1082.5 1447.0 1088.1 1443.6 1093.3 1441.0C1098.5 1438.4 1101.4 1437.1 1108.0 1433.0C1114.6 1428.9 1124.2 1423.7 1132.8 1416.5C1141.3 1409.3 1151.1 1398.5 1159.3 1390.0C1167.5 1381.5 1175.1 1373.5 1182.1 1365.3C1189.0 1357.1 1194.7 1350.2 1201.0 1340.7C1207.3 1331.2 1214.3 1319.8 1220.0 1308.4C1225.7 1297.0 1230.5 1285.4 1235.2 1272.4C1239.9 1259.5 1244.3 1245.9 1248.4 1230.7C1252.5 1215.5 1258.1 1189.6 1260.0 1181.4L1260.0 1359.6C1257.1 1362.8 1248.7 1373.5 1242.7 1378.6C1236.7 1383.7 1230.1 1387.0 1223.8 1390.0C1217.5 1393.0 1210.5 1393.8 1204.8 1396.8C1199.1 1399.8 1194.6 1403.1 1189.6 1408.0C1184.5 1412.9 1179.8 1419.8 1174.5 1426.0C1169.2 1432.2 1163.5 1439.3 1158.0 1445.0C1152.5 1450.7 1147.2 1454.7 1141.8 1460.0C1136.4 1465.3 1131.1 1471.1 1125.7 1476.6C1120.3 1482.1 1114.9 1487.7 1109.5 1492.8C1104.1 1497.9 1098.7 1502.6 1093.3 1507.0C1087.9 1511.4 1082.5 1515.5 1077.1 1519.1C1071.7 1522.7 1066.3 1525.8 1060.9 1528.4C1055.5 1531.0 1050.1 1532.7 1044.7 1534.5C1039.3 1536.3 1034.0 1537.2 1028.6 1539.4C1023.2 1541.6 1017.8 1544.4 1012.4 1547.4C1007.0 1550.4 1000.7 1554.6 996.2 1557.6C991.7 1560.5 990.2 1562.7 985.5 1565.1C980.8 1567.5 973.7 1569.5 967.8 1572.2C961.9 1574.9 956.0 1577.5 950.1 1581.1C944.2 1584.6 938.3 1589.7 932.4 1593.5C926.5 1597.3 920.6 1601.6 914.7 1604.1C908.8 1606.6 902.9 1608.0 897.0 1608.3C891.1 1608.6 884.6 1607.9 879.3 1605.9C874.0 1603.9 870.4 1601.5 865.1 1596.5C859.8 1591.5 853.3 1583.9 847.4 1576.0C841.5 1568.1 835.6 1558.8 829.7 1549.0C823.8 1539.2 817.3 1526.8 812.0 1517.0C806.7 1507.2 802.2 1496.7 798.0 1490.0C793.8 1483.3 790.7 1481.3 787.0 1477.0C783.3 1472.7 780.3 1469.5 775.9 1464.2C771.5 1458.9 765.8 1451.7 760.7 1445.2C755.6 1438.8 750.6 1432.1 745.5 1425.5C740.4 1418.9 735.3 1411.4 730.3 1405.8C725.2 1400.2 720.2 1395.0 715.2 1392.1C710.2 1389.2 703.9 1388.3 700.0 1388.3C696.1 1388.3 695.0 1389.6 692.0 1392.0C689.0 1394.4 686.0 1398.6 682.0 1402.7C678.0 1406.8 672.5 1411.8 667.8 1416.8C663.1 1421.8 658.3 1428.4 653.6 1432.8C648.9 1437.2 644.8 1440.5 639.5 1443.4C634.2 1446.4 627.7 1449.3 621.8 1450.5C615.9 1451.7 610.0 1450.9 604.1 1450.5C598.2 1450.1 592.3 1449.1 586.4 1448.0C580.5 1446.9 575.2 1445.6 568.7 1444.1C562.2 1442.6 554.5 1440.4 547.4 1439.1C540.3 1437.8 532.7 1437.3 526.2 1436.3C519.7 1435.2 514.4 1434.8 508.5 1432.8C502.6 1430.8 496.7 1426.7 490.8 1424.6C484.9 1422.5 478.7 1420.5 473.1 1420.4C467.5 1420.3 462.5 1421.6 457.2 1423.9C451.9 1426.2 446.3 1431.2 441.2 1434.5C436.1 1437.8 428.9 1441.9 426.4 1443.4Z" fill="rgba(217,98,0,0.36)"/>
<path d="M426.4 1399.1C428.9 1399.8 435.8 1401.9 441.2 1403.4C446.6 1404.9 453.0 1406.8 458.9 1408.0C464.8 1409.2 470.7 1410.0 476.6 1410.4C482.5 1410.8 488.4 1410.6 494.3 1410.4C500.2 1410.2 506.1 1408.6 512.0 1409.0C517.9 1409.4 523.8 1411.2 529.7 1412.6C535.6 1414.0 541.5 1416.2 547.4 1417.5C553.3 1418.8 559.2 1419.9 565.1 1420.4C571.0 1420.9 576.9 1420.7 582.8 1420.4C588.7 1420.1 594.6 1419.5 600.5 1418.6C606.4 1417.7 612.3 1416.8 618.2 1415.0C624.1 1413.2 630.6 1411.2 635.9 1408.0C641.2 1404.8 646.1 1400.2 650.1 1395.6C654.1 1391.0 656.0 1387.1 660.0 1380.5C664.0 1373.9 669.5 1363.2 674.2 1355.8C678.9 1348.4 683.9 1341.6 688.3 1336.3C692.7 1331.0 696.9 1326.6 700.7 1323.9C704.5 1321.2 707.8 1320.1 711.3 1320.4C714.8 1320.7 717.5 1321.6 721.9 1325.7C726.3 1329.8 732.4 1336.5 737.5 1345.1C742.6 1353.6 747.6 1365.8 752.5 1377.0C757.4 1388.2 762.8 1402.4 767.0 1412.4C771.2 1422.4 772.7 1425.6 777.5 1437.2C782.3 1448.8 790.2 1468.2 796.0 1481.9C801.8 1495.6 806.4 1507.6 812.0 1519.1C817.6 1530.6 823.8 1541.3 829.7 1551.0C835.6 1560.7 841.5 1569.5 847.4 1577.5C853.3 1585.5 859.2 1592.9 865.1 1598.8C871.0 1604.7 876.9 1609.2 882.8 1612.9C888.7 1616.6 894.6 1619.0 900.5 1621.1C906.4 1623.2 911.7 1624.2 918.2 1625.3C924.7 1626.4 932.4 1627.2 939.5 1627.8C946.6 1628.4 953.6 1628.9 960.7 1629.0C967.8 1629.1 974.7 1629.2 982.0 1628.6C989.3 1628.0 996.5 1626.7 1004.3 1625.4C1012.1 1624.1 1020.5 1622.2 1028.6 1620.8C1036.7 1619.4 1044.7 1618.0 1052.8 1617.0C1060.9 1616.0 1069.0 1615.1 1077.1 1614.5C1085.2 1613.9 1093.3 1613.8 1101.4 1613.4C1109.5 1613.0 1118.3 1612.9 1125.7 1612.2C1133.1 1611.5 1139.2 1610.8 1145.9 1609.4C1152.6 1608.1 1159.3 1605.2 1166.1 1604.1C1172.8 1602.9 1179.7 1602.7 1186.4 1602.5C1193.2 1602.3 1199.9 1602.8 1206.6 1603.0C1213.3 1603.2 1220.7 1604.0 1226.8 1604.0C1232.9 1604.0 1237.5 1603.6 1243.0 1602.8C1248.5 1602.0 1257.2 1599.8 1260.0 1599.2" fill="none" stroke="#12960c" stroke-width="12"/>
<g clip-path="url(#cRB)"><path d="M426.4 1399.1C428.9 1399.8 435.8 1401.9 441.2 1403.4C446.6 1404.9 453.0 1406.8 458.9 1408.0C464.8 1409.2 470.7 1410.0 476.6 1410.4C482.5 1410.8 488.4 1410.6 494.3 1410.4C500.2 1410.2 506.1 1408.6 512.0 1409.0C517.9 1409.4 523.8 1411.2 529.7 1412.6C535.6 1414.0 541.5 1416.2 547.4 1417.5C553.3 1418.8 559.2 1419.9 565.1 1420.4C571.0 1420.9 576.9 1420.7 582.8 1420.4C588.7 1420.1 594.6 1419.5 600.5 1418.6C606.4 1417.7 612.3 1416.8 618.2 1415.0C624.1 1413.2 630.6 1411.2 635.9 1408.0C641.2 1404.8 646.1 1400.2 650.1 1395.6C654.1 1391.0 656.0 1387.1 660.0 1380.5C664.0 1373.9 669.5 1363.2 674.2 1355.8C678.9 1348.4 683.9 1341.6 688.3 1336.3C692.7 1331.0 696.9 1326.6 700.7 1323.9C704.5 1321.2 707.8 1320.1 711.3 1320.4C714.8 1320.7 717.5 1321.6 721.9 1325.7C726.3 1329.8 732.4 1336.5 737.5 1345.1C742.6 1353.6 747.6 1365.8 752.5 1377.0C757.4 1388.2 762.8 1402.4 767.0 1412.4C771.2 1422.4 772.7 1425.6 777.5 1437.2C782.3 1448.8 790.2 1468.2 796.0 1481.9C801.8 1495.6 806.4 1507.6 812.0 1519.1C817.6 1530.6 823.8 1541.3 829.7 1551.0C835.6 1560.7 841.5 1569.5 847.4 1577.5C853.3 1585.5 859.2 1592.9 865.1 1598.8C871.0 1604.7 876.9 1609.2 882.8 1612.9C888.7 1616.6 894.6 1619.0 900.5 1621.1C906.4 1623.2 911.7 1624.2 918.2 1625.3C924.7 1626.4 932.4 1627.2 939.5 1627.8C946.6 1628.4 953.6 1628.9 960.7 1629.0C967.8 1629.1 974.7 1629.2 982.0 1628.6C989.3 1628.0 996.5 1626.7 1004.3 1625.4C1012.1 1624.1 1020.5 1622.2 1028.6 1620.8C1036.7 1619.4 1044.7 1618.0 1052.8 1617.0C1060.9 1616.0 1069.0 1615.1 1077.1 1614.5C1085.2 1613.9 1093.3 1613.8 1101.4 1613.4C1109.5 1613.0 1118.3 1612.9 1125.7 1612.2C1133.1 1611.5 1139.2 1610.8 1145.9 1609.4C1152.6 1608.1 1159.3 1605.2 1166.1 1604.1C1172.8 1602.9 1179.7 1602.7 1186.4 1602.5C1193.2 1602.3 1199.9 1602.8 1206.6 1603.0C1213.3 1603.2 1220.7 1604.0 1226.8 1604.0C1232.9 1604.0 1237.5 1603.6 1243.0 1602.8C1248.5 1602.0 1257.2 1599.8 1260.0 1599.2" fill="none" stroke="#1c8a06" stroke-width="12"/></g>
<path d="M426.4 1402.7C428.9 1401.0 436.1 1396.4 441.2 1392.7C446.3 1389.0 451.9 1383.5 457.2 1380.7C462.5 1377.9 467.5 1375.9 473.1 1376.1C478.7 1376.3 484.9 1379.4 490.8 1382.1C496.7 1384.8 502.6 1389.5 508.5 1392.0C514.4 1394.5 519.7 1396.2 526.2 1397.4C532.7 1398.6 540.3 1398.1 547.4 1399.1C554.5 1400.1 562.2 1401.6 568.7 1403.4C575.2 1405.2 580.5 1408.1 586.4 1409.7C592.3 1411.3 598.8 1413.4 604.1 1413.3C609.4 1413.2 613.5 1411.7 618.2 1409.0C622.9 1406.3 627.7 1402.3 632.4 1397.4C637.1 1392.5 641.9 1386.6 646.6 1379.7C651.3 1372.8 656.1 1364.1 660.7 1356.0C665.3 1347.9 669.6 1337.8 674.2 1331.0C678.8 1324.2 683.9 1318.7 688.3 1315.0C692.7 1311.3 696.9 1310.0 700.7 1308.7C704.5 1307.4 707.8 1306.8 711.3 1307.3C714.8 1307.8 717.8 1308.4 721.9 1311.5C726.0 1314.6 731.1 1318.9 736.0 1325.7C740.9 1332.5 746.1 1342.5 751.0 1352.2C755.9 1361.9 760.8 1373.5 765.5 1384.1C770.2 1394.7 774.8 1405.1 779.5 1415.9C784.2 1426.7 789.0 1437.1 794.0 1449.0C799.0 1460.9 803.5 1475.0 809.5 1487.3C815.5 1499.6 823.4 1511.8 829.7 1522.7C836.0 1533.6 841.5 1544.2 847.4 1552.7C853.3 1561.2 859.2 1568.4 865.1 1574.0C871.0 1579.6 876.9 1583.5 882.8 1586.4C888.7 1589.4 894.6 1591.2 900.5 1591.7C906.4 1592.2 912.3 1591.3 918.2 1589.2C924.1 1587.1 930.0 1583.6 935.9 1579.3C941.8 1575.0 947.7 1569.3 953.6 1563.4C959.5 1557.5 965.4 1550.4 971.3 1543.9C977.2 1537.4 984.2 1529.4 989.0 1524.4C993.8 1519.4 996.1 1517.2 1000.0 1513.8C1003.9 1510.4 1007.6 1507.3 1012.4 1504.2C1017.2 1501.1 1023.2 1497.1 1028.6 1494.9C1034.0 1492.7 1039.3 1492.2 1044.7 1490.8C1050.1 1489.4 1055.5 1488.5 1060.9 1486.8C1066.3 1485.1 1071.7 1483.1 1077.1 1480.7C1082.5 1478.3 1087.9 1475.8 1093.3 1472.6C1098.7 1469.4 1104.0 1465.6 1109.5 1461.7C1115.0 1457.8 1120.7 1453.8 1126.3 1449.0C1131.9 1444.2 1136.9 1439.7 1143.0 1433.0C1149.1 1426.3 1156.6 1416.8 1163.1 1409.0C1169.6 1401.2 1175.8 1393.8 1182.1 1386.2C1188.4 1378.6 1194.7 1371.3 1201.0 1363.4C1207.3 1355.5 1214.3 1346.7 1220.0 1338.8C1225.7 1330.9 1230.5 1323.6 1235.2 1316.0C1239.9 1308.4 1244.3 1300.8 1248.4 1293.3C1252.5 1285.8 1258.1 1274.9 1260.0 1271.2" fill="none" stroke="#d83a08" stroke-width="12"/>
</g>
<path class="ax" stroke-width="4.6" d="M315 1181.3H304.8V1591.2H315M304.8 1283.8H315M304.8 1386.4H315M304.8 1488.9H315"/>
<text x="270.8" y="1202.9" font-size="45.6" text-anchor="end">0.25</text>
<text x="270.8" y="1408.0" font-size="45.6" text-anchor="end">0.15</text>
<text x="270.8" y="1612.8" font-size="45.6" text-anchor="end">0.05</text>
<text transform="translate(102.6 1388) rotate(-90)" font-size="45" text-anchor="middle">P (β-bursts)</text>
<path class="ax" stroke-width="3.9" d="M426.7 1632.5V1642.6H1260.5V1632.5M704 1632.5V1642.6M982 1632.5V1642.6"/>
<text x="429.0" y="1710" font-size="45.6" text-anchor="middle">-250</text>
<text x="703.5" y="1710" font-size="45.6" text-anchor="middle">0</text>
<text x="981.0" y="1710" font-size="45.6" text-anchor="middle">250</text>
<text x="1259.0" y="1710" font-size="45.6" text-anchor="middle">500</text>
<text x="864" y="1808.8" font-size="44.6" text-anchor="middle">Time from Saccade (ms)</text>
</g>
<g id="panelB">
<text class="b" x="-0.3" y="1929" font-size="102.5">B</text>
<path d="M325.9 2809.3H1259.3" stroke="#111" stroke-width="3.6" stroke-dasharray="15.9 13.006" fill="none"/>
<path class="ax" stroke-width="4.9" d="M317 2079.9H305.2V2931.1H317M305.2 2201.5H317M305.2 2323.1H317M305.2 2444.7H317M305.2 2566.3H317M305.2 2687.9H317M305.2 2809.5H317"/>
<text x="263.5" y="2101.9" font-size="45.6" text-anchor="end">1.6</text>
<text x="263.5" y="2345.1" font-size="45.6" text-anchor="end">1.4</text>
<text x="263.5" y="2588.3" font-size="45.6" text-anchor="end">1.2</text>
<text x="263.5" y="2831.5" font-size="45.6" text-anchor="end">1.0</text>
<text transform="translate(110.2 2476.3) rotate(-90)" font-size="45" text-anchor="middle">RT Adaptation Index</text>
<text class="b" x="379.5" y="2120.7" font-size="52.7">Monkey</text>
<rect x="417" y="2176.4" width="34" height="29.6" fill="#28343a"/>
<rect x="417" y="2271.6" width="34" height="29.8" fill="#2c757f"/>
<text x="505" y="2211.7" font-size="51">Euler</text>
<text x="505" y="2307.3" font-size="51">Xena</text>
<path d="M494.3 2436.2V2529.1M494.3 2670.7V2759.7" stroke="#050505" stroke-width="4.1" fill="none"/>
<rect x="442.6" y="2531.5" width="103.6" height="136.8" fill="#363273" stroke="#050505" stroke-width="4.8"/>
<path d="M442.6 2623.4H546.2" stroke="#050505" stroke-width="4.8"/>
<path d="M616.0 2664.5V2730.9M616.0 2818.1V2903.5" stroke="#050505" stroke-width="4.1" fill="none"/>
<rect x="564.7" y="2733.3" width="103.2" height="82.4" fill="#2a737c" stroke="#050505" stroke-width="4.8"/>
<path d="M564.7 2765.9H667.9" stroke="#050505" stroke-width="4.8"/>
<path d="M946.8 2305.7V2444.8M946.8 2570.5V2731.3" stroke="#050505" stroke-width="4.1" fill="none"/>
<rect x="894.7" y="2447.2" width="104.2" height="120.9" fill="#363273" stroke="#050505" stroke-width="4.8"/>
<path d="M894.7 2506.0H998.9" stroke="#050505" stroke-width="4.8"/>
<path d="M1068.2 2235.0V2353.5M1068.2 2501.5V2551.0" stroke="#050505" stroke-width="4.1" fill="none"/>
<rect x="1016.5" y="2355.9" width="103.7" height="143.2" fill="#2a737c" stroke="#050505" stroke-width="4.8"/>
<path d="M1016.5 2440.3H1120.2" stroke="#050505" stroke-width="4.8"/>
<text x="562" y="3022.5" font-size="45" text-anchor="middle">Post-Error</text>
<text x="1016" y="3022.5" font-size="45" text-anchor="middle">Post-Stopping</text>
</g>
<g id="panelC">
<text class="b" x="-1" y="3142" font-size="103.5">C</text>
<defs><clipPath id="cTB"><path d="M428.6 3335.0C435.5 3339.5 456.3 3352.7 470.0 3362.0C483.7 3371.3 494.8 3380.1 511.0 3391.0C527.2 3401.9 552.2 3419.0 567.0 3427.4C581.8 3435.8 586.1 3436.2 600.0 3441.5C613.9 3446.8 633.8 3454.2 650.6 3459.0C667.5 3463.8 684.2 3467.7 701.1 3470.5C718.0 3473.3 734.8 3474.9 751.7 3476.0C768.6 3477.1 785.4 3477.2 802.3 3477.0C819.1 3476.8 835.9 3476.1 852.8 3474.6C869.6 3473.1 886.5 3470.5 903.4 3468.0C920.3 3465.5 937.9 3462.5 954.0 3459.4C970.1 3456.3 985.2 3452.5 1000.0 3449.3C1014.8 3446.2 1013.9 3447.4 1043.0 3440.5C1072.1 3433.6 1134.6 3418.0 1174.4 3407.6C1214.2 3397.2 1263.7 3382.9 1281.6 3378.0L1281.6 4045.3C1263.7 4030.5 1214.2 3988.2 1174.4 3956.6C1134.6 3925.0 1079.7 3884.6 1043.0 3856.0C1006.3 3827.4 977.3 3803.5 954.0 3785.0C930.7 3766.5 922.4 3759.8 903.4 3745.0C884.4 3730.2 859.0 3708.6 840.0 3696.0C821.0 3683.4 807.1 3678.5 789.4 3669.4C771.7 3660.3 752.3 3649.8 733.8 3641.6C715.3 3633.4 693.8 3625.0 678.2 3620.5C662.6 3616.0 653.9 3616.1 640.0 3614.5C626.1 3612.9 606.9 3611.8 594.7 3611.0C582.5 3610.2 580.9 3609.5 567.0 3610.0C553.1 3610.5 527.5 3612.0 511.3 3613.8C495.1 3615.6 483.8 3618.3 470.0 3621.0C456.2 3623.7 435.5 3628.5 428.6 3630.0Z"/></clipPath></defs>
<path d="M428.6 3335.0C435.5 3339.5 456.3 3352.7 470.0 3362.0C483.7 3371.3 494.8 3380.1 511.0 3391.0C527.2 3401.9 552.2 3419.0 567.0 3427.4C581.8 3435.8 586.1 3436.2 600.0 3441.5C613.9 3446.8 633.8 3454.2 650.6 3459.0C667.5 3463.8 684.2 3467.7 701.1 3470.5C718.0 3473.3 734.8 3474.9 751.7 3476.0C768.6 3477.1 785.4 3477.2 802.3 3477.0C819.1 3476.8 835.9 3476.1 852.8 3474.6C869.6 3473.1 886.5 3470.5 903.4 3468.0C920.3 3465.5 937.9 3462.5 954.0 3459.4C970.1 3456.3 985.2 3452.5 1000.0 3449.3C1014.8 3446.2 1013.9 3447.4 1043.0 3440.5C1072.1 3433.6 1134.6 3418.0 1174.4 3407.6C1214.2 3397.2 1263.7 3382.9 1281.6 3378.0L1281.6 4045.3C1263.7 4030.5 1214.2 3988.2 1174.4 3956.6C1134.6 3925.0 1079.7 3884.6 1043.0 3856.0C1006.3 3827.4 977.3 3803.5 954.0 3785.0C930.7 3766.5 922.4 3759.8 903.4 3745.0C884.4 3730.2 859.0 3708.6 840.0 3696.0C821.0 3683.4 807.1 3678.5 789.4 3669.4C771.7 3660.3 752.3 3649.8 733.8 3641.6C715.3 3633.4 693.8 3625.0 678.2 3620.5C662.6 3616.0 653.9 3616.1 640.0 3614.5C626.1 3612.9 606.9 3611.8 594.7 3611.0C582.5 3610.2 580.9 3609.5 567.0 3610.0C553.1 3610.5 527.5 3612.0 511.3 3613.8C495.1 3615.6 483.8 3618.3 470.0 3621.0C456.2 3623.7 435.5 3628.5 428.6 3630.0Z" fill="#f8f8f9"/>
<path d="M428.6 3481.7C449.6 3487.4 514.1 3504.8 554.5 3515.7C594.9 3526.6 633.2 3536.8 670.8 3547.1C708.4 3557.4 749.7 3569.3 780.0 3577.5C810.3 3585.7 832.2 3591.5 852.8 3596.0C873.4 3600.5 886.5 3603.2 903.4 3604.6C920.3 3606.0 937.9 3605.7 954.0 3604.6C970.1 3603.5 985.2 3601.8 1000.0 3598.0C1014.8 3594.2 1013.9 3593.2 1043.0 3581.8C1072.1 3570.4 1134.6 3547.4 1174.4 3529.3C1214.2 3511.2 1263.7 3482.7 1281.6 3473.4L1281.6 3804.0C1263.7 3798.8 1214.2 3781.0 1174.4 3772.5C1134.6 3764.0 1081.3 3755.0 1043.0 3752.8C1004.7 3750.6 977.3 3753.3 944.4 3759.3C911.5 3765.3 873.1 3779.7 845.7 3789.0C818.3 3798.3 809.1 3801.4 780.0 3815.2C750.9 3829.0 708.4 3852.0 670.8 3872.0C633.2 3892.0 594.9 3912.7 554.5 3935.0C514.1 3957.3 449.6 3993.8 428.6 4005.6Z" fill="#f5eef7"/>
<g clip-path="url(#cTB)"><path d="M428.6 3481.7C449.6 3487.4 514.1 3504.8 554.5 3515.7C594.9 3526.6 633.2 3536.8 670.8 3547.1C708.4 3557.4 749.7 3569.3 780.0 3577.5C810.3 3585.7 832.2 3591.5 852.8 3596.0C873.4 3600.5 886.5 3603.2 903.4 3604.6C920.3 3606.0 937.9 3605.7 954.0 3604.6C970.1 3603.5 985.2 3601.8 1000.0 3598.0C1014.8 3594.2 1013.9 3593.2 1043.0 3581.8C1072.1 3570.4 1134.6 3547.4 1174.4 3529.3C1214.2 3511.2 1263.7 3482.7 1281.6 3473.4L1281.6 3804.0C1263.7 3798.8 1214.2 3781.0 1174.4 3772.5C1134.6 3764.0 1081.3 3755.0 1043.0 3752.8C1004.7 3750.6 977.3 3753.3 944.4 3759.3C911.5 3765.3 873.1 3779.7 845.7 3789.0C818.3 3798.3 809.1 3801.4 780.0 3815.2C750.9 3829.0 708.4 3852.0 670.8 3872.0C633.2 3892.0 594.9 3912.7 554.5 3935.0C514.1 3957.3 449.6 3993.8 428.6 4005.6Z" fill="#f0eff5"/></g>
<path d="M428.6 3479.7L1281.6 3710" stroke="rgba(41,113,140,0.18)" stroke-width="8" fill="none"/>
<path d="M428.6 3744.6L1281.6 3641" stroke="#bcb6d6" stroke-width="10" fill="none"/>
<circle cx="773.0" cy="3633.3" r="19.1" fill="#08042a"/>
<circle cx="690.2" cy="3914.1" r="19.1" fill="#08042a"/>
<circle cx="849.7" cy="3518.6" r="19.1" fill="#08042a"/>
<circle cx="864.8" cy="3552.8" r="19.1" fill="#08042a"/>
<circle cx="874.7" cy="3678.3" r="19.1" fill="#08042a"/>
<circle cx="944.4" cy="3700.7" r="19.1" fill="#08042a"/>
<circle cx="931.2" cy="3830.9" r="19.1" fill="#08042a"/>
<circle cx="1032.4" cy="3628.4" r="19.1" fill="#08042a"/>
<circle cx="1092.3" cy="3648.1" r="19.1" fill="#08042a"/>
<circle cx="1121.9" cy="3602.1" r="19.1" fill="#08042a"/>
<circle cx="1131.7" cy="3786.8" r="19.1" fill="#08042a"/>
<circle cx="1280.9" cy="3655.3" r="19.1" fill="#08042a"/>
<circle cx="428.6" cy="3317.1" r="19.1" fill="#29717d"/>
<circle cx="437.1" cy="3458.5" r="19.1" fill="#29717d"/>
<circle cx="487.1" cy="3647.8" r="19.1" fill="#29717d"/>
<circle cx="558.7" cy="3730.0" r="19.1" fill="#29717d"/>
<circle cx="600.2" cy="3484.8" r="19.1" fill="#29717d"/>
<circle cx="629.7" cy="3534.1" r="19.1" fill="#29717d"/>
<circle cx="653.4" cy="3644.5" r="19.1" fill="#29717d"/>
<circle cx="683.0" cy="3327.7" r="19.1" fill="#29717d"/>
<circle cx="681.0" cy="3386.2" r="19.1" fill="#29717d"/>
<circle cx="679.7" cy="3755.0" r="19.1" fill="#29717d"/>
<circle cx="739.5" cy="3378.3" r="19.1" fill="#29717d"/>
<circle cx="738.2" cy="3490.0" r="19.1" fill="#29717d"/>
<circle cx="737.5" cy="3647.8" r="19.1" fill="#29717d"/>
<circle cx="736.2" cy="3659.0" r="19.1" fill="#29717d"/>
<circle cx="818.8" cy="3422.6" r="19.1" fill="#29717d"/>
<circle cx="864.1" cy="3711.9" r="19.1" fill="#29717d"/>
<circle cx="988.4" cy="3684.3" r="19.1" fill="#29717d"/>
<path class="ax" stroke-width="4.7" d="M317 3279.3H305.2V3995.6H317M305.2 3458.3H317M305.2 3637.2H317M305.2 3816.1H317"/>
<text x="265" y="3314.0" font-size="45.6" text-anchor="end">0.2</text>
<text x="265" y="3652.8" font-size="45.6" text-anchor="end">0.1</text>
<text x="265" y="4011.7" font-size="45.6" text-anchor="end">0.0</text>
<text transform="translate(110.2 3631) rotate(-90)" font-size="45" text-anchor="middle">P (β-bursts)</text>
<path class="ax" stroke-width="4.4" d="M378.5 4018.5V4030.3H1264.8V4018.5M600 4018.5V4030.3M821.8 4018.5V4030.3M1043.3 4018.5V4030.3"/>
<text x="379" y="4115.2" font-size="45.6" text-anchor="middle">0.9</text>
<text x="821.5" y="4115.2" font-size="45.6" text-anchor="middle">1.1</text>
<text x="1279" y="4115.2" font-size="45.6" text-anchor="end">1.3</text>
<text x="862.5" y="4216.8" font-size="45" text-anchor="middle">RT Adaptation Index</text>
<rect x="976" y="3294" width="30.8" height="29.6" fill="#08042a"/>
<rect x="976" y="3376.8" width="30.8" height="30" fill="#29717d"/>
<text x="1047.8" y="3327.4" font-size="45.9">Monkey Eu</text>
<text x="1047.8" y="3409.6" font-size="45.9">Monkey X</text>
</g>
</svg>
</body></html>
